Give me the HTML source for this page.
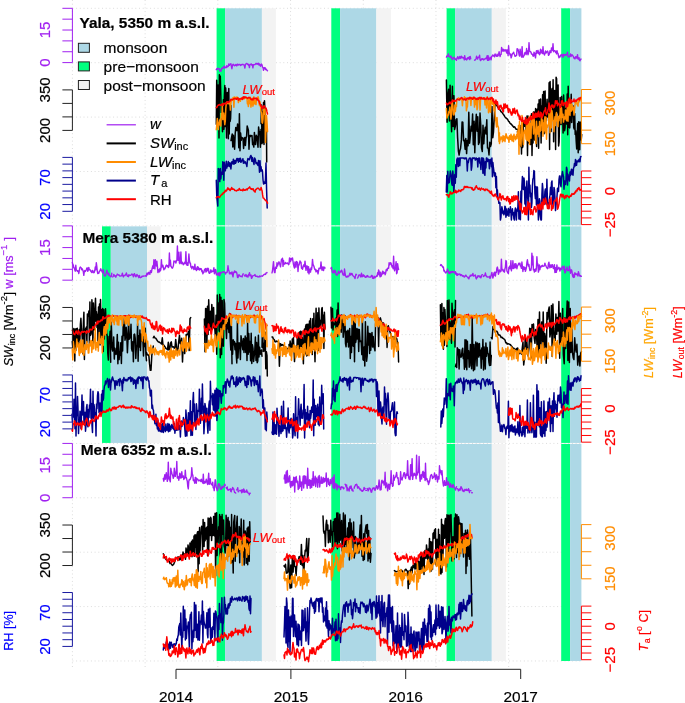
<!DOCTYPE html>
<html><head><meta charset="utf-8"><style>html,body{margin:0;padding:0;background:#fff;overflow:hidden}svg{display:block;will-change:transform} text{stroke-width:0.2px;paint-order:stroke}</style></head>
<body><svg width="685" height="703" viewBox="0 0 685 703">
<rect width="685" height="703" fill="#fff"/>
<line x1="72.40" y1="0" x2="72.40" y2="669" stroke="#dcdcdc" stroke-width="1" stroke-dasharray="1 2.7"/>
<line x1="145.11" y1="0" x2="145.11" y2="669" stroke="#dcdcdc" stroke-width="1" stroke-dasharray="1 2.7"/>
<line x1="217.83" y1="0" x2="217.83" y2="669" stroke="#dcdcdc" stroke-width="1" stroke-dasharray="1 2.7"/>
<line x1="290.54" y1="0" x2="290.54" y2="669" stroke="#dcdcdc" stroke-width="1" stroke-dasharray="1 2.7"/>
<line x1="363.26" y1="0" x2="363.26" y2="669" stroke="#dcdcdc" stroke-width="1" stroke-dasharray="1 2.7"/>
<line x1="435.97" y1="0" x2="435.97" y2="669" stroke="#dcdcdc" stroke-width="1" stroke-dasharray="1 2.7"/>
<line x1="508.69" y1="0" x2="508.69" y2="669" stroke="#dcdcdc" stroke-width="1" stroke-dasharray="1 2.7"/>
<line x1="72.4" y1="8.30" x2="581.4" y2="8.30" stroke="#dcdcdc" stroke-width="1" stroke-dasharray="1 2.7"/>
<line x1="72.4" y1="62.69" x2="581.4" y2="62.69" stroke="#dcdcdc" stroke-width="1" stroke-dasharray="1 2.7"/>
<line x1="72.4" y1="117.08" x2="581.4" y2="117.08" stroke="#dcdcdc" stroke-width="1" stroke-dasharray="1 2.7"/>
<line x1="72.4" y1="171.47" x2="581.4" y2="171.47" stroke="#dcdcdc" stroke-width="1" stroke-dasharray="1 2.7"/>
<line x1="72.4" y1="225.86" x2="581.4" y2="225.86" stroke="#dcdcdc" stroke-width="1" stroke-dasharray="1 2.7"/>
<line x1="72.4" y1="280.25" x2="581.4" y2="280.25" stroke="#dcdcdc" stroke-width="1" stroke-dasharray="1 2.7"/>
<line x1="72.4" y1="334.64" x2="581.4" y2="334.64" stroke="#dcdcdc" stroke-width="1" stroke-dasharray="1 2.7"/>
<line x1="72.4" y1="389.03" x2="581.4" y2="389.03" stroke="#dcdcdc" stroke-width="1" stroke-dasharray="1 2.7"/>
<line x1="72.4" y1="443.42" x2="581.4" y2="443.42" stroke="#dcdcdc" stroke-width="1" stroke-dasharray="1 2.7"/>
<line x1="72.4" y1="497.81" x2="581.4" y2="497.81" stroke="#dcdcdc" stroke-width="1" stroke-dasharray="1 2.7"/>
<line x1="72.4" y1="552.20" x2="581.4" y2="552.20" stroke="#dcdcdc" stroke-width="1" stroke-dasharray="1 2.7"/>
<line x1="72.4" y1="606.59" x2="581.4" y2="606.59" stroke="#dcdcdc" stroke-width="1" stroke-dasharray="1 2.7"/>
<line x1="72.4" y1="660.98" x2="581.4" y2="660.98" stroke="#dcdcdc" stroke-width="1" stroke-dasharray="1 2.7"/>
<rect x="216.60" y="8.30" width="8.50" height="217.06" fill="#00ff7f"/>
<rect x="225.10" y="8.30" width="36.80" height="217.06" fill="#add8e6"/>
<rect x="261.90" y="8.30" width="14.00" height="217.06" fill="#f3f3f3"/>
<rect x="331.30" y="8.30" width="8.80" height="217.06" fill="#00ff7f"/>
<rect x="340.10" y="8.30" width="36.30" height="217.06" fill="#add8e6"/>
<rect x="376.40" y="8.30" width="14.50" height="217.06" fill="#f3f3f3"/>
<rect x="446.60" y="8.30" width="8.50" height="217.06" fill="#00ff7f"/>
<rect x="455.10" y="8.30" width="36.70" height="217.06" fill="#add8e6"/>
<rect x="491.80" y="8.30" width="14.10" height="217.06" fill="#f3f3f3"/>
<rect x="561.20" y="8.30" width="8.90" height="217.06" fill="#00ff7f"/>
<rect x="570.10" y="8.30" width="11.30" height="217.06" fill="#add8e6"/>
<rect x="102.00" y="226.36" width="8.80" height="216.56" fill="#00ff7f"/>
<rect x="110.80" y="226.36" width="36.20" height="216.56" fill="#add8e6"/>
<rect x="147.00" y="226.36" width="13.60" height="216.56" fill="#f3f3f3"/>
<rect x="216.60" y="226.36" width="8.50" height="216.56" fill="#00ff7f"/>
<rect x="225.10" y="226.36" width="36.80" height="216.56" fill="#add8e6"/>
<rect x="261.90" y="226.36" width="14.00" height="216.56" fill="#f3f3f3"/>
<rect x="331.30" y="226.36" width="8.80" height="216.56" fill="#00ff7f"/>
<rect x="340.10" y="226.36" width="36.30" height="216.56" fill="#add8e6"/>
<rect x="376.40" y="226.36" width="14.50" height="216.56" fill="#f3f3f3"/>
<rect x="446.60" y="226.36" width="8.50" height="216.56" fill="#00ff7f"/>
<rect x="455.10" y="226.36" width="36.70" height="216.56" fill="#add8e6"/>
<rect x="491.80" y="226.36" width="14.10" height="216.56" fill="#f3f3f3"/>
<rect x="561.20" y="226.36" width="8.90" height="216.56" fill="#00ff7f"/>
<rect x="570.10" y="226.36" width="11.30" height="216.56" fill="#add8e6"/>
<rect x="216.60" y="443.92" width="8.50" height="217.06" fill="#00ff7f"/>
<rect x="225.10" y="443.92" width="36.80" height="217.06" fill="#add8e6"/>
<rect x="261.90" y="443.92" width="14.00" height="217.06" fill="#f3f3f3"/>
<rect x="331.30" y="443.92" width="8.80" height="217.06" fill="#00ff7f"/>
<rect x="340.10" y="443.92" width="36.30" height="217.06" fill="#add8e6"/>
<rect x="376.40" y="443.92" width="14.50" height="217.06" fill="#f3f3f3"/>
<rect x="446.60" y="443.92" width="8.50" height="217.06" fill="#00ff7f"/>
<rect x="455.10" y="443.92" width="36.70" height="217.06" fill="#add8e6"/>
<rect x="491.80" y="443.92" width="14.10" height="217.06" fill="#f3f3f3"/>
<rect x="561.20" y="443.92" width="8.90" height="217.06" fill="#00ff7f"/>
<rect x="570.10" y="443.92" width="11.30" height="217.06" fill="#add8e6"/>
<path d="M216.3,69.7 216.8,68.8 217.3,69.3 217.8,68.2 218.3,68.6 218.8,68.7 219.3,69.0 219.8,71.0 220.3,70.3 220.8,71.3 221.3,69.7 221.8,68.1 222.3,68.1 222.8,68.4 223.3,67.1 223.8,66.7 224.3,66.1 224.8,68.0 225.3,67.4 225.8,67.1 226.3,67.5 226.8,65.7 227.3,66.9 227.8,66.5 228.3,66.3 228.8,63.9 229.4,65.3 229.9,64.5 230.4,64.1 230.9,63.7 231.4,66.3 231.9,68.7 232.4,65.7 232.9,64.5 233.4,64.3 233.9,65.3 234.4,65.7 234.9,65.2 235.4,65.4 235.9,64.4 236.4,65.9 236.9,65.8 237.4,64.2 237.9,64.4 238.4,64.9 238.9,64.4 239.4,64.6 239.9,64.4 240.4,65.3 240.9,65.5 241.4,64.6 241.9,64.5 242.4,64.6 242.9,64.3 243.4,64.6 243.9,64.8 244.4,66.1 244.9,68.0 245.4,64.4 245.9,64.0 246.4,63.4 246.9,63.5 247.4,64.2 247.9,64.3 248.4,65.2 248.9,64.3 249.4,67.6 249.9,64.8 250.4,64.6 250.9,64.1 251.4,64.0 251.9,65.3 252.4,64.7 252.9,67.9 253.4,64.7 253.9,64.7 254.4,64.6 255.0,64.5 255.5,64.0 256.0,63.3 256.5,63.8 257.0,64.2 257.5,63.5 258.0,63.9 258.5,63.3 259.0,65.1 259.5,64.1 260.0,64.5 260.5,66.2 261.0,64.8 261.5,64.1 262.0,64.8 262.5,67.1 263.0,67.7 263.5,70.3 264.0,67.7 264.5,68.4 265.0,67.5 265.5,69.5 266.0,69.0 266.5,69.7 267.0,70.4 267.5,70.8" fill="none" stroke="#a020f0" stroke-width="1.4" stroke-linejoin="round" stroke-linecap="round"/>
<path d="M216.3,124.2 216.7,80.2 217.2,92.9 217.6,122.4 218.1,84.9 218.5,92.8 219.0,137.9 219.4,74.7 219.9,82.0 220.3,76.3 220.8,94.7 221.2,112.6 221.6,109.3 222.1,119.2 222.5,131.8 223.0,123.1 223.4,99.8 223.9,129.3 224.3,97.4 224.8,85.5 225.2,126.4 225.7,88.1 226.1,99.3 226.5,137.9 227.0,94.7 227.4,92.4 227.9,102.4 228.3,138.7 228.8,88.6 229.2,134.0 229.7,106.3 230.1,121.5 230.6,118.3 231.0,105.5 M231.0,140.6 231.6,137.1 232.2,134.1 232.8,147.0 233.4,135.3 234.0,143.2 234.6,149.2 235.2,133.7 235.8,127.4 236.4,130.5 237.0,130.4 237.6,123.9 238.2,130.6 238.8,147.7 239.4,113.8 240.0,150.8 240.6,133.0 241.2,140.3 241.8,137.5 242.4,138.2 243.0,138.1 243.6,148.5 244.2,140.6 244.8,137.6 245.4,145.5 246.0,138.2 246.6,136.0 247.2,125.9 247.8,128.1 248.4,130.1 249.0,149.3 249.6,135.6 250.2,136.7 250.8,135.4 251.4,135.9 252.0,135.6 252.6,144.6 253.2,143.5 253.8,147.1 254.4,132.4 255.0,143.7 255.6,144.5 256.2,135.3 256.8,136.1 257.4,140.9 258.0,147.3 258.6,127.0 259.2,132.2 259.8,131.8 260.4,147.3 261.0,129.5 M261.0,123.8 261.5,105.1 262.0,143.8 262.5,112.2 263.0,142.5 263.5,102.6 264.0,144.4 264.5,100.8 265.0,110.4 265.5,121.5 266.0,117.5 266.5,129.5 266.7,162.0" fill="none" stroke="#000000" stroke-width="1.5" stroke-linejoin="round" stroke-linecap="round"/>
<path d="M216.3,129.8 216.8,124.8 217.3,118.4 217.8,121.5 218.3,129.6 218.8,123.0 219.3,125.0 219.8,120.0 220.3,119.1 220.8,126.1 221.3,113.5 221.8,117.5 222.3,105.9 222.8,119.6 223.3,113.9 223.8,113.1 224.3,119.2 224.8,124.7 225.3,120.8 225.8,108.7 226.3,102.4 226.8,103.9 227.3,101.9 227.8,101.9 228.3,103.7 228.8,102.5 229.4,103.8 229.9,102.8 230.4,110.1 230.9,103.3 231.4,100.2 231.9,100.4 232.4,99.2 232.9,97.8 233.4,97.5 233.9,107.3 234.4,97.1 234.9,97.7 235.4,97.4 235.9,97.8 236.4,97.3 236.9,97.1 237.4,97.3 237.9,97.7 238.4,102.6 238.9,99.4 239.4,98.9 239.9,99.2 240.4,101.2 240.9,98.6 241.4,98.1 241.9,97.7 242.4,97.7 242.9,98.0 243.4,97.9 243.9,99.1 244.4,98.0 244.9,97.9 245.4,98.2 245.9,98.0 246.4,97.2 246.9,97.8 247.4,103.8 247.9,103.7 248.4,106.5 248.9,98.1 249.4,103.7 249.9,97.2 250.4,97.5 250.9,107.1 251.4,104.3 251.9,103.1 252.4,98.2 252.9,106.2 253.4,104.1 253.9,96.8 254.4,102.3 255.0,104.1 255.5,100.0 256.0,104.6 256.5,99.3 257.0,99.4 257.5,97.8 258.0,96.7 258.5,98.1 259.0,102.6 259.5,105.6 260.0,101.8 260.5,105.7 261.0,111.6 261.5,112.8 262.0,122.3 262.5,123.2 263.0,119.5 263.5,109.0 264.0,114.2 264.5,111.2 265.0,108.4 265.5,142.6 266.0,127.8 266.5,115.6 267.0,122.0 267.5,131.7" fill="none" stroke="#ff8c00" stroke-width="1.5" stroke-linejoin="round" stroke-linecap="round"/>
<path d="M216.3,107.6 216.8,107.3 217.3,106.3 217.8,105.6 218.3,105.0 218.8,105.2 219.3,104.8 219.8,104.5 220.3,105.0 220.8,105.2 221.3,105.4 221.8,104.3 222.3,103.7 222.8,104.2 223.3,105.6 223.8,103.2 224.3,103.4 224.8,103.8 225.3,103.6 225.8,104.0 226.3,103.6 226.8,101.9 227.3,101.7 227.8,102.4 228.3,102.3 228.8,102.4 229.4,101.3 229.9,101.2 230.4,100.8 230.9,99.2 231.4,99.4 231.9,99.8 232.4,99.7 232.9,99.5 233.4,99.0 233.9,98.8 234.4,98.8 234.9,98.2 235.4,98.9 235.9,98.7 236.4,99.3 236.9,98.4 237.4,98.7 237.9,97.8 238.4,100.2 238.9,99.9 239.4,98.8 239.9,98.9 240.4,99.0 240.9,98.6 241.4,99.0 241.9,98.3 242.4,99.5 242.9,97.4 243.4,96.9 243.9,98.1 244.4,97.6 244.9,96.7 245.4,97.3 245.9,97.4 246.4,97.6 246.9,97.7 247.4,98.5 247.9,98.2 248.4,97.9 248.9,97.4 249.4,97.8 249.9,97.6 250.4,98.6 250.9,99.2 251.4,99.6 251.9,99.1 252.4,99.7 252.9,99.9 253.4,98.6 253.9,98.0 254.4,98.6 255.0,98.7 255.5,98.3 256.0,98.1 256.5,98.2 257.0,99.9 257.5,98.9 258.0,99.8 258.5,100.8 259.0,100.8 259.5,103.0 260.0,104.2 260.5,104.4 261.0,106.3 261.5,106.1 262.0,108.6 262.5,107.2 263.0,108.0 263.5,106.3 264.0,105.7 264.5,106.3 265.0,107.6 265.5,108.3 266.0,108.1 266.5,109.5 267.0,111.9 267.5,114.0" fill="none" stroke="#ff0000" stroke-width="1.5" stroke-linejoin="round" stroke-linecap="round"/>
<path d="M216.3,180.3 216.8,197.4 217.3,201.2 217.8,206.1 218.3,168.5 218.8,172.0 219.3,169.6 219.8,181.6 220.3,168.4 220.8,179.0 221.3,173.4 221.8,171.9 222.3,174.3 222.8,161.8 223.3,162.6 223.8,180.2 224.3,162.2 224.8,170.5 225.3,170.8 225.8,167.1 226.3,161.3 226.8,168.1 227.3,164.5 227.8,166.2 228.3,161.6 228.9,163.6 229.4,166.4 229.9,162.7 230.4,165.3 230.9,168.9 231.4,163.7 231.9,161.7 232.4,161.8 232.9,163.9 233.4,159.2 233.9,164.1 234.4,163.6 234.9,160.4 235.4,163.3 235.9,162.5 236.4,159.9 236.9,158.4 237.4,160.6 237.9,158.6 238.4,162.2 238.9,159.6 239.4,158.5 239.9,161.3 240.4,158.2 240.9,162.3 241.4,161.8 241.9,160.3 242.4,160.4 242.9,158.7 243.4,163.2 243.9,160.8 244.4,162.9 244.9,162.6 245.4,161.9 245.9,163.7 246.4,164.0 246.9,166.5 247.4,160.8 247.9,158.6 248.4,158.9 248.9,159.6 249.4,159.7 249.9,158.0 250.4,156.3 250.9,155.5 251.4,157.0 251.9,161.3 252.4,157.6 252.9,160.4 253.5,162.4 254.0,164.4 254.5,157.9 255.0,158.7 255.5,160.1 256.0,163.5 256.5,162.8 257.0,163.0 257.5,164.6 258.0,165.5 258.5,160.6 259.0,163.8 259.5,172.3 260.0,160.8 260.5,170.9 261.0,166.7 261.5,171.0 262.0,169.8 262.5,171.5 263.0,179.8 263.5,184.0 264.0,183.9 264.5,181.9 265.0,183.3 265.5,179.0 266.0,163.0 266.6,190.0 267.2,208.0" fill="none" stroke="#00008b" stroke-width="1.5" stroke-linejoin="round" stroke-linecap="round"/>
<path d="M216.3,197.8 216.8,196.7 217.3,197.0 217.8,196.7 218.3,196.5 218.8,197.1 219.3,197.5 219.8,197.2 220.3,196.2 220.8,195.6 221.3,194.9 221.8,194.3 222.3,194.4 222.8,193.9 223.3,192.6 223.8,193.0 224.3,192.1 224.8,192.3 225.3,190.3 225.8,190.7 226.3,191.0 226.8,190.3 227.3,189.1 227.8,187.9 228.3,189.1 228.8,188.6 229.2,189.6 229.7,190.2 230.2,190.5 230.7,189.1 231.2,189.2 231.7,187.5 232.2,188.5 232.7,189.3 233.2,188.9 233.7,189.3 234.2,189.5 234.7,190.3 235.2,190.6 235.7,190.6 236.2,190.8 236.7,190.9 237.2,190.1 237.7,190.1 238.2,190.3 238.7,189.6 239.2,188.5 239.7,189.2 240.2,190.3 240.7,190.1 241.2,190.0 241.7,190.2 242.2,190.2 242.7,190.8 243.2,188.9 243.7,189.5 244.2,190.3 244.7,189.9 245.2,190.3 245.7,189.6 246.2,189.7 246.7,189.1 247.2,189.9 247.7,188.7 248.2,188.4 248.7,187.9 249.2,187.6 249.7,186.9 250.2,188.3 250.7,188.5 251.2,189.3 251.7,188.8 252.2,189.4 252.7,189.0 253.2,188.8 253.7,190.8 254.2,190.7 254.7,191.4 255.1,192.1 255.6,189.4 256.1,189.6 256.6,188.9 257.1,188.5 257.6,188.2 258.1,188.2 258.6,188.5 259.1,189.0 259.6,190.0 260.1,189.9 260.6,189.8 261.1,187.5 261.6,189.3 262.1,190.9 262.6,194.9 263.1,198.0 263.6,198.0 264.1,198.6 264.6,199.5 265.1,199.9 265.6,200.5 266.1,200.3 266.6,201.8 267.1,201.8 267.6,203.2" fill="none" stroke="#ff0000" stroke-width="1.5" stroke-linejoin="round" stroke-linecap="round"/>
<path d="M446.4,57.2 446.9,56.0 447.4,56.3 447.9,55.5 448.4,54.0 448.9,56.4 449.4,56.6 449.9,57.0 450.4,57.4 450.9,56.0 451.4,57.0 451.9,58.9 452.4,59.4 452.8,58.6 453.3,57.8 453.8,57.3 454.3,57.6 454.8,59.4 455.3,58.9 455.8,58.9 456.3,60.4 456.8,59.0 457.3,57.5 457.8,56.7 458.3,58.1 458.8,58.9 459.3,58.1 459.8,56.5 460.3,58.1 460.8,58.4 461.3,56.2 461.8,56.7 462.3,57.7 462.8,57.5 463.3,58.0 463.8,57.6 464.3,59.9 464.7,55.6 465.2,59.4 465.7,58.3 466.2,59.6 466.7,59.9 467.2,59.1 467.7,57.7 468.2,57.8 468.7,58.7 469.2,57.0 469.7,59.6 470.2,56.4 470.7,58.6 M474.6,60.2 475.1,60.0 475.6,59.5 476.1,58.5 476.6,56.2 477.1,58.2 477.6,59.1 478.1,57.6 478.6,57.1 479.1,57.4 479.6,55.2 480.1,59.9 480.6,60.5 481.1,60.0 481.6,59.0 482.1,58.7 482.6,59.3 483.1,58.9 483.6,59.9 484.1,59.6 484.6,59.1 485.1,58.7 485.6,58.3 486.1,58.7 486.6,57.8 487.1,55.8 487.6,60.3 488.1,55.7 488.6,60.2 489.1,60.0 489.6,59.2 490.1,57.3 490.6,58.3 491.1,59.9 491.6,56.5 492.1,56.2 492.6,55.1 493.1,55.9 493.6,56.0 494.1,55.1 494.6,56.8 495.1,54.0 495.6,55.5 496.1,55.6 496.6,56.3 497.1,54.2 497.6,56.2 498.1,55.8 498.6,54.5 499.1,51.8 499.6,54.9 500.1,56.5 500.6,54.5 501.1,54.4 501.6,47.4 502.1,50.0 502.6,51.0 503.1,49.1 503.6,51.1 504.1,49.7 504.6,50.9 505.1,51.0 505.6,49.9 506.1,49.7 506.6,52.9 507.1,53.2 507.6,50.0 508.1,55.6 508.6,45.8 509.1,52.4 509.6,53.5 510.1,55.0 510.6,54.2 511.1,57.9 511.6,56.5 512.1,54.5 512.6,53.4 513.1,53.2 513.6,52.2 514.1,53.8 514.6,55.0 515.1,56.4 515.6,56.2 516.1,55.6 516.6,55.4 517.1,48.7 517.6,49.0 518.1,49.7 518.6,52.0 519.1,55.0 519.6,56.1 520.1,49.2 520.6,52.6 521.1,55.0 521.6,57.0 522.1,46.6 522.6,56.7 523.1,57.2 523.6,56.0 524.1,55.6 524.6,53.5 525.1,52.4 525.6,52.8 526.1,54.6 526.6,48.5 527.1,53.5 527.6,51.0 528.0,54.8 528.5,53.1 529.0,42.6 529.5,50.6 530.0,51.5 530.5,51.7 531.0,52.3 531.5,54.1 532.0,54.0 532.5,54.6 533.0,56.0 533.5,56.2 534.0,52.3 534.5,53.2 535.0,55.7 535.5,57.8 536.0,53.2 536.5,50.7 537.0,53.2 537.5,51.1 538.0,50.4 538.5,53.5 539.0,52.4 539.5,54.7 540.0,53.8 540.5,49.3 541.0,52.8 541.5,50.1 542.0,50.8 542.5,53.5 543.0,46.7 543.5,53.5 544.0,53.9 544.5,55.0 545.0,52.8 545.5,50.9 546.0,53.0 546.5,52.3 547.0,51.7 547.5,51.1 548.0,52.1 548.5,55.4 549.0,54.8 549.5,53.7 550.0,50.8 550.5,51.8 551.0,52.5 551.5,47.9 552.0,48.0 552.5,50.2 553.0,43.7 553.5,51.7 554.0,50.7 554.5,50.6 555.0,50.6 555.5,52.2 556.0,51.6 556.5,53.8 557.0,50.6 557.5,53.0 558.0,53.5 558.5,56.0 559.0,57.9 559.5,56.2 560.0,56.9 560.5,56.0 561.0,54.9 561.5,54.7 562.0,54.5 562.5,57.0 563.0,57.0 563.5,54.3 564.0,55.6 564.5,54.7 565.0,55.6 565.5,54.9 566.0,54.3 566.5,55.0 567.0,54.1 567.5,52.1 568.0,56.8 568.5,56.4 569.0,57.1 569.5,55.9 570.0,56.0 570.5,54.0 571.0,56.5 571.5,55.3 572.0,54.8 572.5,55.3 573.0,56.0 573.5,56.9 574.0,58.3 574.5,57.9 575.0,58.9 575.5,56.8 576.0,56.6 576.5,58.0 577.0,58.1 577.5,54.6 578.0,59.0 578.5,58.9 579.0,57.7 579.5,60.3 580.0,60.7 580.5,59.4 581.0,59.1" fill="none" stroke="#a020f0" stroke-width="1.4" stroke-linejoin="round" stroke-linecap="round"/>
<path d="M446.4,80.1 447.1,122.2 447.9,94.7 448.6,89.3 449.4,121.1 450.1,85.2 450.9,112.5 451.6,131.8 452.4,86.3 453.1,126.6 453.9,95.8 454.6,129.6 455.4,126.2 456.1,119.5 456.9,118.7 457.6,137.4 458.4,151.1 459.1,155.0 459.9,150.4 460.6,148.3 461.4,139.9 462.1,121.9 462.8,122.1 463.6,140.8 464.3,140.3 465.1,149.3 465.8,138.6 466.6,153.6 467.3,140.4 468.1,145.8 468.8,112.3 469.6,143.3 470.3,136.1 471.1,126.3 471.8,131.0 472.6,114.1 473.3,144.7 474.1,121.2 474.8,152.7 475.6,125.9 476.3,114.2 477.1,131.2 477.8,116.8 478.5,144.4 479.3,142.2 480.0,112.9 480.8,125.9 481.5,147.8 482.3,151.5 483.0,125.2 483.8,143.8 484.5,131.8 485.3,127.3 486.0,133.9 486.8,119.7 487.5,148.0 488.3,148.2 489.0,155.0 489.8,142.3 490.5,146.5 491.3,143.8 492.0,106.5 492.8,137.7 493.5,131.8 495.0,102.7 M495.0,103.4 495.8,104.5 496.5,105.1 497.2,106.2 498.0,107.4 498.8,108.7 499.5,109.6 500.2,110.0 501.0,111.6 501.8,112.3 502.5,113.0 503.2,114.1 504.0,115.2 504.8,116.6 505.5,117.6 506.2,118.1 507.0,118.8 507.8,119.8 508.5,121.3 509.2,121.6 510.0,123.3 510.8,124.0 511.5,124.3 512.2,125.4 513.0,126.2 513.8,127.2 514.5,126.8 515.2,127.8 516.0,129.2 516.8,129.2 517.5,129.5 M517.5,131.3 518.0,136.4 518.5,135.4 519.0,142.6 519.5,144.8 520.0,128.0 520.5,146.4 521.0,125.5 521.5,153.9 522.0,120.4 522.5,147.6 523.0,145.6 523.5,121.7 524.0,121.1 524.5,126.3 525.0,124.4 525.5,119.6 526.0,128.4 526.5,133.6 527.0,116.0 527.5,155.4 528.0,116.0 528.5,136.3 529.0,142.9 529.5,142.0 530.0,142.8 530.5,144.6 531.0,124.2 531.5,113.8 532.0,155.6 532.5,129.2 533.0,143.0 533.5,112.1 534.1,112.1 534.6,140.1 535.1,128.2 535.6,108.6 536.1,111.2 536.6,146.5 537.1,109.2 537.6,126.6 538.1,104.1 538.6,148.3 539.1,99.8 539.6,131.6 540.1,117.7 540.6,99.0 541.1,143.1 541.6,106.3 542.1,125.3 542.6,94.8 543.1,121.3 543.6,91.6 544.1,133.8 544.6,93.8 545.1,91.1 545.6,121.4 546.1,120.3 546.6,107.4 547.1,99.3 547.6,116.9 548.1,108.3 548.6,121.0 549.1,82.8 549.6,149.6 550.1,81.6 550.6,103.0 551.1,131.4 551.6,90.9 552.1,88.5 552.6,119.3 553.1,79.7 553.6,141.7 554.1,92.8 554.6,90.5 555.1,99.6 555.6,149.4 556.1,77.2 556.6,78.8 557.1,112.8 557.6,87.6 558.1,85.0 558.6,146.0 559.1,141.9 559.6,121.1 560.1,97.6 560.6,115.6 561.1,124.6 561.6,96.6 562.1,106.9 562.6,112.7 563.1,133.1 563.6,95.0 564.1,107.5 564.6,130.7 565.1,127.7 565.7,108.1 566.2,113.9 566.7,124.1 567.2,93.9 567.7,134.7 568.2,86.2 568.7,127.3 569.2,108.3 569.7,127.9 570.2,120.5 570.7,115.5 571.2,94.2 571.7,122.4 572.2,109.2 572.7,112.1 573.2,106.1 573.7,127.5 574.2,129.0 574.7,113.6 575.2,134.4 575.7,130.7 576.2,141.5 576.7,149.0 577.2,135.4 577.7,123.4 578.2,152.7 578.7,121.8 579.2,136.8 579.7,149.8 580.2,122.1 580.7,124.2 581.2,139.9 581.7,134.6" fill="none" stroke="#000000" stroke-width="1.5" stroke-linejoin="round" stroke-linecap="round"/>
<path d="M446.4,108.6 446.9,118.1 447.4,116.5 447.9,115.0 448.4,114.9 448.9,111.4 449.4,112.2 449.9,107.0 450.4,113.8 450.9,119.1 451.4,114.9 451.9,103.1 452.4,102.3 452.9,106.2 453.4,114.3 453.9,115.0 454.4,113.2 454.9,105.0 455.4,111.4 455.9,104.8 456.4,106.6 456.9,99.5 457.4,98.7 457.9,98.8 458.4,97.9 458.9,98.0 459.4,99.7 459.9,99.7 460.4,99.5 460.9,98.7 461.4,99.5 461.9,99.1 462.4,105.7 462.9,99.9 463.4,98.9 463.9,99.2 464.4,96.7 464.9,98.3 465.4,97.7 465.9,98.5 466.4,110.8 466.9,107.5 467.4,107.0 467.9,98.7 468.4,98.0 468.9,97.8 469.4,98.7 469.9,99.5 470.4,97.9 470.9,105.5 471.4,97.6 471.9,98.5 472.4,97.5 472.9,99.3 473.5,99.3 474.0,98.9 474.5,107.1 475.0,97.9 475.5,98.3 476.0,104.7 476.5,98.8 477.0,109.8 477.5,108.0 478.0,98.3 478.5,98.6 479.0,98.1 479.5,97.5 480.0,110.1 480.5,100.1 481.0,97.3 481.5,98.4 482.0,98.3 482.5,99.2 483.0,99.3 483.5,98.4 484.0,98.9 484.5,97.7 485.0,105.0 485.5,98.8 486.0,98.1 486.5,108.0 487.0,97.0 487.5,98.9 488.0,98.6 488.5,112.8 489.0,110.9 489.5,110.6 490.0,97.6 490.5,112.3 491.0,98.3 491.5,99.0 492.0,101.8 492.5,104.2 493.0,104.3 493.5,101.0 494.0,110.7 494.5,102.8 495.0,112.8 495.5,119.5 496.0,121.5 496.5,127.0 497.0,117.4 497.5,125.3 498.0,126.4 498.5,127.8 499.0,141.8 499.5,133.1 M499.5,143.5 500.0,140.4 500.5,139.2 501.0,136.8 501.5,138.9 502.0,137.5 502.5,141.8 503.0,135.8 503.5,140.5 504.0,136.3 504.5,139.7 505.0,141.5 505.5,136.7 506.0,133.8 506.5,135.5 507.0,138.0 507.5,138.6 508.0,137.2 508.5,138.9 509.0,142.3 509.5,135.8 510.0,138.2 510.5,139.4 511.0,134.3 511.5,136.9 512.0,140.8 512.5,137.9 513.0,135.9 513.5,141.6 514.0,134.3 514.5,137.9 515.0,136.8 515.5,139.7 516.0,137.0 516.5,134.8 517.0,138.7 517.5,131.8 518.0,134.7 518.5,125.5 519.0,154.3 519.5,121.5 520.0,143.7 520.5,135.0 521.0,146.2 521.5,129.3 522.0,115.6 522.5,130.3 523.0,140.2 523.5,144.7 524.0,133.4 524.5,130.2 525.0,133.0 525.5,130.5 526.0,139.3 526.5,119.7 527.0,140.5 527.5,120.4 528.0,130.4 528.5,141.3 529.0,116.9 529.5,144.5 530.0,123.3 530.5,125.3 531.0,138.2 531.5,116.8 532.0,117.9 532.5,125.0 533.0,119.2 533.5,134.0 534.0,115.2 534.5,125.7 535.0,131.1 535.5,140.6 536.0,143.5 536.5,121.2 537.0,129.5 537.5,134.1 538.0,128.9 538.5,126.4 539.0,136.8 539.5,121.6 540.0,131.6 540.5,130.5 541.0,130.5 541.5,116.0 542.0,124.1 542.5,120.1 543.0,136.3 543.5,123.2 544.0,130.9 544.5,120.3 545.0,116.7 545.5,132.7 546.0,117.2 546.5,139.2 547.0,125.3 547.5,127.2 548.0,125.7 548.5,123.7 549.0,113.6 549.5,116.1 550.0,132.8 550.5,121.7 551.0,107.9 551.5,127.7 552.0,110.8 552.5,116.1 553.0,120.6 553.5,120.6 554.0,131.7 554.5,121.6 555.0,116.7 555.5,125.5 556.0,114.6 556.5,112.5 557.0,121.0 557.5,118.9 558.0,126.6 558.5,116.4 559.0,120.7 559.5,116.0 560.0,114.6 560.5,104.4 561.0,123.3 561.5,107.7 562.0,114.1 562.5,117.5 563.0,114.2 563.5,122.1 564.0,118.0 564.5,116.8 565.0,119.0 565.5,110.0 566.0,112.3 566.5,120.8 567.0,110.5 567.5,106.2 568.0,121.2 568.5,104.1 569.0,114.6 569.5,101.0 570.0,115.5 570.5,102.6 571.0,103.6 571.5,111.1 572.0,104.3 572.5,109.8 573.0,106.8 573.5,107.6 574.0,115.1 574.5,110.4 575.0,104.6 575.5,102.0 576.0,102.0 576.5,101.9 577.0,104.2 577.5,104.7 578.0,106.1 578.5,99.4 579.0,101.8 579.5,101.5 580.0,99.9 580.5,100.0 581.0,99.1" fill="none" stroke="#ff8c00" stroke-width="1.5" stroke-linejoin="round" stroke-linecap="round"/>
<path d="M446.4,103.1 446.9,104.7 447.4,104.5 447.9,104.3 448.4,103.5 448.9,103.6 449.4,102.3 449.9,103.5 450.4,103.7 450.9,102.1 451.4,102.3 451.9,102.0 452.4,100.0 452.9,100.2 453.4,101.4 453.9,101.4 454.4,100.3 454.9,100.9 455.4,100.7 455.9,101.2 456.4,99.8 456.9,99.5 457.4,99.0 457.9,99.4 458.4,99.8 458.9,99.8 459.4,99.9 459.9,98.8 460.4,98.7 460.9,98.1 461.4,97.7 461.9,97.6 462.4,98.7 462.9,99.1 463.4,99.8 463.9,99.2 464.4,99.6 464.9,98.8 465.4,99.5 465.9,100.2 466.4,99.3 466.9,98.3 467.4,98.2 467.9,98.2 468.4,99.0 468.9,99.1 469.4,97.9 469.9,97.2 470.4,97.7 470.9,98.7 471.4,98.3 471.9,98.0 472.4,99.3 472.9,98.6 473.4,98.6 473.9,97.1 474.4,97.6 474.9,98.2 475.4,98.6 475.9,99.4 476.4,98.5 476.9,99.5 477.4,98.2 477.9,98.9 478.4,99.3 478.9,97.7 479.4,98.1 479.9,97.3 480.4,98.2 480.9,99.1 481.4,97.6 481.9,98.2 482.4,98.6 482.9,98.8 483.4,98.2 483.9,97.8 484.4,99.2 484.9,98.8 485.4,99.1 485.9,99.5 486.4,98.7 486.9,98.5 487.4,97.3 487.9,98.4 488.4,99.5 488.9,98.8 489.4,99.1 489.9,98.6 490.4,99.5 490.9,97.7 491.4,98.2 491.9,97.4 492.4,98.3 492.9,101.0 493.4,98.9 493.9,101.9 494.4,103.1 494.9,101.6 495.4,103.4 495.9,99.9 496.4,102.0 496.9,104.5 497.4,101.7 497.9,105.2 498.4,109.2 498.9,108.9 499.4,109.3 499.9,105.5 500.4,106.9 500.9,105.3 501.4,107.1 501.9,109.1 502.4,108.0 502.9,111.5 503.4,111.8 503.9,103.9 504.4,107.7 504.9,108.2 505.4,104.1 505.9,106.5 506.4,107.5 506.9,105.4 507.4,105.3 507.9,109.3 508.4,112.4 508.9,108.8 509.4,110.2 509.9,109.4 510.4,112.9 510.9,111.9 511.4,115.1 511.9,115.0 512.4,112.9 512.9,108.8 513.4,110.1 514.0,113.1 514.5,108.3 515.0,111.3 515.5,113.7 516.0,111.6 516.5,110.8 517.0,110.0 517.5,111.9 518.0,115.7 518.5,114.1 519.0,116.4 519.5,119.7 520.0,116.1 520.5,119.5 521.0,120.1 521.5,121.3 522.0,121.2 522.5,117.3 523.0,121.3 523.5,120.7 524.0,122.5 524.5,123.4 525.0,122.7 525.5,117.4 526.0,123.2 526.5,124.6 527.0,124.2 527.5,119.1 528.0,122.9 528.5,121.9 529.0,117.9 529.5,120.2 530.0,119.2 530.5,115.7 531.0,118.1 531.5,119.5 532.0,118.9 532.5,118.2 533.0,113.0 533.5,113.0 534.0,118.8 534.5,117.7 535.0,115.5 535.5,113.2 536.0,117.3 536.5,114.4 537.0,113.3 537.5,116.8 538.0,113.4 538.5,111.3 539.0,116.7 539.5,114.9 540.0,117.0 540.5,112.3 541.0,115.8 541.5,113.0 542.0,117.8 542.5,116.5 543.0,115.5 543.5,113.3 544.0,111.6 544.5,110.6 545.0,110.5 545.5,107.7 546.0,113.5 546.5,114.7 547.0,112.5 547.5,112.9 548.0,109.6 548.5,108.7 549.0,103.0 549.5,106.8 550.0,111.9 550.5,107.4 551.0,106.5 551.5,105.2 552.0,105.1 552.5,106.9 553.0,105.1 553.5,107.8 554.0,107.2 554.5,106.9 555.0,104.7 555.5,100.7 556.0,101.9 556.5,103.2 557.0,100.7 557.5,105.7 558.0,103.7 558.5,103.2 559.0,104.4 559.5,105.1 560.0,107.4 560.5,107.2 561.0,105.4 561.5,101.0 562.0,100.9 562.5,100.8 563.0,105.5 563.5,105.5 564.0,103.1 564.5,103.4 565.0,102.9 565.5,103.5 566.0,107.4 566.5,101.4 567.0,105.7 567.5,106.5 568.0,104.0 568.5,99.7 569.0,99.2 569.5,98.1 570.0,103.3 570.5,103.1 571.0,100.2 571.5,99.7 572.0,101.7 572.5,101.7 573.0,101.5 573.5,101.2 574.0,99.1 574.5,101.8 575.0,101.5 575.5,100.7 576.0,100.1 576.5,101.2 577.0,100.1 577.5,99.2 578.0,99.2 578.5,98.5 579.0,98.1 579.5,100.0 580.0,97.7 580.5,98.4 581.0,97.4" fill="none" stroke="#ff0000" stroke-width="1.5" stroke-linejoin="round" stroke-linecap="round"/>
<path d="M446.3,192.0 446.8,175.6 447.3,192.0 447.8,171.3 448.3,183.1 448.8,182.6 449.3,182.6 449.8,176.8 450.3,171.1 450.8,173.5 451.3,176.0 451.8,183.7 452.3,185.3 452.8,171.1 453.3,176.5 453.8,192.0 454.3,184.4 454.8,174.6 455.3,183.3 455.8,164.7 456.3,177.3 456.8,159.8 457.3,158.4 457.8,158.0 458.3,166.4 458.8,161.8 459.3,158.0 459.8,165.8 460.3,158.0 460.8,158.0 461.3,158.1 461.8,158.0 462.3,158.0 462.8,158.0 463.3,158.0 463.8,158.4 464.3,158.1 464.8,159.0 465.3,158.0 465.8,158.0 466.3,158.0 466.8,160.3 467.3,170.9 467.8,161.4 468.3,162.7 468.8,159.8 469.3,158.4 469.8,158.0 470.3,158.0 470.8,159.4 471.3,170.2 471.8,166.6 472.3,158.0 472.8,158.0 473.3,158.4 473.8,158.0 474.3,158.0 474.8,158.0 475.3,160.0 475.8,159.9 476.3,158.0 476.8,159.3 477.3,158.7 477.8,167.0 478.3,159.3 478.8,158.0 479.3,158.0 479.8,163.2 480.4,162.4 480.9,169.5 481.4,158.0 481.9,158.0 482.4,158.0 482.9,173.3 483.4,158.2 483.9,160.8 484.4,174.0 484.9,175.3 485.4,161.7 485.9,168.0 486.4,158.0 486.9,158.0 487.4,161.5 487.9,159.2 488.4,159.2 488.9,160.6 489.4,168.8 489.9,159.8 490.4,160.0 490.9,159.2 491.4,166.8 491.9,158.0 492.4,176.8 492.9,162.6 493.4,167.7 493.9,171.0 494.4,175.9 494.9,173.0 495.4,173.1 495.9,187.8 496.4,176.5 496.9,195.0 497.4,189.7 497.9,198.8 498.4,198.9 498.9,203.3 499.4,203.1 499.9,202.5 500.4,220.0 500.9,217.6 501.4,210.6 501.9,206.8 502.4,209.7 502.9,213.6 503.4,211.3 503.9,214.8 504.4,213.1 504.9,206.3 505.4,206.9 505.9,217.3 506.4,209.1 506.9,215.6 507.4,214.8 507.9,212.7 508.4,208.4 508.9,216.2 509.4,209.9 509.9,212.3 510.4,206.8 510.9,212.2 511.4,220.0 511.9,213.3 512.4,208.7 512.9,214.7 513.4,212.5 513.9,218.7 514.4,220.0 514.9,211.2 515.4,208.0 515.9,209.1 516.4,220.0 516.9,210.0 517.4,211.2 517.9,206.8 518.4,191.8 518.9,219.1 519.4,206.4 519.9,201.5 520.4,219.7 520.9,191.3 521.4,208.2 521.9,186.3 522.4,176.5 522.9,188.6 523.4,189.5 523.9,177.9 524.4,181.7 524.9,204.1 525.4,187.2 525.9,208.6 526.4,190.8 526.9,181.1 527.4,193.4 527.9,200.1 528.4,220.0 528.9,167.2 529.4,192.8 529.9,185.0 530.4,196.8 530.9,193.2 531.4,207.4 531.9,203.1 532.4,186.1 532.9,179.0 533.4,178.3 533.9,170.5 534.4,171.8 534.9,193.1 535.4,198.6 535.9,186.6 536.4,205.0 536.9,204.5 537.4,186.9 537.9,204.5 538.4,220.0 538.9,213.5 539.4,198.7 539.9,201.1 540.4,215.8 540.9,220.0 541.4,220.0 541.9,195.0 542.4,183.6 542.9,189.3 543.4,204.0 543.9,197.8 544.4,202.3 544.9,191.7 545.4,188.9 545.9,204.1 546.4,201.9 546.9,179.3 547.5,205.3 548.0,202.5 548.5,208.5 549.0,207.9 549.5,198.1 550.0,195.0 550.5,187.5 551.0,194.4 551.5,182.4 552.0,180.9 552.5,201.0 553.0,205.1 553.5,197.5 554.0,187.4 554.5,189.9 555.0,198.8 555.5,210.6 556.0,205.2 556.5,202.8 557.0,196.2 557.5,188.3 558.0,189.0 558.5,191.4 559.0,179.7 559.5,176.0 560.0,175.9 560.5,184.4 561.0,186.7 561.5,179.1 562.0,174.8 562.5,171.5 563.0,175.0 563.5,176.8 564.0,189.3 564.5,181.1 565.0,184.0 565.5,184.5 566.0,179.2 566.5,167.2 567.0,169.4 567.5,185.1 568.0,174.3 568.5,177.7 569.0,178.5 569.5,181.0 570.0,172.1 570.5,175.4 571.0,171.5 571.5,169.2 572.0,174.2 572.5,170.0 573.0,175.3 573.5,168.1 574.0,167.2 574.5,163.4 575.0,166.1 575.5,159.4 576.0,162.6 576.5,165.3 577.0,161.1 577.5,161.5 578.0,161.8 578.5,160.0 579.0,161.6 579.5,158.9 580.0,161.8 580.5,156.7 581.0,156.6" fill="none" stroke="#00008b" stroke-width="1.5" stroke-linejoin="round" stroke-linecap="round"/>
<path d="M446.3,194.7 446.8,194.6 447.3,194.5 447.8,195.8 448.3,195.3 448.8,197.2 449.3,194.6 449.8,194.6 450.3,191.7 450.8,192.6 451.3,193.3 451.8,193.9 452.3,192.9 452.8,193.4 453.3,192.6 453.8,192.4 454.3,192.1 454.8,192.5 455.3,190.3 455.8,191.3 456.3,192.9 456.8,191.1 457.3,191.5 457.8,191.9 458.3,191.5 458.8,190.0 459.3,190.5 459.8,191.0 460.3,190.8 460.8,191.4 461.3,189.7 461.8,189.9 462.3,189.7 462.8,189.9 463.3,189.0 463.8,188.9 464.3,186.6 464.8,186.5 465.3,187.4 465.8,186.5 466.3,186.6 466.8,187.5 467.3,186.6 467.8,187.3 468.3,187.5 468.8,187.3 469.3,187.6 469.8,187.5 470.3,187.5 470.8,187.5 471.3,187.7 471.8,189.0 472.3,187.9 472.8,189.7 473.3,190.1 473.8,189.6 474.3,189.7 474.8,189.2 475.3,187.3 475.8,187.5 476.3,185.8 476.8,187.1 477.3,188.0 477.8,188.3 478.3,189.3 478.8,188.6 479.3,188.1 479.8,189.3 480.4,190.1 480.9,188.9 481.4,188.0 481.9,188.9 482.4,189.1 482.9,189.3 483.4,188.8 483.9,190.0 484.4,190.0 484.9,190.6 485.4,189.1 485.9,189.9 486.4,189.5 486.9,189.2 487.4,189.6 487.9,190.6 488.4,190.7 488.9,190.6 489.4,192.1 489.9,191.7 490.4,193.3 490.9,192.4 491.4,191.1 491.9,194.6 492.4,194.2 492.9,195.8 493.4,195.6 493.9,196.5 494.4,195.0 494.9,194.3 495.4,194.0 495.9,195.7 496.4,196.7 496.9,197.0 497.4,198.1 497.9,199.5 498.4,199.9 498.9,197.3 499.4,197.7 499.9,193.6 500.4,194.4 500.9,198.0 501.4,200.0 501.9,196.5 502.4,197.8 502.9,195.7 503.4,197.8 503.9,199.3 504.4,199.4 504.9,198.8 505.4,198.9 505.9,198.5 506.4,200.7 506.9,197.1 507.4,196.5 507.9,196.8 508.4,200.8 508.9,201.8 509.4,198.4 509.9,204.1 510.4,203.4 510.9,199.4 511.4,201.6 511.9,196.5 512.4,200.9 512.9,201.7 513.4,197.1 513.9,195.7 514.4,200.1 514.9,200.3 515.4,197.4 515.9,195.7 516.4,199.2 516.9,196.7 517.4,196.2 517.9,198.7 518.4,200.7 518.9,201.4 519.4,204.9 519.9,209.5 520.4,203.3 520.9,204.2 521.4,210.9 521.9,210.6 522.4,213.1 522.9,211.7 523.4,211.6 523.9,207.4 524.4,211.4 524.9,214.5 525.4,207.3 525.9,207.0 526.4,214.7 526.9,214.4 527.4,210.7 527.9,201.8 528.4,203.9 528.9,205.0 529.4,209.6 529.9,203.0 530.4,214.5 530.9,213.6 531.4,209.4 531.9,214.0 532.4,213.5 532.9,214.8 533.4,209.7 533.9,209.0 534.4,206.8 534.9,206.6 535.4,209.4 535.9,212.1 536.4,211.0 536.9,208.9 537.4,205.0 537.9,205.3 538.4,205.2 538.9,209.4 539.4,204.5 539.9,204.1 540.4,208.9 540.9,209.9 541.4,206.2 541.9,202.3 542.4,204.6 542.9,208.9 543.4,199.1 543.9,203.0 544.4,204.5 544.9,202.9 545.4,198.1 545.9,200.0 546.4,202.1 546.9,203.9 547.5,208.4 548.0,205.3 548.5,205.9 549.0,208.7 549.5,199.3 550.0,201.0 550.5,204.1 551.0,197.6 551.5,210.3 552.0,206.8 552.5,205.7 553.0,208.5 553.5,204.8 554.0,201.5 554.5,201.2 555.0,201.1 555.5,200.2 556.0,200.8 556.5,198.3 557.0,197.9 557.5,209.3 558.0,208.2 558.5,206.3 559.0,203.8 559.5,200.0 560.0,197.1 560.5,194.5 561.0,194.2 561.5,194.5 562.0,197.1 562.5,196.9 563.0,194.6 563.5,195.9 564.0,197.5 564.5,198.7 565.0,196.5 565.5,195.6 566.0,197.8 566.5,196.1 567.0,195.3 567.5,196.0 568.0,196.3 568.5,196.6 569.0,197.8 569.5,197.2 570.0,196.2 570.5,195.6 571.0,196.3 571.5,194.5 572.0,193.6 572.5,194.6 573.0,194.4 573.5,193.6 574.0,194.3 574.5,193.2 575.0,192.1 575.5,192.8 576.0,190.8 576.5,190.2 577.0,191.0 577.5,188.8 578.0,189.5 578.5,188.0 579.0,187.6 579.5,188.8 580.0,190.4 580.5,189.7 581.0,189.8" fill="none" stroke="#ff0000" stroke-width="1.5" stroke-linejoin="round" stroke-linecap="round"/>
<path d="M72.3,262.6 72.8,264.0 73.3,265.2 73.8,267.8 74.3,267.9 74.8,269.9 75.3,271.2 75.8,265.2 76.3,270.1 76.8,270.2 77.3,271.3 77.8,270.7 78.3,271.3 78.8,273.5 79.3,270.7 79.8,267.9 80.3,267.0 80.8,267.7 81.3,267.9 81.8,269.7 82.3,268.9 82.8,270.2 83.3,271.6 83.8,275.3 84.3,271.7 84.8,270.6 85.3,271.5 85.8,270.6 86.3,269.9 86.8,268.2 87.3,267.9 87.8,271.3 88.3,269.7 88.8,267.4 89.3,269.9 89.8,269.7 90.3,270.0 90.8,271.3 91.3,271.9 91.8,272.6 92.3,270.4 92.8,270.6 93.3,272.5 93.8,272.7 94.3,272.2 94.8,270.3 95.3,266.9 95.8,269.7 96.3,262.7 96.8,266.4 97.3,271.2 97.8,273.6 98.3,273.4 98.8,273.2 99.3,271.4 99.8,271.1 100.3,269.9 100.8,268.8 101.3,270.5 101.8,271.0 102.3,272.3 102.8,272.7 103.3,269.6 103.8,273.1 104.3,275.8 104.8,275.7 105.3,275.9 105.8,274.7 106.3,273.0 106.8,270.1 107.3,271.9 107.8,273.3 108.3,274.9 108.8,273.3 109.3,275.5 109.8,275.6 110.3,276.5 110.8,276.8 111.3,276.5 111.8,273.3 M112.8,276.9 113.3,276.2 113.8,274.4 114.3,276.0 114.8,275.5 115.3,275.9 115.8,277.2 116.3,275.8 116.8,275.1 117.3,274.1 117.8,274.7 118.3,274.8 118.8,275.3 119.3,275.0 119.8,276.1 120.3,276.1 120.8,275.9 121.4,275.9 121.9,274.8 122.4,273.1 122.9,276.0 123.4,276.9 123.9,275.4 M124.9,275.7 125.4,274.5 125.9,274.8 126.4,272.9 126.9,275.1 127.4,276.3 127.9,276.0 128.4,276.7 128.9,274.7 129.4,275.6 M130.1,275.4 130.7,275.4 M131.4,274.5 131.9,274.0 132.4,274.9 132.9,274.4 133.4,276.8 133.9,274.6 134.4,273.7 134.9,274.5 135.4,276.3 135.9,276.7 136.4,276.0 136.9,274.5 137.4,275.2 137.9,275.8 138.4,276.7 138.9,277.7 139.4,275.4 139.9,276.8 140.4,277.7 M141.4,277.2 141.9,276.2 142.4,276.5 142.9,276.1 143.4,276.2 143.9,276.0 M144.9,276.0 145.4,276.0 145.9,275.4 146.4,276.2 146.9,273.1 147.4,273.8 147.9,274.7 148.4,272.4 148.9,272.5 149.4,273.6 149.9,274.2 150.4,270.6 150.9,271.4 151.4,272.5 151.9,269.5 152.4,267.5 152.9,265.7 153.4,268.4 153.9,259.7 154.4,264.9 154.9,268.9 155.4,259.7 155.9,265.0 156.4,265.9 156.9,261.3 157.4,266.3 157.9,272.5 158.4,270.5 158.9,269.7 159.4,271.8 159.9,268.5 160.4,270.9 160.9,268.9 161.4,259.6 161.9,267.1 162.4,265.4 162.9,265.3 163.4,267.9 163.9,269.9 164.4,268.2 164.9,268.8 165.4,267.5 165.9,265.8 166.4,265.1 166.9,265.7 167.4,266.6 167.9,265.5 168.4,267.5 168.9,266.6 169.4,253.0 169.9,265.1 170.4,260.2 170.9,266.4 171.4,266.8 171.9,267.9 172.4,268.2 172.9,267.1 173.4,265.8 173.9,261.0 174.4,261.3 174.9,261.7 175.4,261.2 175.9,263.1 176.4,260.5 176.9,260.6 177.4,245.9 177.9,259.7 178.4,260.3 178.9,252.1 179.4,262.9 179.9,263.7 180.4,260.8 180.9,252.0 181.4,263.3 181.9,263.7 182.4,262.1 182.9,263.1 183.4,264.7 183.9,264.1 184.4,263.4 184.9,262.0 185.4,263.4 185.9,251.7 186.4,264.8 186.9,262.7 187.4,265.4 187.9,265.3 188.4,261.1 188.9,254.0 189.4,260.3 189.9,263.0 190.4,263.2 190.9,267.1 191.4,266.8 191.9,268.7 192.4,266.4 192.9,266.7 193.4,267.3 193.9,269.5 194.4,268.3 194.9,264.3 195.4,269.4 195.9,268.6 196.4,270.6 196.9,267.8 197.4,266.7 197.9,269.6 198.4,267.1 198.9,268.7 199.4,270.1 199.9,268.7 200.4,269.5 200.9,268.6 201.4,269.0 201.9,271.7 202.4,270.8 202.9,273.8 203.4,272.4 203.9,272.4 204.4,269.9 204.9,269.2 205.4,268.6 205.9,272.0 206.4,271.7 206.9,268.5 207.4,270.7 207.9,268.2 208.4,268.7 208.9,272.7 209.4,273.3 209.9,273.1 210.4,271.5 210.9,269.8 211.4,272.1 211.9,271.1 212.4,271.2 212.9,271.6 213.4,270.0 213.9,267.8 214.4,273.7 214.9,272.7 215.4,269.5 215.9,270.0 216.4,274.9 216.9,274.6 217.4,274.7 217.9,273.2 218.5,275.1 219.0,272.7 219.5,275.7 220.0,275.3 220.5,272.3 221.0,273.0 221.5,272.9 222.0,272.6 222.5,271.9 223.0,271.9 223.5,271.8 224.0,272.3 224.5,271.9 225.0,272.8 225.5,274.0 226.0,272.4 226.5,272.4 227.0,272.6 227.5,270.5 228.0,265.8 228.5,269.9 229.0,271.0 229.5,273.8 230.0,272.8 230.5,272.7 231.0,273.9 231.5,272.9 232.0,271.9 232.5,274.9 233.0,276.8 233.5,272.8 234.0,272.4 234.5,271.0 235.0,272.6 235.5,271.4 236.0,271.9 236.5,272.2 237.0,273.9 237.5,277.3 238.0,277.6 238.5,275.3 239.0,274.8 239.5,275.3 240.0,276.2 240.5,276.5 241.0,276.1 241.5,276.3 242.0,276.9 242.5,275.5 243.0,274.0 243.5,273.9 M244.5,275.3 245.0,276.2 245.5,275.1 246.0,274.5 246.5,276.2 247.0,276.8 247.5,275.7 248.0,277.0 248.5,274.5 249.0,274.9 249.5,272.6 250.0,275.8 250.5,275.4 251.0,274.9 251.5,278.3 252.0,277.7 252.5,276.1 253.0,275.7 M254.0,275.5 254.5,275.2 255.0,274.6 255.5,276.2 256.0,276.3 M257.0,276.1 257.5,276.9 258.0,276.8 258.5,276.9 259.0,277.0 259.5,276.0 260.0,276.7 260.5,276.1 261.0,276.1 261.5,276.0 M262.5,276.2 263.0,275.5 263.5,275.0 264.0,274.6 264.5,274.2 265.0,274.2 265.5,274.5 266.0,273.0 266.5,273.0 267.0,272.6 M272.0,272.8 272.5,270.6 273.0,266.0 273.5,261.6 274.0,268.7 274.5,272.5 275.0,272.6 275.5,267.2 276.0,267.4 276.5,268.3 277.0,262.6 277.5,266.0 278.0,264.4 278.5,263.6 279.0,261.8 279.5,263.4 280.0,264.8 280.5,266.9 281.0,262.9 281.5,259.3 282.0,260.4 282.5,258.3 283.0,266.4 283.5,260.4 284.0,264.5 284.5,263.4 285.0,263.7 285.5,262.5 286.0,263.6 286.5,263.4 287.0,263.3 287.5,262.9 288.0,263.4 288.5,264.7 289.0,264.1 289.5,258.0 290.0,261.8 290.5,261.6 291.0,258.2 291.5,259.6 292.0,259.8 292.5,257.9 293.0,261.5 293.5,264.6 294.0,266.7 294.5,268.1 295.0,262.0 295.5,264.8 296.0,267.1 296.5,261.5 297.0,262.7 297.5,262.2 298.0,271.5 298.5,265.0 299.0,265.1 299.5,263.1 300.0,260.9 300.5,262.7 301.0,262.2 301.5,268.2 302.0,267.2 302.5,269.4 303.0,267.3 303.5,265.2 304.0,264.7 304.5,266.6 305.0,261.1 305.5,266.1 306.0,270.3 306.5,267.3 307.0,265.8 307.5,267.4 308.0,272.6 308.5,266.6 309.0,273.9 309.5,269.2 310.0,269.8 310.5,272.1 311.0,267.9 311.5,269.7 312.0,266.3 312.5,259.4 313.0,264.4 313.5,265.4 314.0,266.5 314.5,268.7 315.0,269.8 315.5,269.2 316.0,271.9 316.5,270.2 317.0,271.6 317.5,270.6 318.0,273.9 318.5,271.2 319.0,268.1 319.5,268.5 320.0,268.7 320.5,268.1 321.0,262.0 321.5,268.0 322.0,270.2 322.5,268.7 323.0,266.7 323.5,270.5 324.0,268.2 324.5,267.2 325.0,268.1 M331.0,268.5 331.5,267.4 332.0,270.7 332.5,272.7 333.0,272.5 333.5,271.0 334.0,272.8 334.5,270.1 335.0,272.3 335.5,270.9 336.0,274.7 336.5,274.9 337.0,275.2 337.5,274.3 338.0,273.4 338.5,271.2 339.0,272.8 339.5,273.1 340.0,272.4 340.5,271.1 341.0,271.7 341.5,270.1 342.0,271.1 342.5,273.0 343.0,274.7 343.5,274.3 344.0,275.6 344.5,269.0 345.0,272.8 345.5,275.6 346.0,276.8 346.5,277.1 347.0,276.8 347.5,276.1 348.0,276.9 348.5,276.2 349.0,275.9 349.5,274.5 350.0,273.1 350.5,275.0 351.0,274.7 351.5,273.4 352.0,273.4 352.5,275.0 353.0,275.7 353.5,276.3 354.0,276.7 354.5,277.2 355.0,278.6 355.5,275.8 356.0,274.2 356.5,274.7 M357.5,277.9 358.0,277.4 358.5,275.8 359.0,274.9 359.5,275.0 360.0,274.9 360.5,276.9 361.0,276.5 361.5,273.1 362.0,276.7 362.5,275.3 363.0,276.4 363.5,274.8 364.0,276.1 364.5,275.8 365.1,277.2 365.6,277.4 366.1,277.1 366.6,275.9 367.1,276.8 367.6,275.6 368.1,276.4 M368.8,277.1 369.4,277.1 M370.1,277.0 370.6,277.1 371.1,276.3 371.6,275.4 372.1,275.4 372.6,278.2 373.1,278.1 373.6,278.4 374.1,276.2 374.6,277.8 375.1,277.8 375.6,276.7 376.1,276.8 376.6,275.7 377.1,276.3 377.6,272.6 378.1,274.8 378.6,269.9 379.1,271.2 379.6,274.8 380.1,276.9 380.6,272.3 381.1,276.4 381.6,274.8 382.1,274.3 382.6,271.3 383.1,271.4 383.6,273.5 384.1,272.7 384.6,272.4 385.1,274.7 385.6,273.4 386.1,270.0 386.6,269.3 387.1,270.7 387.6,268.3 388.1,268.4 388.6,268.3 389.1,262.7 389.6,264.9 390.1,264.2 390.6,262.7 391.1,263.3 391.6,265.3 392.1,267.1 392.6,266.1 393.1,268.7 393.6,256.2 394.1,267.4 394.6,270.8 395.1,268.8 395.6,266.2 396.1,261.6 396.6,273.7 397.1,272.7 397.6,263.6 398.1,267.3 398.6,269.5 M440.4,265.5 440.9,264.6 441.4,264.9 441.9,265.6 442.4,266.7 442.9,267.4 443.4,267.0 443.9,271.0 444.4,270.4 444.9,271.9 445.4,272.6 445.9,273.1 446.4,271.7 446.9,272.1 447.4,269.0 447.9,270.8 448.4,271.3 448.9,273.3 449.4,272.0 449.9,273.6 450.4,272.8 450.9,271.6 451.4,272.5 451.9,271.5 452.4,272.5 452.9,271.4 453.4,271.7 453.9,271.8 454.4,273.0 454.9,273.0 455.4,271.7 455.9,274.4 456.4,273.1 456.9,275.3 457.4,275.2 457.9,273.8 458.4,274.6 M459.4,274.1 459.9,273.9 460.4,275.5 460.9,274.7 461.4,274.7 461.9,275.3 462.4,276.2 462.9,275.8 463.4,275.7 463.9,276.7 464.4,277.1 464.9,276.6 465.4,275.3 465.9,275.1 466.4,276.3 M467.4,277.0 467.9,277.4 468.4,278.6 468.9,278.7 469.4,276.9 469.9,276.5 470.4,275.1 470.9,276.0 471.4,275.1 471.9,275.5 472.4,275.1 472.9,273.5 473.4,276.0 473.9,276.0 474.4,275.5 474.9,275.4 475.4,275.0 475.9,278.0 476.4,278.9 476.9,277.2 477.4,277.5 477.9,275.7 478.4,275.9 478.9,275.9 479.4,277.0 479.9,276.0 480.4,276.6 480.9,277.9 481.4,276.4 481.9,274.8 482.4,274.6 M483.4,276.6 483.9,275.4 484.4,275.6 484.9,275.7 485.4,272.9 485.9,275.4 486.4,275.9 486.9,276.8 487.4,277.1 487.9,276.9 M488.9,277.1 489.4,276.3 489.9,278.2 490.4,278.0 490.9,275.9 491.4,274.3 491.9,272.4 492.4,275.6 492.9,278.0 493.4,275.8 493.9,273.2 494.4,272.2 494.9,275.4 495.4,275.9 495.9,271.9 496.4,272.3 496.9,268.1 497.4,267.1 497.9,269.5 498.4,274.3 498.9,272.7 499.4,270.0 499.9,271.1 500.4,271.8 500.9,271.4 501.4,259.1 501.9,269.7 502.4,270.1 502.9,269.5 503.4,271.2 503.9,270.4 504.4,272.2 504.9,269.0 505.4,267.2 505.9,260.5 506.4,261.6 506.9,271.0 507.4,272.0 507.9,272.9 508.4,273.4 508.9,267.4 509.4,268.5 509.9,266.0 510.4,268.9 510.9,260.6 511.4,270.8 511.9,267.4 512.4,268.3 512.9,260.8 513.4,268.3 513.9,268.5 514.4,265.5 514.9,263.7 515.4,267.7 515.9,263.6 516.4,265.6 516.9,268.7 517.4,266.1 517.9,265.4 518.4,264.0 518.9,263.2 519.4,264.4 519.9,263.1 520.4,266.1 520.9,266.6 521.4,268.3 521.9,262.0 522.4,266.5 522.9,271.5 523.4,267.2 523.9,266.7 524.4,269.3 524.9,267.7 525.4,271.3 525.9,269.7 526.4,267.5 526.9,262.5 527.4,259.8 527.9,263.6 528.4,266.0 528.9,264.4 529.4,267.9 529.9,270.5 530.4,270.3 530.9,270.2 531.4,267.1 531.9,253.2 532.4,264.9 532.9,256.3 533.4,269.9 533.9,269.2 534.4,272.1 534.9,270.8 535.4,269.0 535.9,271.2 536.4,268.4 536.9,256.8 537.4,265.4 537.9,263.8 538.4,272.1 538.9,270.0 539.4,265.0 539.9,269.6 540.4,266.5 540.9,267.2 541.4,266.0 541.9,266.1 542.4,265.3 542.9,266.4 543.4,266.1 543.9,266.1 544.4,265.7 544.9,263.1 545.4,264.7 545.9,265.8 546.4,267.1 546.9,267.7 547.4,268.7 547.9,268.4 548.4,263.9 548.9,262.2 549.4,266.0 549.9,267.8 550.4,264.9 550.9,266.7 551.4,267.2 551.9,264.6 552.4,264.6 552.9,267.0 553.4,268.6 553.9,268.2 554.4,264.6 554.9,272.5 555.4,267.6 555.9,272.2 556.4,272.2 556.9,264.9 557.4,269.7 557.9,268.6 558.4,268.6 558.9,267.3 559.4,268.5 559.9,271.0 560.4,269.0 560.9,268.1 561.4,269.6 561.9,269.0 562.4,266.2 562.9,267.3 563.4,267.1 563.9,270.0 564.4,266.2 564.9,272.9 565.4,272.6 565.9,269.4 566.4,269.5 566.9,266.9 567.4,269.8 567.9,270.7 568.4,270.6 568.9,270.1 569.4,266.1 569.9,269.1 570.4,273.2 570.9,271.6 571.4,269.8 571.9,271.0 572.4,274.8 572.9,276.7 573.4,277.5 573.9,274.3 574.4,277.1 574.9,272.8 575.4,274.3 575.9,273.8 576.4,274.5 576.9,273.9 577.4,274.8 577.9,276.1 578.4,271.7 578.9,273.8 579.4,275.1 579.9,276.1 580.4,275.6 580.9,276.3 581.4,276.3" fill="none" stroke="#a020f0" stroke-width="1.4" stroke-linejoin="round" stroke-linecap="round"/>
<path d="M72.3,341.5 72.8,347.3 73.3,331.7 73.8,328.6 74.3,343.1 74.8,361.1 75.3,329.1 75.8,350.4 76.3,328.7 76.8,344.9 77.3,328.2 77.8,342.3 78.3,336.4 78.8,344.9 79.3,329.5 79.9,339.9 80.4,324.1 80.9,318.2 81.4,328.2 81.9,332.8 82.4,341.0 82.9,353.7 83.4,323.4 83.9,312.2 84.4,359.6 84.9,334.2 85.4,329.3 85.9,328.5 86.4,326.9 86.9,342.3 87.4,313.9 87.9,316.3 88.4,315.7 88.9,310.9 89.4,344.4 89.9,301.9 90.4,335.5 90.9,334.5 91.4,332.0 91.9,299.8 92.4,314.7 92.9,346.7 93.4,303.1 93.9,328.2 94.4,329.7 95.0,309.0 95.5,298.2 96.0,321.2 96.5,311.8 97.0,327.5 97.5,314.6 98.0,344.6 98.5,307.0 99.0,328.4 99.5,304.1 100.0,344.9 100.5,299.5 101.0,324.4 101.5,341.6 102.0,309.4 M102.0,340.4 102.6,308.4 103.2,351.4 103.7,309.5 104.3,338.9 104.9,320.6 105.5,308.7 106.1,321.7 106.6,332.8 107.2,336.0 107.8,353.4 108.4,360.1 109.0,336.4 109.5,339.4 110.1,331.3 110.7,362.3 M110.7,350.1 111.3,322.2 111.9,342.9 112.5,351.0 113.1,350.1 113.7,336.9 114.3,359.1 114.9,348.2 115.5,353.5 116.1,354.4 116.7,350.3 117.3,334.4 117.9,363.8 118.5,342.3 119.1,359.6 119.7,351.7 120.2,355.2 120.8,342.7 121.4,363.5 122.0,336.2 122.6,351.1 123.2,325.1 123.8,335.6 124.4,316.3 125.0,340.2 125.6,336.8 126.2,327.2 126.8,335.5 127.4,352.8 128.0,339.8 128.6,318.4 129.2,339.3 129.8,338.0 130.4,337.1 131.0,324.3 131.6,348.8 132.2,351.0 132.8,341.8 133.4,361.7 134.0,334.5 134.6,334.1 135.2,338.0 135.8,358.4 136.4,346.3 137.0,345.4 137.6,323.8 138.1,361.2 138.7,335.8 139.3,346.9 139.9,330.1 140.5,350.6 141.1,333.9 141.7,336.6 142.3,341.1 142.9,340.0 143.5,356.0 144.1,335.7 144.7,346.6 145.3,328.2 145.9,354.3 146.5,360.7 M146.5,352.6 147.3,354.8 148.0,355.1 148.8,354.9 149.5,363.4 150.3,370.3 151.0,370.2 151.8,355.4 152.5,352.0 153.3,346.0 M153.3,337.8 154.0,336.3 154.8,337.9 155.5,338.1 156.3,339.0 157.0,340.2 157.8,341.2 158.5,342.0 159.3,342.1 160.0,342.6 160.8,343.1 161.5,344.0 162.3,337.8 163.0,345.2 163.8,345.0 164.5,346.3 165.3,347.2 166.0,348.6 166.8,348.9 167.5,349.6 168.3,342.3 169.0,350.1 169.8,349.2 170.5,343.2 171.3,341.9 172.0,347.2 172.7,346.7 173.5,346.7 174.2,348.3 175.0,347.5 175.7,339.4 176.5,347.2 177.2,351.8 178.0,348.9 178.7,341.5 179.5,335.2 180.2,343.4 181.0,344.6 181.7,338.2 182.5,362.0 183.2,345.8 184.0,343.4 184.7,353.6 185.5,343.1 186.2,334.4 187.0,334.3 187.7,334.6 188.5,331.3 189.2,350.6 190.0,318.7 190.7,317.6 M204.4,319.1 205.0,351.7 205.6,308.6 206.2,308.7 206.9,345.5 207.5,306.2 208.1,334.5 208.7,299.7 209.3,319.0 209.9,330.2 210.5,311.2 211.1,331.6 211.8,304.4 212.4,312.8 213.0,328.0 213.6,307.4 214.2,327.3 214.8,328.8 215.4,337.2 216.0,315.2 216.7,354.2 217.3,295.0 217.9,320.2 218.5,302.9 219.1,331.1 219.7,294.4 220.3,357.8 220.9,297.3 221.6,354.4 222.2,300.4 222.8,345.6 223.4,346.1 224.0,299.6 224.6,303.4 225.2,326.2 225.8,324.7 226.5,338.5 227.1,322.6 227.7,323.4 228.3,328.9 M228.3,319.1 228.9,332.4 229.5,313.5 230.2,337.4 230.8,350.0 231.4,326.1 232.0,363.7 M232.0,340.7 232.6,354.3 233.2,339.8 233.8,344.7 234.4,341.4 235.0,349.8 235.6,343.2 236.2,354.7 236.8,362.9 237.4,321.2 238.0,357.9 238.6,343.5 239.2,342.8 239.8,346.2 240.4,359.6 241.0,335.8 241.6,339.9 242.2,345.6 242.8,349.7 243.4,338.5 244.0,352.5 244.6,343.9 245.2,336.1 245.8,352.5 246.4,338.1 247.0,360.4 247.6,323.2 248.2,354.3 248.8,333.4 249.4,351.9 250.0,341.4 250.6,360.8 251.2,333.3 251.8,363.4 252.4,344.8 253.0,348.3 253.6,361.5 254.2,355.8 254.8,350.2 255.4,337.1 256.0,360.4 256.6,342.6 257.2,362.7 257.8,361.1 258.4,335.2 259.0,356.9 259.6,347.2 260.2,353.8 260.8,354.2 261.4,350.0 262.0,356.2 M262.0,347.3 262.6,320.1 263.2,351.4 263.9,343.5 264.5,351.1 265.1,332.3 265.8,368.8 266.4,351.8 267.0,355.6 267.3,376.0 M272.0,337.1 272.7,337.1 273.5,339.4 274.2,339.5 275.0,341.7 275.7,341.9 276.4,341.0 277.2,341.6 277.9,341.6 278.7,342.2 279.4,366.2 280.1,343.7 280.9,344.2 281.6,345.5 282.3,344.6 283.1,344.9 283.8,346.3 284.6,346.5 285.3,347.0 286.0,348.0 286.8,348.3 287.5,348.9 288.3,348.2 289.0,349.9 M289.0,344.5 289.6,351.4 290.1,341.1 290.7,344.3 291.2,345.8 291.8,349.3 292.3,339.1 292.9,350.2 293.4,337.8 294.0,349.6 294.5,361.6 295.1,351.5 295.6,357.3 296.2,347.7 296.8,353.8 297.3,336.5 297.9,343.8 298.4,354.9 299.0,333.8 299.5,332.0 300.1,352.7 300.6,331.2 301.2,331.6 301.7,346.8 302.3,337.5 302.8,352.1 303.4,363.7 304.0,334.9 304.5,329.0 305.1,353.9 305.6,326.8 306.2,324.4 306.7,355.9 307.3,324.2 307.8,355.3 308.4,324.3 308.9,350.0 309.5,321.1 310.0,352.1 310.6,318.5 311.2,332.6 311.7,340.8 312.3,354.6 312.8,318.8 313.4,349.0 313.9,313.2 314.5,344.5 315.0,361.8 315.6,327.1 316.1,308.3 316.7,341.1 317.2,343.6 317.8,312.8 318.4,350.5 318.9,308.1 319.5,326.2 320.0,320.2 320.6,326.9 321.1,323.6 321.7,309.0 322.2,307.6 322.8,326.3 323.3,315.3 323.9,348.6 324.4,312.3 325.0,328.3 M331.0,307.2 331.5,328.0 332.0,319.6 332.5,308.5 333.0,329.9 333.5,322.7 334.0,325.0 334.6,324.1 335.1,323.6 335.6,318.2 336.1,332.3 336.6,320.5 337.1,310.0 337.6,336.5 338.1,303.1 338.6,333.7 339.1,316.3 339.6,317.3 340.1,327.8 340.7,328.2 341.2,332.2 341.7,315.1 342.2,320.4 342.7,316.5 343.2,337.3 343.7,331.2 M343.7,322.9 344.3,331.5 344.9,315.8 345.5,343.7 346.1,346.8 346.7,331.3 347.3,342.0 347.9,330.3 348.5,347.0 349.1,335.9 349.7,328.6 350.3,358.4 350.9,336.6 351.5,352.5 352.1,325.0 352.7,344.8 353.3,346.3 353.9,318.2 354.5,361.8 355.1,319.6 355.7,342.5 356.3,338.5 356.9,328.4 357.5,339.0 358.1,329.3 358.7,351.4 359.3,329.4 360.0,341.6 360.6,340.8 361.2,342.1 361.8,354.6 362.4,318.3 363.0,359.6 363.6,360.2 364.2,346.9 364.8,365.9 365.4,321.8 366.0,346.9 366.6,361.2 367.2,355.9 367.8,326.3 368.4,345.0 369.0,333.2 369.6,353.4 370.2,333.5 370.8,350.2 371.4,336.9 372.0,332.4 372.6,346.9 373.2,336.4 373.8,346.6 374.4,348.2 375.0,350.7 375.6,323.5 M375.6,317.3 376.2,320.5 376.8,321.0 377.4,321.0 378.0,317.7 378.6,346.6 379.2,321.5 379.8,319.3 380.4,317.9 381.0,320.5 381.7,322.5 382.3,322.8 382.9,323.2 383.5,323.0 384.1,326.9 384.7,327.3 385.3,327.1 385.9,326.3 386.5,330.8 387.1,347.4 387.7,327.3 388.3,325.7 388.9,328.9 389.5,330.2 390.1,332.2 390.7,334.3 391.3,335.7 391.9,336.8 392.5,336.9 393.2,336.6 393.8,339.7 394.4,339.4 395.0,336.6 395.6,336.7 396.2,338.9 396.8,338.7 397.4,343.8 398.0,342.5 398.6,361.9 M440.4,304.8 440.9,340.8 441.4,316.7 441.9,303.6 442.4,346.0 442.9,313.0 443.4,349.3 443.9,307.5 444.4,345.2 444.9,309.4 445.4,319.3 445.9,334.7 446.4,320.6 446.9,346.4 447.4,300.6 447.9,338.5 448.5,320.5 449.0,300.1 449.5,339.0 450.0,321.5 450.5,324.6 451.0,336.4 451.5,343.3 452.0,303.3 452.5,315.8 453.0,328.0 453.5,312.8 454.0,312.7 454.5,309.8 455.0,346.9 455.5,300.6 M455.5,366.6 456.1,364.0 456.7,367.4 457.3,347.7 457.9,354.8 458.5,349.3 459.1,368.9 459.7,349.7 460.3,356.0 460.9,357.2 461.5,356.6 462.1,349.9 462.7,348.2 463.3,358.6 463.9,354.2 464.4,369.3 465.0,339.7 465.6,367.1 466.2,340.1 466.8,369.7 467.4,341.2 468.0,358.6 468.6,350.7 469.2,367.3 469.8,365.8 470.4,344.5 471.0,353.4 471.6,368.8 472.2,317.1 472.8,354.8 473.4,370.7 474.0,344.4 474.6,369.6 475.2,360.8 475.8,342.1 476.4,344.6 477.0,366.0 477.6,343.1 478.2,345.2 478.8,357.1 479.4,343.4 480.0,355.6 480.6,350.2 481.2,368.3 481.8,348.1 482.4,359.0 482.9,339.4 483.5,369.9 484.1,346.9 484.7,358.2 485.3,369.1 485.9,343.0 486.5,356.3 487.1,347.5 487.7,352.9 488.3,353.9 488.9,362.1 489.5,365.4 490.1,341.9 490.7,365.2 491.3,355.4 M491.3,337.7 492.1,338.9 493.0,326.6 M493.0,328.1 493.8,328.5 494.5,330.0 495.2,331.9 496.0,331.3 496.8,331.3 497.5,332.2 498.2,334.4 499.0,335.1 499.8,335.0 500.5,336.2 501.2,337.6 502.0,337.3 502.8,338.3 503.5,338.5 504.2,339.2 505.0,340.0 505.8,342.8 506.5,342.7 507.2,344.1 508.0,343.6 508.8,343.9 509.5,344.4 510.2,344.4 511.0,345.5 511.8,346.5 512.5,347.4 513.2,348.7 514.0,348.3 514.8,349.9 515.5,350.1 516.2,348.8 517.0,348.5 M517.0,351.6 517.7,348.0 518.5,353.5 519.2,353.7 520.0,351.9 520.7,352.8 521.5,354.2 522.2,348.9 523.0,341.9 523.7,364.9 524.5,358.2 525.2,337.2 526.0,350.8 526.7,338.8 527.5,351.9 528.2,356.0 529.0,347.9 529.7,328.3 530.5,328.7 531.2,358.1 532.0,324.4 532.7,335.5 533.5,324.0 534.2,338.1 535.0,343.3 535.7,329.4 536.5,333.6 537.2,350.2 538.0,319.4 538.7,356.5 539.5,311.9 540.2,348.4 541.0,335.4 541.7,322.0 542.5,353.7 543.2,312.0 544.0,348.2 544.7,333.4 545.5,338.7 546.2,363.3 547.0,312.5 547.7,319.3 548.5,310.4 549.2,306.9 549.9,337.0 550.7,332.0 551.4,305.5 552.2,356.6 552.9,304.0 553.7,328.4 554.4,340.8 555.2,340.4 555.9,314.1 556.7,334.2 557.4,317.4 558.2,331.1 558.9,301.5 559.7,358.2 560.4,313.3 561.2,341.9 561.9,337.7 562.7,308.5 563.4,354.4 564.2,363.8 564.9,317.8 565.7,348.5 566.4,322.0 567.2,301.1 567.9,360.5 568.7,302.0 569.4,362.4 570.2,308.6 570.9,352.6 571.7,324.1 572.4,352.0 573.2,357.7 573.9,359.6 574.7,337.7 575.4,348.4 576.2,352.0 576.9,344.2 577.7,365.1 578.4,356.9 579.2,356.1 579.9,365.9 580.7,353.2 581.4,351.8" fill="none" stroke="#000000" stroke-width="1.5" stroke-linejoin="round" stroke-linecap="round"/>
<path d="M72.3,330.3 72.8,330.9 73.3,333.4 73.8,333.4 74.3,334.4 74.8,334.6 75.3,332.8 75.8,331.7 76.3,331.0 76.8,333.2 77.3,333.1 77.8,334.2 78.3,330.6 78.8,331.7 79.3,332.1 79.8,332.7 80.3,334.9 80.8,332.9 81.3,333.2 81.8,331.5 82.3,331.6 82.8,332.1 83.3,332.2 83.8,331.5 84.3,331.6 84.8,331.6 85.3,332.0 85.8,332.2 86.3,333.2 86.8,330.8 87.3,331.7 87.8,332.0 88.3,331.3 88.8,332.1 89.3,332.0 89.8,329.3 90.3,329.2 90.8,329.4 91.3,329.7 91.8,329.9 92.3,329.3 92.8,326.8 93.3,327.4 93.8,328.1 94.3,326.7 94.8,326.5 95.3,325.0 95.8,324.7 96.3,323.3 96.8,324.2 97.3,321.3 97.8,323.7 98.3,321.3 98.8,321.3 99.3,321.4 99.8,321.8 100.3,321.1 100.8,320.1 101.3,319.9 101.8,320.6 102.3,320.2 102.8,317.0 103.3,316.8 103.8,318.8 104.3,318.2 104.8,318.2 105.3,318.0 105.8,317.8 106.3,316.9 106.8,317.4 107.3,315.9 107.8,316.4 108.3,315.1 108.8,316.5 109.3,315.6 109.8,315.6 110.3,316.4 110.8,316.2 111.3,316.4 111.8,316.8 112.3,316.8 112.8,315.6 113.3,315.7 113.8,316.2 114.3,316.2 114.8,316.1 115.3,316.8 115.8,315.8 116.3,316.2 116.8,316.2 117.3,316.4 117.8,316.1 118.3,316.5 118.8,317.0 119.3,316.4 119.8,316.4 120.3,317.6 120.8,315.8 121.3,317.0 121.8,316.8 122.3,317.0 122.8,316.9 123.3,316.0 123.8,315.9 124.3,315.8 124.8,316.4 125.3,315.7 125.8,316.1 126.3,315.9 126.8,316.6 127.3,317.1 127.8,315.7 128.3,316.7 128.8,315.1 129.3,315.6 129.8,317.4 130.3,317.7 130.8,316.4 131.3,316.4 131.7,317.3 132.2,316.9 132.7,315.9 133.2,316.1 133.7,316.8 134.2,316.5 134.7,317.0 135.2,316.3 135.7,317.5 136.2,316.1 136.7,316.7 137.2,316.2 137.7,317.1 138.2,316.7 138.7,316.4 139.2,317.4 139.7,316.5 140.2,316.0 140.7,316.3 141.2,316.3 141.7,317.3 142.2,316.0 142.7,317.6 143.2,318.0 143.7,317.2 144.2,318.1 144.7,318.2 145.2,318.5 145.7,318.4 146.2,317.5 146.7,318.9 147.2,319.2 147.7,320.2 148.2,319.7 148.7,320.5 149.2,319.9 149.7,320.2 150.2,323.0 150.7,324.9 151.2,325.2 151.7,327.7 152.2,323.1 152.7,326.0 153.2,329.0 153.7,326.1 154.2,326.0 154.7,329.6 155.2,328.4 155.7,326.7 156.2,321.4 156.7,321.8 157.2,329.4 157.7,331.1 158.2,330.9 158.7,329.8 159.2,326.3 159.7,325.9 160.2,325.1 160.7,330.3 161.2,328.6 161.7,326.2 162.2,331.0 162.7,333.9 163.2,328.6 163.7,327.6 164.2,329.0 164.7,328.7 165.2,330.7 165.7,330.8 166.2,331.7 166.7,331.8 167.2,329.6 167.7,330.8 168.2,333.3 168.7,331.0 169.2,328.8 169.7,331.3 170.2,331.0 170.7,331.4 171.2,332.6 171.7,328.3 172.2,331.8 172.7,328.4 173.2,328.7 173.7,328.6 174.2,331.0 174.7,331.2 175.2,332.3 175.7,336.5 176.2,334.3 176.7,331.3 177.2,331.0 177.7,333.4 178.2,332.0 178.7,333.7 179.2,333.6 179.7,331.3 180.2,324.9 180.7,330.7 181.2,326.6 181.7,328.3 182.2,331.9 182.7,330.8 183.2,332.9 183.7,330.6 184.2,329.0 184.7,331.3 185.2,330.1 185.7,330.3 186.2,331.3 186.7,331.8 187.2,327.5 187.7,327.0 188.2,327.2 188.7,329.4 189.2,326.0 189.7,326.1 190.2,328.0 190.7,328.1 M204.4,326.3 204.9,330.3 205.4,331.7 205.9,331.5 206.4,328.4 206.9,334.0 207.4,333.9 207.9,329.2 208.4,324.0 208.9,324.7 209.4,328.1 209.9,328.3 210.4,328.0 210.9,333.8 211.4,334.4 211.9,330.4 212.4,329.3 212.9,325.8 213.4,323.3 213.9,325.7 214.4,325.3 214.9,327.6 215.4,326.9 215.9,326.4 216.4,327.3 216.9,324.6 217.4,325.5 217.9,324.4 218.4,321.5 218.9,323.1 219.4,322.9 219.9,321.3 220.4,321.4 220.9,321.1 221.4,319.9 221.9,317.7 222.4,318.8 222.9,318.3 223.4,318.9 223.9,318.8 224.4,319.3 224.9,318.8 225.4,318.8 225.9,317.3 226.4,316.0 226.9,318.2 227.4,317.4 227.9,316.7 228.4,316.5 228.9,316.4 229.4,315.1 229.9,313.8 230.4,313.8 230.9,314.3 231.4,316.0 231.9,316.9 232.4,317.6 232.9,317.0 233.4,316.6 233.9,315.2 234.4,316.3 234.9,316.0 235.4,315.5 236.0,316.1 236.5,315.2 237.0,316.3 237.5,316.6 238.0,316.2 238.5,315.7 239.0,316.3 239.5,315.7 240.0,316.5 240.5,316.4 241.0,316.9 241.5,316.5 242.0,316.8 242.5,317.9 243.0,318.3 243.5,317.3 244.0,318.1 244.5,317.4 245.0,315.7 245.5,315.3 246.0,315.4 246.5,316.0 247.0,316.2 247.5,316.3 248.0,315.6 248.5,316.2 249.0,316.0 249.5,317.6 250.0,317.3 250.5,317.6 251.0,317.0 251.5,317.0 252.0,316.2 252.5,316.9 253.0,316.5 253.5,315.9 254.0,315.0 254.5,316.8 255.0,316.9 255.5,316.7 256.0,315.8 256.5,317.5 257.0,316.5 257.5,316.5 258.0,317.1 258.5,317.2 259.0,317.1 259.5,316.8 260.0,314.4 260.5,316.0 261.0,315.7 261.5,316.7 262.0,319.0 262.5,320.2 263.0,321.5 263.5,321.2 264.0,318.5 264.5,321.4 265.0,322.6 265.5,325.7 266.0,329.2 266.5,324.6 267.0,325.6 M272.0,325.8 272.5,325.6 273.0,326.3 273.5,331.4 274.0,326.0 274.5,327.1 275.0,330.7 275.5,326.7 276.0,330.6 276.5,324.1 277.0,328.1 277.5,327.0 278.0,326.2 278.5,327.1 279.0,333.6 279.5,333.1 280.0,331.1 280.5,328.7 281.0,326.7 281.5,331.3 282.0,329.0 282.5,330.7 283.0,332.4 283.5,332.2 284.0,332.9 284.5,328.2 285.0,330.4 285.5,327.4 286.0,331.6 286.5,330.5 287.0,332.4 287.5,332.7 288.0,329.4 288.5,330.7 289.0,331.8 289.5,329.9 290.0,333.1 290.5,331.7 291.0,330.9 291.5,332.8 292.0,330.0 292.5,330.5 293.0,330.2 293.5,331.0 294.0,336.1 294.5,336.8 295.0,333.0 295.5,332.1 296.0,334.2 296.5,337.6 297.0,337.5 297.5,337.9 298.0,333.4 298.5,332.9 299.0,335.3 299.5,335.5 300.0,337.5 300.5,337.9 301.0,335.6 301.5,338.3 302.0,335.3 302.5,332.7 303.0,331.1 303.5,330.6 304.0,333.8 304.5,333.3 305.0,334.5 305.5,330.4 306.0,332.2 306.5,330.9 307.0,332.7 307.5,332.8 308.0,333.1 308.5,331.5 309.0,332.8 309.5,330.5 310.0,329.3 310.5,330.1 311.0,328.8 311.5,331.4 312.0,330.5 312.5,330.6 313.0,332.2 313.5,329.0 314.0,330.7 314.5,329.4 315.0,327.8 315.5,329.6 316.0,331.6 316.5,330.6 317.0,328.3 317.5,328.8 318.0,328.7 318.5,328.8 319.0,328.2 319.5,328.6 320.0,327.2 320.5,327.6 321.0,326.0 321.5,329.7 322.0,331.3 322.5,328.4 323.0,328.5 323.5,324.7 324.0,324.2 324.5,325.2 325.0,329.5 M331.0,320.5 331.5,321.0 332.0,320.9 332.5,320.1 333.0,318.3 333.5,319.9 334.0,321.1 334.5,320.6 335.0,319.8 335.5,319.2 336.0,318.7 336.5,320.9 337.0,319.9 337.5,318.5 338.0,317.0 338.5,315.3 339.0,316.6 339.5,315.3 340.0,315.0 340.5,315.8 341.0,315.7 341.5,316.3 342.0,316.5 342.5,315.5 343.0,316.6 343.5,316.3 344.0,316.9 344.5,315.8 345.0,316.2 345.5,317.4 346.0,318.0 346.5,317.8 347.0,316.9 347.5,317.5 348.0,317.4 348.5,317.3 349.0,316.8 349.5,316.3 350.0,315.3 350.5,314.6 351.0,315.2 351.5,316.6 352.0,316.8 352.5,315.9 353.0,318.0 353.5,317.2 354.0,316.9 354.5,315.3 355.0,316.4 355.5,317.2 356.0,316.4 356.5,315.5 357.0,316.0 357.5,315.1 358.0,317.3 358.5,315.9 359.0,316.3 359.5,315.7 360.0,315.3 360.5,316.2 361.0,316.7 361.5,317.4 362.0,316.9 362.5,317.1 363.0,316.4 363.5,317.7 364.0,317.1 364.5,315.8 365.1,316.0 365.6,317.7 366.1,315.3 366.6,314.2 367.1,314.6 367.6,314.1 368.1,315.3 368.6,315.2 369.1,315.1 369.6,316.3 370.1,315.3 370.6,315.3 371.1,316.3 371.6,317.4 372.1,316.4 372.6,316.1 373.1,315.8 373.6,315.1 374.1,316.2 374.6,316.4 375.1,318.4 375.6,317.6 376.1,318.5 376.6,316.4 377.1,316.4 377.6,317.2 378.1,319.0 378.6,319.0 379.1,319.2 379.6,321.4 380.1,321.6 380.6,321.6 381.1,321.9 381.6,324.9 382.1,324.4 382.6,325.1 383.1,326.0 383.6,323.6 384.1,324.4 384.6,326.4 385.1,328.5 385.6,329.5 386.1,327.0 386.6,328.7 387.1,330.2 387.6,327.6 388.1,329.0 388.6,327.5 389.1,329.1 389.6,330.3 390.1,330.0 390.6,329.0 391.1,329.5 391.6,330.5 392.1,331.0 392.6,330.9 393.1,331.0 393.6,329.6 394.1,329.1 394.6,332.1 395.1,332.4 395.6,330.1 396.1,332.2 396.6,334.3 397.1,336.4 397.6,331.0 398.1,336.2 398.6,330.8 M440.4,325.3 440.9,324.7 441.4,324.5 441.9,324.4 442.4,321.8 442.9,320.3 443.4,322.8 443.9,322.4 444.4,323.9 444.9,324.2 445.4,323.3 445.9,322.7 446.4,322.5 446.9,320.3 447.4,321.6 447.9,320.2 448.4,320.8 448.9,319.1 449.4,320.3 449.9,318.7 450.4,318.9 450.9,319.1 451.4,318.7 451.9,319.8 452.4,319.1 452.9,318.8 453.4,319.0 453.9,317.3 454.4,317.0 454.9,316.4 455.4,316.4 455.9,317.5 456.4,318.2 456.9,318.0 457.4,317.8 457.9,316.9 458.4,317.4 458.9,316.7 459.4,315.6 459.9,317.2 460.4,315.6 460.9,317.6 461.4,316.6 461.9,317.4 462.4,317.1 462.9,316.7 463.4,317.8 463.9,316.2 464.4,317.1 464.9,316.1 465.4,316.5 465.9,315.3 466.4,314.8 466.9,314.8 467.4,315.5 467.9,315.6 468.4,314.2 468.9,315.7 469.4,316.2 469.9,317.4 470.4,318.0 470.9,317.8 471.4,316.5 471.9,316.7 472.4,316.8 472.9,318.0 473.4,317.1 473.9,317.5 474.4,315.7 474.9,315.7 475.4,315.5 475.9,316.5 476.4,316.3 476.9,316.3 477.4,316.5 477.9,316.1 478.4,316.0 478.9,316.5 479.4,315.7 479.9,315.6 480.4,316.4 480.9,316.9 481.4,316.5 481.9,316.5 482.4,315.7 482.9,315.7 483.4,315.2 483.9,315.3 484.4,315.5 484.9,315.6 485.4,314.5 485.9,316.6 486.4,315.4 486.9,314.8 487.4,314.1 487.9,315.3 488.4,315.5 488.9,315.4 489.4,315.8 489.9,315.9 490.4,316.3 490.9,315.1 491.4,315.5 491.9,316.6 492.4,317.7 492.9,316.4 493.4,317.6 493.9,317.0 494.4,318.9 494.9,320.1 495.4,320.0 495.9,320.9 496.4,319.6 496.9,323.7 497.4,324.4 497.9,323.5 498.4,321.9 498.9,324.7 499.4,323.1 499.9,322.1 500.4,327.5 500.9,328.5 501.4,329.7 501.9,324.7 502.4,324.4 502.9,323.7 503.4,325.0 503.9,324.3 504.4,324.2 504.9,326.9 505.4,326.5 505.9,329.4 506.4,326.6 506.9,330.1 507.4,328.8 507.9,331.4 508.4,325.4 508.9,327.6 509.4,329.8 509.9,326.8 510.4,328.3 510.9,331.7 511.4,335.7 511.9,329.0 512.4,332.5 512.9,330.5 513.4,327.2 513.9,326.6 514.4,327.6 514.9,331.9 515.4,328.5 515.9,327.3 516.4,326.8 516.9,327.7 517.4,330.1 517.9,325.5 518.4,326.3 518.9,327.1 519.4,328.6 519.9,332.0 520.4,334.7 520.9,337.7 521.4,338.9 521.9,341.6 522.4,335.8 522.9,338.2 523.4,338.4 523.9,340.1 524.4,337.2 524.9,334.4 525.4,335.6 525.9,337.8 526.4,339.5 526.9,341.3 527.4,339.6 527.9,336.0 528.4,337.4 528.9,336.8 529.4,337.9 529.9,334.8 530.4,333.8 530.9,337.0 531.4,333.3 531.9,331.2 532.4,329.1 532.9,332.5 533.4,333.0 533.9,335.9 534.4,332.4 534.9,332.8 535.4,331.8 535.9,334.8 536.4,332.0 536.9,330.7 537.4,326.4 537.9,327.2 538.4,325.1 538.9,325.4 539.4,325.8 539.9,324.0 540.4,325.1 540.9,326.8 541.4,326.0 541.9,325.0 542.4,327.8 542.9,327.8 543.4,330.4 543.9,330.5 544.4,327.6 544.9,326.0 545.4,323.9 545.9,324.7 546.4,327.3 546.9,328.3 547.4,323.2 547.9,323.8 548.4,323.2 548.9,326.5 549.4,323.8 549.9,322.8 550.4,323.1 550.9,325.3 551.4,327.4 551.9,322.6 552.4,325.9 552.9,323.0 553.4,322.4 553.9,324.8 554.4,324.7 554.9,323.6 555.4,323.4 555.9,322.6 556.4,320.8 556.9,319.5 557.4,321.1 557.9,320.5 558.4,322.8 558.9,323.3 559.4,319.1 559.9,317.5 560.4,319.5 560.9,318.6 561.4,321.1 561.9,319.7 562.4,322.9 562.9,323.2 563.4,320.4 563.9,318.0 564.4,321.7 564.9,318.7 565.4,322.3 565.9,321.5 566.4,319.3 566.9,321.8 567.4,321.5 567.9,319.3 568.4,318.7 568.9,317.6 569.4,319.3 569.9,316.6 570.4,319.8 570.9,317.7 571.4,318.3 571.9,317.3 572.4,318.5 572.9,316.8 573.4,317.3 573.9,318.9 574.4,317.3 574.9,316.3 575.4,318.0 575.9,317.7 576.4,315.9 576.9,316.1 577.4,316.0 577.9,315.8 578.4,315.1 578.9,315.5 579.4,314.7 579.9,314.5 580.4,313.7 580.9,315.2 581.4,316.4" fill="none" stroke="#ff0000" stroke-width="1.5" stroke-linejoin="round" stroke-linecap="round"/>
<path d="M72.3,349.4 72.8,359.9 73.3,341.6 73.8,346.1 74.3,352.4 74.8,352.0 75.3,353.2 75.8,349.1 76.3,346.9 76.8,339.0 77.3,346.7 77.8,342.4 78.3,345.4 78.8,351.3 79.3,355.5 79.8,343.5 80.3,353.0 80.8,340.0 81.3,344.9 81.8,352.3 82.3,351.1 82.8,340.1 83.3,354.5 83.8,355.3 84.3,352.3 84.8,344.8 85.3,348.9 85.8,347.0 86.3,349.5 86.8,341.6 87.3,346.8 87.8,344.5 88.3,353.1 88.8,353.0 89.3,344.1 89.8,345.8 90.3,341.1 90.8,345.9 91.3,340.6 91.8,352.4 92.3,341.5 92.8,349.1 93.3,345.7 93.8,348.5 94.3,338.8 94.8,338.7 95.3,328.3 95.8,350.1 96.3,342.4 96.8,346.8 97.3,347.3 97.8,341.6 98.3,351.1 98.8,340.6 99.3,332.5 99.8,338.0 100.3,343.4 100.8,339.3 101.3,343.2 101.8,336.3 102.3,352.9 102.8,338.7 103.3,345.2 103.8,329.7 104.3,326.4 104.8,331.7 105.3,335.2 105.8,324.4 106.3,333.2 106.8,324.1 107.3,319.0 107.8,328.7 108.3,318.1 108.8,318.0 109.3,322.8 109.8,318.9 110.3,317.3 110.8,324.9 111.3,316.5 111.8,317.8 112.3,315.0 112.8,321.2 113.3,322.6 113.8,318.9 114.3,324.6 114.8,315.4 115.3,316.4 115.8,316.4 116.3,321.0 116.8,316.9 117.3,324.7 117.8,324.2 118.3,316.7 118.8,325.1 119.3,315.8 119.8,316.4 120.3,317.8 120.8,319.6 121.3,315.8 121.8,316.7 122.3,325.8 122.8,316.0 123.3,316.4 123.8,317.4 124.3,316.8 124.8,320.0 125.3,323.7 125.8,319.2 126.3,316.8 126.8,323.9 127.3,315.9 127.8,321.8 128.3,315.9 128.8,325.2 129.3,316.6 129.8,316.6 130.3,316.3 130.8,315.4 131.3,316.4 131.7,316.0 132.2,316.9 132.7,315.9 133.2,317.7 133.7,317.4 134.2,315.0 134.7,316.9 135.2,316.7 135.7,316.4 136.2,316.5 136.7,316.2 137.2,316.7 137.7,325.2 138.2,316.1 138.7,317.3 139.2,319.4 139.7,316.2 140.2,315.9 140.7,319.2 141.2,320.1 141.7,322.6 142.2,341.1 142.7,327.0 143.2,335.4 143.7,329.7 144.2,322.7 144.7,342.1 145.2,333.1 145.7,338.5 146.2,334.6 146.7,341.5 147.2,342.6 147.7,341.3 148.2,350.5 148.7,351.1 149.2,347.5 149.7,354.9 150.2,352.7 150.7,345.2 151.2,349.3 151.7,352.9 152.2,349.3 152.7,353.0 153.2,348.5 153.7,350.3 154.2,352.4 154.7,354.7 155.2,347.9 155.7,351.6 156.2,350.0 156.7,352.3 157.2,354.2 157.7,351.8 158.2,352.5 158.7,354.8 159.2,351.4 159.7,352.6 160.2,350.5 160.7,352.2 161.2,352.2 161.7,350.4 162.2,354.4 162.7,354.9 163.2,345.3 163.7,354.2 164.2,348.3 164.7,355.7 165.2,353.7 165.7,358.0 166.2,353.4 166.7,351.6 167.2,354.1 167.7,351.9 168.2,357.8 168.7,352.9 169.2,362.1 169.7,350.5 170.2,355.0 170.7,359.9 171.2,348.4 171.7,355.4 172.2,356.4 172.7,351.1 173.2,358.1 173.7,350.1 174.2,358.2 174.7,351.6 175.2,355.5 175.7,348.5 176.2,353.7 176.7,351.4 177.2,356.0 177.7,355.8 178.2,349.9 178.7,351.1 179.2,351.1 179.7,354.9 180.2,349.0 180.7,345.0 181.2,345.9 181.7,341.9 182.2,349.0 182.7,350.2 183.2,351.1 183.7,337.9 184.2,343.2 184.7,347.8 185.2,345.4 185.7,336.4 186.2,351.5 186.7,350.2 187.2,342.8 187.7,345.1 188.2,343.0 188.7,348.2 189.2,345.1 189.7,344.7 190.2,338.1 190.7,350.4 M204.4,343.6 204.9,343.8 205.4,348.5 205.9,352.1 206.4,343.4 206.9,347.4 207.4,344.0 207.9,348.4 208.4,342.4 208.9,340.3 209.4,345.7 209.9,343.1 210.4,344.6 210.9,340.4 211.4,335.3 211.9,345.3 212.4,339.4 212.9,343.9 213.4,351.8 213.9,344.2 214.4,338.1 214.9,338.1 215.4,334.9 215.9,345.4 216.4,344.9 216.9,346.7 217.4,336.2 217.9,340.6 218.4,333.1 218.9,338.7 219.4,332.9 219.9,347.8 220.4,342.0 220.9,328.6 221.4,331.9 221.9,331.8 222.4,337.8 222.9,328.1 223.4,325.0 223.9,327.0 224.4,329.4 224.9,324.0 225.4,319.5 225.9,323.5 226.4,322.5 226.9,320.5 227.4,318.9 227.9,316.4 228.4,316.2 228.9,316.1 229.4,314.5 229.9,315.4 230.4,315.9 230.9,323.2 231.4,325.4 231.9,315.1 232.4,315.2 232.9,315.6 233.4,316.4 233.9,315.8 234.4,316.2 234.9,315.4 235.4,319.0 236.0,316.6 236.5,316.1 237.0,315.8 237.5,322.2 238.0,316.6 238.5,323.6 239.0,315.3 239.5,316.5 240.0,317.0 240.5,316.5 241.0,316.1 241.5,316.4 242.0,325.9 242.5,314.8 243.0,321.3 243.5,317.2 244.0,323.8 244.5,316.0 245.0,314.6 245.5,317.0 246.0,316.4 246.5,319.1 247.0,322.3 247.5,315.9 248.0,316.0 248.5,315.9 249.0,322.4 249.5,316.7 250.0,315.3 250.5,315.9 251.0,316.3 251.5,317.2 252.0,315.5 252.5,316.7 253.0,317.4 253.5,316.3 254.0,317.0 254.5,322.8 255.0,317.4 255.5,323.0 256.0,315.7 256.5,315.6 257.0,317.0 257.5,315.1 258.0,316.0 258.5,316.9 259.0,316.2 259.5,332.3 260.0,309.3 260.5,323.5 261.0,322.8 261.5,328.9 262.0,336.7 262.5,316.5 263.0,336.5 263.5,320.9 264.0,327.9 264.5,335.7 265.0,338.5 265.5,339.4 266.0,339.2 266.5,324.1 267.0,346.7 M272.0,348.7 272.5,353.3 273.0,340.0 273.5,351.0 274.0,355.0 274.5,344.3 275.0,346.8 275.5,358.1 276.0,350.0 276.5,353.6 277.0,349.7 277.5,350.9 278.0,345.6 278.5,340.1 279.0,355.4 279.5,350.0 280.0,355.2 280.5,347.8 281.0,347.3 281.5,349.9 282.0,348.3 282.5,356.3 283.0,348.1 283.5,346.8 284.0,354.5 284.5,342.7 285.0,354.3 285.5,347.4 286.0,356.4 286.5,346.9 287.0,353.3 287.5,350.3 288.0,350.5 288.5,351.6 289.0,347.0 289.5,354.2 290.0,355.2 290.5,355.8 291.0,348.2 291.5,360.4 292.0,353.8 292.5,348.2 293.0,351.5 293.5,345.1 294.0,351.9 294.5,349.3 295.0,345.7 295.5,358.3 296.0,346.6 296.5,355.9 297.0,353.8 297.5,349.9 298.0,345.5 298.5,357.1 299.0,354.9 299.5,350.0 300.0,357.2 300.5,347.4 301.0,352.2 301.5,348.5 302.0,349.8 302.5,359.7 303.0,345.2 303.5,353.3 304.0,344.2 304.5,355.8 305.0,343.5 305.5,348.9 306.0,349.7 306.5,352.7 307.0,354.9 307.5,352.2 308.0,341.7 308.5,336.8 309.0,355.8 309.5,348.7 310.0,347.3 310.5,351.4 311.0,343.2 311.5,353.4 312.0,342.7 312.5,350.3 313.0,343.9 313.5,349.0 314.0,345.9 314.5,337.0 315.0,351.0 315.5,349.3 316.0,339.8 316.5,349.6 317.0,342.4 317.5,353.7 318.0,348.9 318.5,333.8 319.0,347.0 319.5,343.0 320.0,352.2 320.5,337.4 321.0,346.3 321.5,348.5 322.0,337.6 322.5,339.7 323.0,342.6 323.5,342.2 324.0,337.6 324.5,338.7 325.0,340.9 M331.0,335.6 331.5,333.0 332.0,337.4 332.5,335.9 333.0,337.5 333.5,339.7 334.0,333.6 334.5,343.2 335.0,328.3 335.5,331.4 336.0,334.8 336.5,336.2 337.0,327.5 337.5,329.9 338.0,333.2 338.5,333.9 339.0,326.0 339.5,334.9 340.0,324.0 340.5,328.7 341.0,317.2 341.5,318.9 342.0,315.6 342.5,317.2 343.0,316.1 343.5,322.6 344.0,314.6 344.5,316.8 345.0,325.4 345.5,317.1 346.0,316.7 346.5,316.8 347.0,317.5 347.5,319.3 348.0,316.1 348.5,316.6 349.0,315.6 349.5,317.5 350.0,315.5 350.5,316.4 351.0,315.3 351.5,316.3 352.0,324.4 352.5,316.8 353.0,315.6 353.5,320.1 354.0,317.0 354.5,321.2 355.0,321.7 355.5,322.6 356.0,316.4 356.5,314.9 357.0,316.9 357.5,315.3 358.0,316.6 358.5,322.3 359.0,325.9 359.5,316.5 360.0,315.5 360.5,317.0 361.0,316.2 361.5,314.9 362.0,322.5 362.5,320.1 363.0,320.0 363.5,315.4 364.0,316.2 364.5,314.8 365.1,314.7 365.6,316.5 366.1,315.6 366.6,315.8 367.1,314.9 367.6,316.1 368.1,315.2 368.6,315.5 369.1,315.0 369.6,317.3 370.1,316.8 370.6,316.0 371.1,317.0 371.6,315.4 372.1,316.3 372.6,317.8 373.1,316.7 373.6,315.3 374.1,311.3 374.6,320.3 375.1,315.8 375.6,326.5 376.1,307.6 376.6,318.4 377.1,325.5 377.6,315.0 378.1,325.8 378.6,326.7 379.1,321.3 379.6,324.7 380.1,321.0 380.6,322.4 381.1,331.9 381.6,322.5 382.1,335.7 382.6,328.9 383.1,325.9 383.6,337.2 384.1,332.0 384.6,327.3 385.1,339.0 385.6,335.0 386.1,324.3 386.6,334.5 387.1,332.5 387.6,334.3 388.1,342.3 388.6,341.6 389.1,337.9 389.6,337.4 390.1,337.6 390.6,338.1 391.1,333.4 391.6,348.9 392.1,343.6 392.6,340.2 393.1,336.7 393.6,357.0 394.1,350.7 394.6,346.9 395.1,332.4 395.6,338.0 396.1,346.3 396.6,351.3 397.1,348.9 397.6,346.5 398.1,342.5 398.6,349.9 M440.4,341.7 440.9,338.1 441.4,333.1 441.9,344.9 442.4,335.7 442.9,348.3 443.4,334.5 443.9,334.8 444.4,338.0 444.9,339.0 445.4,340.5 445.9,332.7 446.4,342.6 446.9,344.6 447.4,321.7 447.9,340.7 448.4,333.7 448.9,331.9 449.4,331.0 449.9,338.9 450.4,327.8 450.9,332.8 451.4,332.8 451.9,327.8 452.4,333.9 452.9,327.7 453.4,340.8 453.9,332.3 454.4,326.4 454.9,324.9 455.4,327.2 455.9,321.3 456.4,322.8 456.9,317.9 457.4,316.0 457.9,314.3 458.4,316.3 458.9,316.0 459.4,314.9 459.9,316.2 460.4,315.9 460.9,314.9 461.4,324.2 461.9,324.7 462.4,316.1 462.9,316.0 463.4,324.6 463.9,321.4 464.4,324.8 464.9,314.8 465.4,317.3 465.9,316.6 466.4,315.7 466.9,317.5 467.4,315.5 467.9,316.2 468.4,319.5 468.9,319.8 469.4,325.6 469.9,315.9 470.4,315.4 470.9,315.7 471.4,315.3 471.9,315.4 472.4,315.9 472.9,316.2 473.4,315.3 473.9,318.4 474.4,316.7 474.9,316.8 475.4,316.0 475.9,317.8 476.4,314.0 476.9,323.4 477.4,315.9 477.9,316.3 478.4,316.0 478.9,316.6 479.4,316.4 479.9,316.5 480.4,316.9 480.9,324.9 481.4,315.2 481.9,317.7 482.4,323.8 482.9,317.9 483.4,316.0 483.9,317.4 484.4,315.2 484.9,316.8 485.4,314.7 485.9,316.2 486.4,315.6 486.9,314.8 487.4,319.4 487.9,315.8 488.4,316.0 488.9,316.5 489.4,321.0 489.9,319.8 490.4,315.1 490.9,317.8 491.4,313.1 491.9,323.9 492.4,316.0 492.9,317.0 493.4,321.4 493.9,328.2 494.4,315.1 494.9,331.4 495.4,330.7 495.9,336.2 496.4,335.6 496.9,335.1 497.4,337.1 497.9,338.0 498.4,349.7 498.9,354.7 499.4,351.2 499.9,356.4 500.4,353.1 500.9,355.2 501.4,356.3 501.9,354.5 502.4,347.8 502.9,353.6 503.4,349.9 503.9,352.8 504.4,352.5 504.9,352.6 505.4,353.6 505.9,348.6 506.4,356.7 506.9,355.0 507.4,354.7 507.9,347.0 508.4,359.6 508.9,356.9 509.4,353.5 509.9,350.0 510.4,355.8 510.9,354.1 511.4,347.0 511.9,359.6 512.4,348.2 512.9,350.9 513.4,353.3 513.9,359.0 514.4,349.8 514.9,351.3 515.4,350.6 515.9,351.2 516.4,358.5 516.9,356.9 517.4,350.9 517.9,360.9 518.4,355.5 518.9,349.5 519.4,350.4 519.9,352.1 520.4,351.6 520.9,350.7 521.4,353.0 521.9,353.1 522.4,352.4 522.9,360.3 523.4,355.8 523.9,350.1 524.4,357.4 524.9,359.8 525.4,347.9 525.9,354.3 526.4,352.0 526.9,350.4 527.4,353.9 527.9,348.7 528.4,359.5 528.9,358.9 529.4,359.3 529.9,357.7 530.4,360.0 530.9,343.1 531.4,354.8 531.9,350.9 532.4,364.3 532.9,361.4 533.4,348.6 533.9,355.2 534.4,360.6 534.9,357.6 535.4,349.9 535.9,347.4 536.4,356.8 536.9,345.4 537.4,349.1 537.9,361.9 538.4,358.3 538.9,356.1 539.4,350.7 539.9,349.8 540.4,357.8 540.9,344.7 541.4,363.3 541.9,349.9 542.4,355.7 542.9,342.8 543.4,353.4 543.9,355.4 544.4,349.0 544.9,359.7 545.4,348.5 545.9,348.1 546.4,349.3 546.9,352.2 547.4,355.1 547.9,358.4 548.4,342.9 548.9,349.7 549.4,347.9 549.9,346.2 550.4,350.3 550.9,349.6 551.4,347.1 551.9,352.6 552.4,356.2 552.9,346.1 553.4,344.1 553.9,341.3 554.4,339.0 554.9,345.6 555.4,344.3 555.9,358.2 556.4,342.2 556.9,346.9 557.4,340.4 557.9,347.1 558.4,353.6 558.9,350.3 559.4,345.5 559.9,351.3 560.4,343.6 560.9,345.8 561.4,343.4 561.9,341.5 562.4,337.7 562.9,346.4 563.4,332.1 563.9,338.0 564.4,337.6 564.9,346.4 565.4,338.4 565.9,343.6 566.4,333.5 566.9,329.8 567.4,340.1 567.9,327.5 568.4,331.0 568.9,330.6 569.4,327.5 569.9,341.5 570.4,328.2 570.9,335.5 571.4,341.1 571.9,322.7 572.4,328.6 572.9,317.6 573.4,318.6 573.9,324.5 574.4,327.0 574.9,329.5 575.4,320.2 575.9,324.0 576.4,321.3 576.9,322.6 577.4,323.5 577.9,316.3 578.4,321.8 578.9,320.8 579.4,315.7 579.9,317.6 580.4,318.6 580.9,316.3 581.4,314.2" fill="none" stroke="#ff8c00" stroke-width="1.5" stroke-linejoin="round" stroke-linecap="round"/>
<path d="M72.0,414.3 72.5,421.6 73.0,408.7 73.5,417.0 74.0,399.2 74.5,408.7 75.0,428.7 75.5,383.0 76.0,436.0 76.5,414.1 77.0,415.9 77.5,396.4 78.0,409.4 78.5,433.6 79.0,421.7 79.5,425.4 80.0,411.3 80.5,414.8 81.0,428.4 81.5,413.4 82.0,395.0 82.5,414.9 83.0,413.8 83.5,401.4 84.0,422.9 84.5,416.6 85.0,412.3 85.5,431.3 86.0,424.9 86.5,407.6 87.0,404.5 87.5,425.0 88.0,426.7 88.5,409.6 89.0,417.5 89.5,404.9 90.0,408.1 90.5,389.3 91.0,418.2 91.5,403.6 92.0,425.1 92.5,432.4 93.0,391.3 93.5,418.2 94.0,404.5 94.5,408.9 95.0,417.0 95.5,413.2 96.0,436.0 96.5,403.9 97.0,408.6 97.5,395.5 98.0,391.7 98.5,393.8 99.0,412.4 99.5,411.3 100.0,403.1 100.5,411.2 101.0,414.1 101.5,394.3 102.0,410.9 102.5,390.4 103.0,400.2 103.5,398.6 104.0,389.3 104.5,385.7 105.0,385.0 105.5,381.1 106.0,383.9 106.5,381.6 107.0,380.6 107.5,378.5 108.0,381.8 108.5,387.4 109.0,381.8 109.5,379.2 110.0,380.4 110.5,390.0 111.0,382.9 111.5,381.7 112.0,378.4 112.5,377.0 113.0,379.1 113.5,380.5 114.0,380.7 114.5,381.6 115.0,389.1 115.5,381.4 116.0,380.7 116.5,383.1 117.0,385.3 117.5,382.0 118.0,381.3 118.5,379.6 119.0,379.9 119.5,385.7 120.0,378.5 120.5,380.5 120.9,380.2 121.4,381.5 121.9,383.9 122.4,390.7 122.9,379.5 123.4,382.9 123.9,377.5 124.4,379.9 124.9,379.5 125.4,380.6 125.9,379.3 126.4,380.7 126.9,380.9 127.4,379.4 127.9,379.9 128.4,377.8 128.9,379.1 129.4,377.8 129.9,377.4 130.4,377.0 130.9,381.6 131.4,381.0 131.9,377.8 132.4,378.6 132.9,378.5 133.4,384.2 133.9,380.1 134.4,379.9 134.9,383.2 135.4,380.6 135.9,388.4 136.4,380.0 136.9,380.4 137.4,378.3 137.9,383.6 138.4,377.0 138.9,378.3 139.4,377.1 139.9,378.3 140.4,377.8 140.9,380.4 141.4,380.8 141.9,377.0 142.4,379.8 142.9,388.6 143.4,377.0 143.9,377.0 144.4,377.0 144.9,377.0 145.4,378.9 145.9,378.9 146.4,380.1 146.9,377.4 147.4,377.0 147.9,377.8 148.4,381.0 148.9,380.7 149.4,387.6 149.9,389.1 150.4,395.9 150.9,394.9 151.4,390.2 151.9,408.3 152.4,404.9 152.9,409.1 153.4,410.2 153.9,416.2 154.4,418.8 154.9,423.8 155.4,420.7 155.9,414.2 156.4,425.5 156.9,424.1 157.4,429.0 157.9,420.6 158.4,430.8 158.9,431.0 159.4,428.6 159.9,430.1 160.4,431.5 160.9,424.5 161.4,431.8 161.9,431.9 162.4,423.6 162.9,426.6 163.4,432.4 163.9,425.0 164.4,430.0 164.9,428.6 165.4,431.6 165.9,424.1 166.4,429.8 166.9,430.3 167.4,429.2 167.9,423.5 168.4,431.7 168.9,431.2 169.4,424.3 169.9,431.1 170.4,426.3 170.9,429.6 171.4,426.0 171.9,424.5 172.4,426.3 172.9,428.6 173.4,426.3 173.9,429.7 174.4,423.4 174.9,433.2 175.4,428.0 175.9,428.0 176.4,430.2 176.9,428.7 177.4,423.0 177.9,430.1 178.4,423.2 178.9,427.6 179.4,429.2 179.9,425.6 180.4,436.9 180.9,424.3 181.4,420.9 181.9,426.4 182.4,424.9 182.9,423.5 183.4,417.6 183.9,419.8 184.4,422.9 184.9,430.2 185.4,436.3 185.9,410.1 186.4,417.0 186.9,436.0 187.4,420.2 187.9,425.6 188.4,412.7 188.9,431.1 189.4,413.0 189.9,416.3 190.4,400.7 190.9,435.5 191.4,411.7 191.9,419.5 192.4,435.3 192.9,401.2 193.4,392.5 193.9,411.6 194.4,403.9 194.9,424.7 195.4,419.2 195.9,429.4 196.4,403.7 196.9,409.9 197.4,419.8 197.9,411.6 198.4,410.3 198.9,411.2 199.4,389.2 199.9,415.1 200.4,423.3 200.9,409.8 201.4,398.3 201.9,413.5 202.4,384.0 202.9,407.8 203.4,405.9 203.9,433.7 204.4,425.0 204.9,403.5 205.4,406.3 205.9,413.3 206.4,421.1 206.9,408.3 207.4,424.5 207.9,433.1 208.4,421.6 208.9,405.1 209.4,401.1 209.9,430.3 210.4,381.3 210.9,396.2 211.4,395.9 211.9,397.9 212.4,404.7 212.9,393.4 213.4,410.0 213.9,395.1 214.4,410.8 214.9,390.3 215.4,415.9 215.9,402.3 216.4,388.3 216.9,420.6 217.4,413.6 217.9,389.2 218.4,408.6 218.8,402.2 219.3,390.5 219.8,396.2 220.3,390.9 220.8,396.9 221.3,403.2 221.8,393.8 222.3,395.3 222.8,395.8 223.3,385.4 223.8,387.9 224.3,386.3 224.8,385.3 225.3,381.8 225.8,393.3 226.3,383.4 226.8,382.0 227.3,379.0 227.8,380.4 228.3,382.0 228.8,385.4 229.3,381.9 229.8,387.0 230.3,381.1 230.8,379.8 231.3,376.3 231.8,378.6 232.3,376.0 232.8,378.4 233.3,377.7 233.8,384.2 234.3,384.3 234.8,382.2 235.3,382.1 235.8,386.7 236.3,377.7 236.8,376.8 237.3,385.2 237.8,379.3 238.3,384.1 238.8,379.0 239.3,377.2 239.8,381.2 240.3,382.3 240.8,377.8 241.3,380.7 241.8,379.8 242.3,378.2 242.8,379.0 243.3,377.5 243.8,378.6 244.3,378.2 244.8,381.9 245.3,385.6 245.8,381.4 246.3,382.3 246.8,387.4 247.3,376.0 247.8,376.0 248.3,384.5 248.8,376.0 249.3,378.0 249.8,377.3 250.3,379.3 250.8,381.5 251.3,386.0 251.8,379.9 252.3,380.6 252.8,380.7 253.3,376.8 253.8,380.6 254.3,385.5 254.8,377.2 255.3,380.6 255.8,380.4 256.3,384.6 256.8,383.5 257.3,380.7 257.8,384.5 258.3,391.8 258.8,384.7 259.3,386.0 259.8,376.0 260.3,395.7 260.8,392.6 261.3,392.4 261.8,389.0 262.3,391.3 262.8,408.0 263.3,399.8 263.8,410.0 264.3,411.0 264.8,408.0 265.3,429.2 265.8,420.6 266.3,430.8 266.8,412.0 267.3,419.9 M272.0,432.1 272.5,434.2 273.0,412.0 273.5,434.6 274.0,418.7 274.5,430.1 275.0,433.8 275.5,425.0 276.0,424.8 276.5,434.2 277.0,408.3 277.5,418.0 278.0,417.3 278.5,428.1 279.0,436.2 279.5,425.4 280.0,429.7 280.5,429.1 281.0,433.6 281.5,406.3 282.0,431.6 282.5,422.0 283.0,430.7 283.5,401.2 284.0,427.1 284.5,428.6 285.1,423.7 285.6,428.5 286.1,427.9 286.6,437.3 287.1,428.4 287.6,426.5 288.1,408.0 288.6,430.0 289.1,433.0 289.6,426.0 290.1,419.4 290.6,427.8 291.1,418.3 291.6,423.0 292.1,422.1 292.6,438.0 293.1,434.6 293.6,413.8 294.1,430.0 294.6,429.5 295.1,435.8 295.6,396.8 296.1,429.1 296.6,427.7 297.1,417.5 297.6,438.0 298.1,414.1 298.6,398.8 299.1,414.0 299.6,412.6 300.1,425.2 300.6,409.3 301.1,404.3 301.6,418.0 302.1,414.7 302.6,418.2 303.1,410.0 303.6,413.5 304.1,384.4 304.6,438.0 305.1,409.6 305.6,424.8 306.1,413.5 306.6,412.7 307.1,418.9 307.6,406.3 308.1,421.2 308.6,414.1 309.1,419.1 309.6,427.8 310.1,410.6 310.6,418.5 311.2,413.6 311.7,407.1 312.2,412.2 312.7,410.3 313.2,380.0 313.7,435.7 314.2,399.2 314.7,416.2 315.2,425.2 315.7,405.4 316.2,416.8 316.7,416.1 317.2,410.3 317.7,404.3 318.2,424.2 318.7,407.5 319.2,425.8 319.7,397.0 320.2,417.9 320.7,424.2 321.2,411.9 321.7,385.2 322.2,403.7 322.7,396.2 323.2,393.8 323.7,428.9 M331.0,408.8 331.5,403.7 332.0,404.0 332.5,388.5 333.0,396.1 333.5,381.1 334.0,399.9 334.5,390.1 335.0,401.6 335.5,391.9 336.0,385.2 336.5,384.5 337.0,391.5 337.5,386.0 338.0,384.3 338.5,382.8 339.0,382.2 339.5,379.7 340.0,376.8 340.5,379.4 341.0,380.9 341.5,381.1 342.0,380.2 342.5,378.7 343.0,382.1 343.5,378.4 344.0,379.1 344.5,377.6 345.0,380.3 345.5,380.0 346.0,378.4 346.5,378.9 347.0,383.5 347.5,385.8 348.0,379.0 348.5,381.4 349.0,378.3 349.5,390.0 350.0,377.0 350.5,377.7 351.0,382.0 351.5,381.9 352.0,380.4 352.5,380.9 353.0,381.4 353.5,378.6 354.0,377.4 354.5,377.5 355.0,377.5 355.5,377.6 356.0,377.6 356.5,378.1 357.0,377.7 357.5,377.8 358.0,377.8 358.5,377.9 359.0,379.4 359.5,378.2 360.0,378.0 360.5,379.2 361.0,391.7 361.5,380.0 362.0,378.5 362.5,378.2 363.0,385.3 363.5,381.4 364.0,380.5 364.5,378.4 365.0,379.5 365.5,378.6 366.0,380.2 366.5,380.2 367.0,380.7 367.5,381.3 368.0,380.2 368.5,381.8 369.0,381.8 369.5,380.9 370.0,379.2 370.5,380.8 371.0,380.5 371.5,379.1 372.0,379.2 372.5,379.5 373.0,382.1 373.5,381.5 374.0,379.4 374.5,379.4 375.0,379.5 375.5,380.2 376.0,379.6 376.5,396.5 377.0,381.7 377.5,384.1 378.0,414.5 378.5,395.7 379.0,391.0 379.5,413.9 380.0,404.8 380.5,402.0 381.0,407.6 381.5,418.8 382.0,424.0 382.5,408.9 383.0,407.0 383.5,415.1 384.0,411.2 384.5,387.0 385.0,404.6 385.5,393.4 386.0,413.6 386.5,424.3 387.0,399.5 387.5,398.3 388.0,392.9 388.5,401.9 389.0,417.9 389.5,414.8 390.0,423.9 390.5,411.4 391.0,411.2 391.5,411.0 392.0,405.8 392.5,402.7 393.0,409.9 393.5,409.9 394.0,423.3 394.5,401.9 395.0,432.6 395.5,435.7 396.0,435.4 396.5,414.6 397.0,411.7 397.5,413.4 M440.8,427.1 441.3,411.0 441.8,423.5 442.3,416.7 442.8,409.1 443.3,416.7 443.8,407.2 444.3,397.9 444.8,404.3 445.3,398.4 445.8,399.0 446.3,378.8 446.8,407.8 447.3,393.6 447.8,394.0 448.3,394.4 448.8,395.8 449.3,384.0 449.8,389.6 450.3,399.7 450.8,383.2 451.3,390.4 451.8,388.6 452.3,391.3 452.8,391.4 453.3,386.1 453.8,387.7 454.3,405.8 454.8,385.9 455.3,382.8 455.8,383.3 456.3,381.9 456.8,381.1 457.3,382.9 457.8,382.4 458.3,379.1 458.8,380.6 459.3,382.3 459.8,381.7 460.3,378.2 460.8,379.2 461.3,381.1 461.8,381.7 462.3,383.6 462.8,382.7 463.3,393.5 463.8,378.0 464.3,389.9 464.8,382.7 465.3,381.0 465.8,381.4 466.3,379.5 466.8,380.4 467.3,381.5 467.8,383.8 468.3,380.5 468.8,380.7 469.3,382.3 469.8,383.9 470.3,390.3 470.8,380.3 471.3,382.0 471.8,380.1 472.3,380.5 472.8,383.2 473.3,382.1 473.8,380.0 474.3,380.2 474.8,382.4 475.3,379.2 475.9,380.2 476.4,384.6 476.9,381.1 477.4,381.7 477.9,383.5 478.4,380.5 478.9,382.4 479.4,384.1 479.9,384.0 480.4,383.2 480.9,388.9 481.4,381.6 481.9,380.1 482.4,378.8 482.9,378.8 483.4,378.9 483.9,380.3 484.4,382.9 484.9,384.6 485.4,386.0 485.9,381.4 486.4,379.8 486.9,381.0 487.4,379.1 487.9,382.0 488.4,384.7 488.9,383.0 489.4,379.6 489.9,381.3 490.4,384.5 490.9,384.3 491.4,383.2 491.9,382.0 492.4,381.9 492.9,381.8 493.4,394.3 493.9,390.8 494.4,389.7 494.9,390.9 495.4,395.4 495.9,402.3 496.4,408.2 496.9,405.9 497.4,413.0 497.9,402.9 498.4,422.6 498.9,390.7 499.4,421.4 499.9,424.1 500.4,431.3 500.9,426.4 501.4,431.0 501.9,425.1 502.4,431.7 502.9,427.3 503.4,426.2 503.9,424.5 504.4,426.2 504.9,428.7 505.4,429.0 505.9,434.6 506.4,427.2 506.9,426.7 507.4,425.9 507.9,428.6 508.4,401.2 508.9,437.7 509.4,426.3 509.9,431.6 510.4,425.6 510.9,428.8 511.4,430.8 511.9,424.5 512.4,431.8 512.9,426.6 513.4,431.2 513.9,432.2 514.4,427.7 514.9,426.0 515.4,434.9 515.9,431.0 516.4,428.9 516.9,432.5 517.4,431.6 517.9,421.7 518.4,434.0 518.9,428.9 519.4,436.1 519.9,405.4 520.4,431.0 520.9,432.5 521.4,432.8 521.9,436.1 522.4,427.5 522.9,434.8 523.4,426.2 523.9,432.2 524.4,425.6 524.9,436.8 525.4,425.2 525.9,428.1 526.4,427.5 526.9,428.2 527.4,400.0 527.9,433.0 528.4,425.6 528.9,429.5 529.4,429.8 529.9,432.8 530.4,402.8 530.9,427.7 531.4,426.9 531.9,432.7 532.4,427.4 532.9,426.3 533.4,395.3 533.9,437.2 534.4,427.4 534.9,422.2 535.4,437.1 535.9,425.5 536.4,437.1 536.9,384.8 537.4,402.3 537.9,425.1 538.4,391.0 538.9,423.8 539.4,426.8 539.9,407.7 540.4,433.5 540.9,435.7 541.4,401.7 541.9,436.8 542.4,436.7 542.9,426.8 543.4,433.6 543.9,401.0 544.4,416.8 544.9,436.2 545.4,412.0 546.0,430.5 546.5,411.5 547.0,427.1 547.5,419.5 548.0,401.9 548.5,414.3 549.0,410.9 549.5,398.3 550.0,420.4 550.5,431.6 551.0,405.7 551.5,423.5 552.0,418.8 552.5,401.0 553.0,431.4 553.5,401.8 554.0,392.7 554.5,416.2 555.0,401.0 555.5,408.8 556.0,404.5 556.5,408.1 557.0,417.2 557.5,402.3 558.0,395.3 558.5,400.8 559.0,397.3 559.5,394.9 560.0,402.9 560.5,386.9 561.0,392.2 561.5,407.8 562.0,406.5 562.5,404.3 563.0,417.6 563.5,403.1 564.0,392.0 564.5,403.4 565.0,396.4 565.5,395.9 566.0,395.0 566.5,403.1 567.0,396.1 567.5,381.1 568.0,404.2 568.5,375.8 569.0,384.6 569.5,388.7 570.0,390.0 570.5,382.9 571.0,390.3 571.5,385.5 572.0,382.5 572.5,382.4 573.0,386.1 573.5,381.3 574.0,379.1 574.5,381.5 575.0,377.8 575.5,379.3 576.0,378.2 576.5,381.9 577.0,381.1 577.5,376.8 578.0,379.3 578.5,377.3 579.0,378.8 579.5,381.0 580.0,378.9 580.5,380.3 581.0,375.8" fill="none" stroke="#00008b" stroke-width="1.5" stroke-linejoin="round" stroke-linecap="round"/>
<path d="M72.0,429.9 72.5,431.2 73.0,425.4 73.5,423.6 74.0,422.8 74.5,420.8 75.0,421.7 75.5,425.6 76.0,424.6 76.5,423.5 77.0,424.7 77.5,422.8 78.0,423.3 78.5,424.9 79.0,423.4 79.5,425.0 80.0,424.2 80.5,422.8 81.0,424.5 81.5,429.7 82.0,426.3 82.5,421.3 83.0,422.4 83.5,424.4 84.0,424.6 84.5,425.4 85.0,424.7 85.5,420.5 86.0,420.8 86.5,418.3 87.0,419.0 87.5,421.4 88.0,424.8 88.5,425.4 89.0,426.0 89.5,424.7 90.0,421.6 90.5,420.3 91.0,422.9 91.5,420.6 92.0,420.3 92.5,418.9 93.0,420.3 93.5,421.1 94.0,421.5 94.5,420.7 95.0,418.8 95.5,415.9 96.0,417.6 96.5,416.4 97.0,418.7 97.5,418.7 98.0,418.8 98.5,415.7 99.0,416.7 99.5,413.6 100.0,414.0 100.5,412.2 101.0,416.4 101.5,413.8 102.0,412.9 102.5,412.5 103.0,411.4 103.5,411.0 104.0,412.1 104.5,411.5 105.0,412.3 105.5,411.2 106.0,412.1 106.5,411.0 107.0,409.9 107.5,410.6 108.0,411.2 108.5,409.4 109.0,409.5 109.5,408.3 110.0,409.8 110.5,410.6 111.0,409.8 111.5,410.4 112.0,409.1 112.5,407.5 113.0,407.9 113.5,408.9 114.0,407.0 114.5,406.9 115.0,409.0 115.5,407.4 116.0,409.1 116.5,407.9 117.0,407.3 117.5,407.3 118.0,407.3 118.5,406.9 119.0,406.1 119.5,406.2 120.0,405.8 120.5,405.9 120.9,406.7 121.4,407.5 121.9,406.4 122.4,406.8 122.9,405.5 123.4,405.3 123.9,407.5 124.4,406.5 124.9,407.0 125.4,407.8 125.9,408.2 126.4,407.3 126.9,407.1 127.4,408.0 127.9,407.3 128.4,407.1 128.9,407.9 129.4,407.5 129.9,407.2 130.4,407.5 130.9,408.0 131.4,405.8 131.9,407.1 132.4,406.3 132.9,407.0 133.4,407.5 133.9,407.6 134.4,406.8 134.9,406.9 135.4,407.9 135.9,407.1 136.4,408.4 136.9,407.8 137.4,408.5 137.9,408.2 138.4,408.6 138.9,408.1 139.4,408.1 139.9,409.8 140.4,410.9 140.9,411.4 141.4,410.7 141.9,408.3 142.4,409.5 142.9,410.3 143.4,410.2 143.9,410.8 144.4,410.9 144.9,411.2 145.4,412.6 145.9,411.6 146.4,411.9 146.9,410.9 147.4,412.9 147.9,412.3 148.4,414.0 148.9,417.5 149.4,415.0 149.9,411.6 150.4,413.1 150.9,416.4 151.4,416.9 151.9,415.8 152.4,419.1 152.9,415.3 153.4,419.9 153.9,417.3 154.4,419.2 154.9,415.5 155.4,419.4 155.9,422.2 156.4,417.8 156.9,418.9 157.4,418.4 157.9,419.4 158.4,426.0 158.9,423.1 159.4,423.3 159.9,427.4 160.4,429.4 160.9,423.0 161.4,416.9 161.9,422.3 162.4,420.3 162.9,420.6 163.4,421.1 163.9,425.3 164.4,422.7 164.9,416.6 165.4,414.2 165.9,413.7 166.4,418.6 166.9,415.9 167.4,417.7 167.9,416.2 168.4,416.4 168.9,413.6 169.4,408.2 169.9,413.4 170.4,418.2 170.9,415.2 171.4,416.4 171.9,418.7 172.4,419.0 172.9,417.0 173.4,424.2 173.9,421.8 174.4,427.8 174.9,427.3 175.4,429.2 175.9,429.1 176.4,419.3 176.9,426.5 177.4,425.5 177.9,429.4 178.4,418.3 178.9,421.6 179.4,415.4 179.9,422.3 180.4,429.4 180.9,421.6 181.4,424.7 181.9,423.0 182.4,425.3 182.9,424.6 183.4,423.7 183.9,420.1 184.4,420.2 184.9,419.6 185.4,420.8 185.9,426.1 186.4,429.8 186.9,426.2 187.4,425.1 187.9,431.1 188.4,424.5 188.9,430.6 189.4,429.3 189.9,420.9 190.4,427.4 190.9,428.8 191.4,425.2 191.9,425.5 192.4,430.7 192.9,427.5 193.4,423.2 193.9,422.5 194.4,425.6 194.9,425.3 195.4,426.7 195.9,423.3 196.4,421.2 196.9,424.8 197.4,422.2 197.9,418.6 198.4,422.9 198.9,424.9 199.4,419.9 199.9,418.5 200.4,416.4 200.9,415.3 201.4,415.3 201.9,420.5 202.4,417.0 202.9,419.7 203.4,419.8 203.9,418.7 204.4,413.9 204.9,416.5 205.4,415.5 205.9,421.9 206.4,420.0 206.9,417.1 207.4,414.8 207.9,417.5 208.4,417.1 208.9,420.6 209.4,416.9 209.9,417.4 210.4,414.5 210.9,418.6 211.4,416.6 211.9,414.0 212.4,412.3 212.9,414.3 213.4,415.8 213.9,414.1 214.4,416.1 214.9,414.4 215.4,414.4 215.9,413.9 216.4,413.5 216.9,412.3 217.4,413.8 217.9,411.8 218.4,413.3 218.8,412.9 219.3,413.7 219.8,414.6 220.3,413.8 220.8,411.0 221.3,408.6 221.8,409.7 222.3,409.5 222.8,409.5 223.3,408.9 223.8,409.3 224.3,407.6 224.8,408.5 225.3,408.2 225.8,408.2 226.3,410.0 226.8,410.0 227.3,408.9 227.8,408.7 228.3,407.0 228.8,407.5 229.3,406.1 229.8,406.6 230.3,408.1 230.8,407.4 231.3,408.2 231.8,407.5 232.3,408.2 232.8,407.7 233.3,406.6 233.8,406.1 234.3,407.0 234.8,406.9 235.3,405.2 235.8,408.1 236.3,407.1 236.8,406.6 237.3,405.8 237.8,407.1 238.3,406.6 238.8,407.8 239.3,406.1 239.8,406.4 240.3,406.8 240.8,406.1 241.3,406.3 241.8,406.5 242.3,406.6 242.8,408.1 243.3,409.1 243.8,407.6 244.3,408.0 244.8,409.3 245.3,409.1 245.8,408.6 246.3,408.1 246.8,408.1 247.3,409.2 247.8,409.8 248.3,408.7 248.8,408.8 249.3,408.5 249.8,408.0 250.3,409.5 250.8,409.2 251.3,409.8 251.8,409.8 252.3,408.9 252.8,408.6 253.3,408.8 253.8,409.1 254.3,408.2 254.8,408.2 255.3,408.0 255.8,409.7 256.3,409.8 256.8,410.6 257.3,411.7 257.8,411.4 258.3,410.7 258.8,410.5 259.3,411.3 259.8,411.7 260.3,412.6 260.8,415.0 261.3,413.5 261.8,412.6 262.3,413.0 262.8,412.9 263.3,410.5 263.8,410.3 264.3,413.4 264.8,415.2 265.3,415.5 265.8,417.9 266.3,418.2 266.8,419.9 267.3,421.7 M272.0,419.1 272.5,418.1 273.0,414.1 273.5,415.1 274.0,421.5 274.5,411.4 275.0,415.8 275.5,416.9 276.0,414.5 276.5,418.3 277.0,419.9 277.5,417.4 278.0,420.9 278.5,420.0 279.0,422.8 279.5,424.0 280.0,423.2 280.5,415.7 281.0,416.0 281.5,418.2 282.0,419.6 282.5,419.1 283.0,423.9 283.5,417.9 284.0,417.7 284.5,418.2 285.1,424.0 285.6,422.1 286.1,417.6 286.6,421.3 287.1,422.9 287.6,420.4 288.1,420.6 288.6,421.0 289.1,420.4 289.6,421.3 290.1,423.8 290.6,422.1 291.1,423.1 291.6,419.5 292.1,419.1 292.6,425.8 293.1,425.7 293.6,424.4 294.1,421.4 294.6,423.6 295.1,423.5 295.6,431.2 296.1,421.1 296.6,420.8 297.1,430.4 297.6,431.5 298.1,424.7 298.6,429.8 299.1,427.5 299.6,429.2 300.1,428.9 300.6,429.1 301.1,428.0 301.6,430.0 302.1,428.5 302.6,427.7 303.1,427.8 303.6,426.0 304.1,430.3 304.6,424.6 305.1,430.0 305.6,426.0 306.1,427.3 306.6,424.3 307.1,422.7 307.6,427.0 308.1,421.4 308.6,422.3 309.1,421.3 309.6,424.9 310.1,424.3 310.6,426.5 311.2,428.1 311.7,430.3 312.2,424.6 312.7,425.0 313.2,423.2 313.7,421.9 314.2,420.5 314.7,423.7 315.2,421.3 315.7,421.7 316.2,421.8 316.7,419.4 317.2,419.3 317.7,416.8 318.2,420.0 318.7,417.0 319.2,419.9 319.7,421.2 320.2,424.2 320.7,422.6 321.2,424.3 321.7,421.8 322.2,417.4 322.7,414.8 323.2,414.9 323.7,418.3 M331.0,414.7 331.5,414.3 332.0,415.1 332.5,413.9 333.0,413.7 333.5,410.5 334.0,410.6 334.5,410.4 335.0,413.8 335.5,414.2 336.0,411.5 336.5,410.7 337.0,412.9 337.5,414.8 338.0,411.3 338.5,411.8 339.0,413.6 339.5,411.8 340.0,411.6 340.5,412.6 341.0,413.6 341.5,413.0 342.0,410.0 342.5,409.0 343.0,410.3 343.5,411.7 344.0,410.8 344.5,409.9 345.0,410.6 345.5,409.4 346.0,408.7 346.5,408.5 347.0,408.6 347.5,408.7 348.0,409.0 348.5,407.3 349.0,409.2 349.5,409.4 350.0,408.5 350.5,406.6 351.0,407.1 351.5,407.6 352.0,407.9 352.5,409.3 353.0,408.5 353.5,407.8 354.0,408.1 354.5,406.4 355.0,406.8 355.5,409.3 356.0,408.9 356.5,407.2 357.0,405.9 357.5,407.3 358.0,407.4 358.5,407.0 359.0,407.6 359.5,407.5 360.0,407.5 360.5,407.3 361.0,408.0 361.5,408.3 362.0,408.4 362.5,407.9 363.0,407.5 363.5,406.8 364.0,406.2 364.5,407.3 365.0,407.8 365.5,407.1 366.0,408.4 366.5,408.8 367.0,408.7 367.5,409.0 368.0,408.5 368.5,407.4 369.0,408.1 369.5,411.6 370.0,410.8 370.5,409.9 371.0,407.6 371.5,409.3 372.0,410.4 372.5,411.1 373.0,410.1 373.5,410.2 374.0,409.2 374.5,410.6 375.0,412.0 375.5,411.7 376.0,410.4 376.5,410.0 377.0,410.8 377.5,412.3 378.0,415.8 378.5,414.8 379.0,415.2 379.5,413.3 380.0,413.3 380.5,416.4 381.0,418.3 381.5,416.8 382.0,417.4 382.5,417.1 383.0,418.3 383.5,417.4 384.0,414.1 384.5,420.3 385.0,420.9 385.5,418.8 386.0,421.9 386.5,417.7 387.0,421.3 387.5,420.7 388.0,420.5 388.5,419.3 389.0,419.6 389.5,419.8 390.0,425.9 390.5,424.8 391.0,421.9 391.5,421.3 392.0,420.4 392.5,424.0 393.0,427.5 393.5,422.4 394.0,420.0 394.5,423.4 395.0,418.4 395.5,418.9 396.0,420.2 396.5,421.9 397.0,425.0 397.5,423.9 M508.6,415.3 509.1,408.0 509.6,415.0 510.1,413.2 510.6,408.0 511.1,413.8 511.6,413.9 512.1,408.4 512.6,417.9 513.1,419.2 513.6,419.3 514.1,419.1 514.6,419.3 515.1,420.8 515.6,418.8 516.1,412.5 516.6,416.9 517.1,416.0 517.6,418.3 518.1,414.0 518.6,417.2 519.1,417.4 519.6,416.7 520.1,421.1 520.6,421.1 521.1,422.5 521.6,425.3 522.1,418.5 522.6,416.2 523.1,416.5 523.6,425.4 524.1,424.0 524.6,425.0 525.1,421.2 525.6,424.2 526.1,425.0 526.6,421.2 527.1,424.7 527.6,425.2 528.1,422.5 528.6,423.7 529.1,429.0 529.6,429.2 530.1,430.3 530.6,425.6 531.1,417.6 531.6,417.5 532.1,418.7 532.6,426.9 533.1,422.0 533.6,427.4 534.1,425.0 534.6,429.5 535.1,428.0 535.6,423.6 536.1,425.2 536.6,424.8 537.1,423.4 537.6,425.0 538.1,424.9 538.6,421.5 539.1,425.3 539.6,418.8 540.1,421.6 540.6,423.2 541.1,420.7 541.6,425.5 542.1,421.6 542.6,422.5 543.1,423.4 543.6,423.8 544.1,422.4 544.6,420.4 545.0,422.1 545.5,418.8 546.0,422.4 546.5,423.1 547.0,420.1 547.5,412.5 548.0,413.5 548.5,416.1 549.0,420.5 549.5,411.8 550.0,409.3 550.5,415.2 551.0,414.5 551.5,415.1 552.0,416.8 552.5,414.7 553.0,416.1 553.5,414.1 554.0,416.2 554.5,414.5 555.0,413.4 555.5,413.4 556.0,414.5 556.5,414.4 557.0,413.0 557.5,412.8 558.0,415.2 558.5,414.9 559.0,413.8 559.5,415.4 560.0,413.0 560.5,411.2 561.0,411.0 561.5,412.9 562.0,411.2 562.5,409.3 563.0,409.6 563.5,405.9 564.0,406.1 564.5,409.9 565.0,410.8 565.5,408.9 566.0,409.7 566.5,409.0 567.0,407.8 567.5,407.6 568.0,409.5 568.5,410.3 569.0,409.2 569.5,409.2 570.0,409.1 570.5,408.5 571.0,408.8 571.5,408.6 572.0,409.1 572.5,408.5 573.0,408.8 573.5,409.0 574.0,409.2 574.5,407.4 575.0,407.3 575.5,408.0 576.0,406.9 576.5,406.8 577.0,406.3 577.5,407.0 578.0,406.2 578.5,407.1 579.0,406.8 579.5,405.7 580.0,406.8 580.5,405.1 581.0,403.9" fill="none" stroke="#ff0000" stroke-width="1.5" stroke-linejoin="round" stroke-linecap="round"/>
<path d="M163.3,478.5 163.8,481.2 164.3,477.8 164.8,474.8 165.3,479.2 165.8,476.0 166.3,472.8 166.8,477.8 167.3,481.3 167.8,479.0 168.3,462.1 168.8,478.9 169.3,476.9 169.8,480.2 170.3,481.8 170.8,468.2 171.3,470.9 171.8,473.2 172.3,474.6 172.8,475.8 173.3,478.3 173.8,476.6 174.3,468.1 174.8,472.4 175.3,476.3 175.8,472.0 176.3,473.7 176.8,461.5 177.3,478.0 177.8,478.0 178.3,476.8 178.8,480.2 179.3,476.7 179.8,473.1 180.3,478.0 180.8,474.3 181.3,477.9 181.8,471.8 182.3,477.2 182.8,477.0 183.3,475.9 183.8,479.5 184.3,478.0 184.8,478.2 185.3,470.1 185.8,477.4 186.3,477.4 186.8,479.5 187.3,481.2 187.8,486.6 188.3,488.9 188.8,481.3 189.3,479.4 189.8,479.8 190.3,479.1 190.8,477.5 191.3,476.3 191.8,467.7 192.3,474.4 192.8,474.9 193.3,480.5 193.8,479.8 194.3,481.4 194.8,483.2 195.3,477.4 195.8,477.5 196.3,483.2 196.8,478.5 197.3,479.6 197.8,479.2 198.3,480.2 198.8,480.9 199.3,480.2 199.8,480.5 200.3,480.2 200.8,481.5 201.3,479.3 201.8,481.6 202.3,480.2 202.8,483.1 203.3,474.1 203.8,483.5 204.3,483.2 204.8,481.4 205.3,482.8 205.8,481.4 206.3,479.2 206.8,481.4 207.2,483.3 207.7,484.5 208.2,479.0 208.7,473.3 209.2,484.3 209.7,481.6 210.2,478.8 210.7,483.0 211.2,484.3 211.7,484.5 212.2,485.2 212.7,482.2 213.2,487.7 213.7,487.5 214.2,490.6 214.7,485.4 215.2,479.8 215.7,481.2 216.2,487.3 216.7,488.3 217.2,490.6 217.7,489.5 218.2,485.5 218.7,483.7 219.2,484.1 219.7,484.9 220.2,488.7 220.7,488.1 221.2,489.4 221.7,488.5 222.2,486.3 222.7,487.7 223.2,487.1 223.7,486.9 224.2,486.7 224.7,484.1 225.2,485.5 M226.2,487.7 226.7,488.8 227.2,486.9 227.7,489.8 228.2,490.3 M228.9,489.6 229.5,489.6 M230.2,488.7 230.7,491.3 231.2,491.7 231.7,489.2 232.2,489.5 232.7,487.5 233.2,488.4 233.7,488.9 234.2,490.9 234.7,492.5 235.2,492.5 235.7,493.1 M236.7,489.9 237.2,489.1 237.7,487.7 238.2,491.6 238.7,491.7 M239.7,490.4 240.2,490.6 240.7,490.9 241.2,490.3 241.7,492.7 242.2,489.6 242.7,491.3 243.2,492.1 243.7,489.0 244.2,490.1 244.7,492.4 245.2,491.3 M246.2,491.9 246.7,489.9 247.2,492.3 247.7,491.9 248.2,493.4 M249.2,494.9 249.7,493.3 250.2,493.2 M284.2,478.9 284.7,474.9 285.2,483.2 285.7,481.2 286.2,471.9 286.7,482.9 287.2,470.4 287.7,477.9 288.2,482.1 288.7,481.5 289.2,476.9 289.7,475.7 290.2,485.4 290.7,487.4 291.2,481.7 291.7,485.9 292.2,481.2 292.7,485.8 293.2,484.8 293.7,477.2 294.2,477.9 294.7,492.0 295.2,477.8 295.7,482.1 296.2,476.5 296.7,480.5 297.2,482.7 297.7,481.4 298.2,489.5 298.7,488.3 299.2,488.3 299.7,475.9 300.2,482.1 300.7,486.6 301.2,481.9 301.7,490.4 302.2,483.1 302.7,482.2 303.2,476.2 303.7,488.0 304.2,475.7 304.7,476.8 305.2,483.8 305.7,476.2 306.2,482.2 306.7,483.4 307.2,488.2 307.7,468.2 308.2,481.0 308.7,485.3 309.2,481.3 309.7,479.8 310.2,488.2 310.7,480.4 311.2,482.9 311.7,487.5 312.2,478.7 312.7,485.1 313.2,471.6 313.7,485.5 314.2,482.3 314.7,479.7 315.2,476.3 315.7,486.6 316.2,478.0 316.7,480.7 317.2,479.5 317.7,487.2 318.2,477.0 318.7,482.2 319.2,475.5 319.7,487.0 320.2,481.6 320.7,483.0 321.2,476.9 321.7,483.3 322.2,479.2 322.7,483.1 323.2,477.5 323.7,481.8 324.2,482.1 324.7,478.4 325.2,480.7 325.7,481.1 326.2,473.0 326.7,486.5 327.2,479.1 327.7,479.7 328.2,478.3 328.7,484.4 329.2,484.0 329.7,485.5 330.2,479.4 330.7,483.0 331.1,483.8 331.6,482.5 332.1,478.5 332.6,477.7 333.1,488.0 333.6,480.2 334.1,474.9 334.6,488.6 335.1,486.9 335.6,483.8 336.1,483.9 336.6,486.8 337.1,489.8 337.6,484.9 338.1,487.6 338.6,486.4 339.1,486.3 339.6,486.2 340.1,488.8 340.6,489.5 341.1,487.6 341.6,486.8 342.1,486.9 342.6,487.7 343.1,487.2 343.6,488.8 344.1,488.1 M345.1,484.3 345.6,484.9 346.1,486.8 346.6,484.9 347.1,490.7 347.6,488.0 348.1,489.3 348.6,489.8 349.1,491.1 349.6,487.5 350.1,486.4 350.6,488.2 351.1,486.0 351.6,489.1 352.1,490.6 352.6,489.1 353.1,491.1 M354.1,488.2 354.6,486.5 355.1,485.9 355.6,484.6 356.1,484.9 356.6,484.3 357.1,485.4 357.6,488.1 358.1,487.9 358.6,486.7 359.1,487.8 359.6,488.5 360.1,489.8 360.6,489.0 361.1,490.1 361.6,491.0 362.1,490.8 362.6,491.3 363.1,490.2 363.6,490.0 364.1,487.4 364.6,489.2 365.1,488.6 M365.8,490.4 366.4,490.4 M367.1,488.5 367.6,489.2 368.1,490.9 368.6,489.7 369.1,488.0 369.6,488.4 370.1,488.5 370.6,489.8 371.1,492.0 371.6,492.2 372.1,490.1 372.6,488.5 373.1,487.9 373.6,488.5 374.1,487.8 374.6,489.9 375.1,490.3 375.6,488.9 376.1,486.9 376.6,485.7 377.1,487.0 377.6,489.0 378.1,488.4 378.6,484.9 379.1,480.0 379.6,484.8 380.1,490.0 380.6,487.7 381.1,489.6 381.6,480.9 382.1,480.3 382.6,482.9 383.1,482.4 383.6,481.2 384.1,485.1 384.6,483.1 385.1,472.3 385.6,487.7 386.1,485.2 386.6,482.9 387.1,485.3 387.6,490.8 388.1,488.0 388.6,484.1 389.1,484.8 389.6,489.2 390.1,485.2 390.6,482.2 391.1,470.8 391.6,483.4 392.1,483.4 392.6,486.4 393.1,485.7 393.6,475.3 394.1,480.3 394.6,478.1 395.1,477.5 395.6,476.5 396.1,475.4 396.6,472.4 397.1,476.9 397.6,478.3 398.1,477.8 398.6,484.5 399.1,484.5 399.6,484.0 400.1,483.2 400.6,471.6 401.1,478.1 401.6,479.4 402.1,479.9 402.6,477.4 403.1,476.5 403.6,473.9 404.1,472.6 404.6,472.8 405.1,477.3 405.6,478.5 406.1,475.0 406.6,473.7 407.1,475.3 407.6,460.6 408.1,473.6 408.6,477.4 409.1,479.0 409.6,476.6 410.1,479.6 410.6,464.7 411.1,475.9 411.6,471.4 412.1,458.6 412.6,479.4 413.1,476.1 413.6,475.6 414.1,473.1 414.6,473.8 415.1,475.4 415.6,473.9 416.1,478.8 416.6,455.1 417.1,475.0 417.6,473.1 418.1,472.3 418.6,471.9 419.1,456.4 419.6,475.6 420.1,481.3 420.6,477.1 421.1,474.6 421.6,479.0 422.1,475.4 422.6,472.0 423.1,471.3 423.6,477.3 424.1,472.4 424.6,476.5 425.1,480.5 425.5,463.3 426.0,479.6 426.5,478.3 427.0,478.8 427.5,481.6 428.0,480.8 428.5,484.6 429.0,482.7 429.5,481.6 430.0,479.0 430.5,476.0 431.0,475.0 431.5,474.6 432.0,475.7 432.5,478.6 433.0,476.8 433.5,477.4 434.0,476.7 434.5,473.0 435.0,475.6 435.5,479.6 436.0,476.4 436.5,474.8 437.0,476.6 437.5,482.0 438.0,477.2 438.5,476.6 439.0,479.0 439.5,465.8 440.0,472.2 440.5,470.2 441.0,473.5 441.5,474.7 442.0,470.7 442.5,478.0 443.0,483.0 443.5,486.0 444.0,484.1 444.5,480.8 445.0,485.2 445.5,482.9 446.0,485.4 446.5,477.8 447.0,482.2 447.5,484.9 448.0,483.4 448.5,482.0 449.0,484.9 449.5,487.2 450.0,487.3 450.5,483.6 451.0,485.7 451.5,486.8 452.0,485.7 452.5,487.6 453.0,484.4 453.5,485.5 454.0,486.9 454.5,487.4 455.0,488.7 455.5,490.0 456.0,488.4 456.5,486.6 M457.5,488.7 458.0,489.5 458.5,490.9 459.0,489.6 459.5,489.1 460.0,490.3 460.5,488.9 461.0,486.6 461.5,487.8 462.0,488.4 462.5,490.8 463.0,490.1 463.5,491.2 464.0,491.6 464.5,490.1 465.0,489.3 465.5,490.1 466.0,490.4 466.5,489.2 467.0,490.4 467.5,490.2 468.0,490.6 468.5,488.7 469.0,489.8 469.5,492.5 M470.5,490.6 471.0,490.8 M471.7,492.8 472.3,492.8" fill="none" stroke="#a020f0" stroke-width="1.4" stroke-linejoin="round" stroke-linecap="round"/>
<path d="M163.3,553.8 164.0,555.2 164.8,557.7 165.5,558.8 166.3,559.7 167.0,560.0 167.8,560.9 168.5,560.8 169.3,561.2 170.0,563.4 170.8,563.1 171.5,564.4 172.3,565.4 173.0,564.9 173.8,564.0 174.5,562.2 175.3,560.1 176.0,558.3 176.8,558.2 177.5,557.2 178.3,556.9 179.0,557.1 M179.0,560.1 179.5,559.4 180.0,557.3 180.5,559.5 181.0,555.3 181.5,555.3 182.0,558.3 182.5,557.1 183.0,552.1 183.5,555.1 184.0,553.6 184.5,554.4 185.0,554.7 185.5,559.3 186.0,548.0 186.5,550.4 187.0,550.6 187.5,554.2 188.0,544.9 188.5,548.4 189.0,555.6 189.5,553.3 190.0,543.1 190.5,555.2 191.0,556.2 191.5,541.6 192.0,556.8 192.5,540.1 193.0,545.2 193.5,553.7 194.0,536.0 194.5,556.2 195.0,534.8 195.5,547.3 196.0,535.1 196.5,554.1 197.1,533.9 197.6,531.8 198.1,571.8 198.6,531.5 199.1,563.8 199.6,527.6 200.1,550.9 200.6,532.5 201.1,533.6 201.6,526.3 202.1,531.9 202.6,554.1 203.1,519.6 203.6,540.3 204.1,546.4 204.6,522.5 205.1,540.8 205.6,530.3 206.1,528.1 206.6,539.1 207.1,526.9 207.6,555.7 208.1,518.1 208.6,554.3 209.1,532.3 209.6,518.6 210.1,535.4 210.6,517.2 211.1,518.6 211.6,540.5 212.1,527.5 212.6,524.5 213.1,535.6 213.6,516.6 214.1,520.8 214.6,536.0 215.1,513.2 215.6,575.9 216.1,537.9 216.6,512.8 217.1,555.4 217.6,530.7 218.1,542.8 218.6,526.7 219.1,531.8 219.6,514.5 220.1,557.9 220.6,516.5 221.1,521.8 221.6,562.7 222.1,514.6 222.6,532.8 223.1,534.2 223.6,519.9 224.1,545.9 224.6,548.0 225.1,552.9 225.6,549.5 226.1,515.3 226.6,527.0 227.1,545.4 227.6,520.8 228.1,517.4 228.6,556.5 229.1,521.2 229.6,528.9 230.1,540.7 230.6,527.6 231.1,562.9 231.6,514.4 232.1,561.9 232.7,547.8 233.2,573.0 233.7,522.2 234.2,518.8 234.7,515.4 235.2,561.2 235.7,533.5 236.2,530.6 236.7,523.9 237.2,516.2 237.7,553.3 238.2,538.0 238.7,551.7 239.2,526.6 239.7,562.8 240.2,528.4 240.7,540.3 241.2,519.1 241.7,542.7 242.2,545.2 242.7,544.7 243.2,557.0 243.7,520.2 244.2,564.9 244.7,537.4 245.2,531.1 245.7,534.2 246.2,563.2 246.7,541.3 247.2,528.2 247.7,564.8 248.2,527.1 248.7,532.1 249.2,561.2 249.7,521.8 250.2,542.0 M284.0,565.8 284.8,567.0 285.5,564.2 286.3,573.1 287.0,573.2 287.8,572.0 288.5,556.0 289.3,571.5 290.1,588.3 290.8,564.9 291.6,587.7 292.3,557.2 293.1,572.1 293.8,555.6 294.6,566.6 295.4,566.7 296.1,575.4 296.9,562.5 297.6,561.3 298.4,559.9 299.2,556.5 299.9,560.0 300.7,564.3 301.4,544.4 302.2,565.4 302.9,555.4 303.7,578.2 304.5,558.6 305.2,550.3 306.0,550.9 306.7,538.6 307.5,560.0 308.2,556.0 309.0,538.6 M323.0,515.9 323.6,531.4 324.2,533.4 324.8,531.2 325.4,546.4 326.0,524.9 326.6,520.2 327.2,529.9 327.8,524.9 328.4,542.7 329.0,530.9 329.6,530.2 330.2,542.3 330.8,520.3 331.4,535.1 332.0,532.0 332.6,546.7 333.2,521.8 333.8,531.3 334.4,519.1 335.0,544.3 335.6,518.5 336.2,541.5 336.8,513.1 337.4,548.8 338.0,513.1 338.6,534.3 339.2,542.5 339.8,514.3 340.4,540.1 341.0,527.7 341.6,520.5 342.2,551.1 342.8,544.1 343.4,513.0 344.0,528.8 344.6,551.7 345.2,515.1 345.8,544.2 346.4,536.5 347.0,549.4 347.6,528.1 348.2,543.7 348.8,522.7 349.4,560.1 350.0,519.1 350.6,553.0 351.2,523.1 351.8,547.6 352.4,531.2 353.0,538.9 353.6,522.0 354.2,558.0 354.8,553.3 355.4,536.4 356.0,552.8 356.6,548.0 357.2,551.9 357.8,539.1 358.4,543.7 359.0,553.1 359.6,534.5 360.2,525.1 360.8,547.7 361.4,515.4 362.0,556.3 362.6,540.7 363.2,560.4 363.8,533.8 364.4,559.5 365.0,532.6 365.6,528.1 366.2,525.0 366.8,533.4 367.4,524.4 368.0,561.1 368.6,530.5 369.2,558.4 369.8,537.5 370.4,562.3 371.0,553.4 M394.4,570.6 395.2,571.2 395.9,571.9 396.7,571.6 397.5,571.4 398.2,571.1 399.0,570.8 399.8,571.5 400.5,570.5 401.3,570.1 402.1,570.9 402.9,572.3 403.6,572.7 404.4,571.7 405.2,569.6 405.9,569.2 406.7,570.6 407.5,571.2 408.2,588.6 409.0,571.1 M409.0,572.8 409.5,583.9 410.0,574.0 410.5,570.1 411.0,568.7 411.5,567.0 412.0,572.9 412.5,568.4 413.0,565.3 413.5,567.4 414.0,567.7 414.5,563.5 415.0,569.1 415.5,568.3 416.0,560.0 416.5,568.5 417.0,558.6 417.5,571.6 418.0,560.9 418.5,569.5 419.0,561.7 419.5,565.5 420.0,572.5 420.5,556.9 421.0,572.2 421.5,553.0 422.0,557.1 422.5,565.1 423.0,569.6 423.5,552.4 424.0,574.6 424.5,557.4 425.0,550.6 425.5,557.5 426.0,558.4 426.5,544.9 427.0,550.4 427.5,555.8 428.0,566.0 428.5,548.7 429.0,554.1 429.5,538.6 430.0,564.2 430.5,541.7 431.0,571.3 431.5,542.0 432.0,557.8 432.5,569.4 433.0,533.6 433.5,532.8 434.0,538.5 434.5,530.0 435.0,537.5 435.5,528.7 436.0,564.9 436.5,548.9 437.0,539.2 437.5,555.2 438.0,559.2 438.5,529.3 439.0,567.2 439.5,534.7 440.0,573.5 440.5,548.1 441.0,573.9 441.5,519.3 442.0,572.6 442.5,524.6 443.0,557.5 443.5,525.2 444.0,535.3 444.5,538.3 445.0,521.2 445.5,518.4 446.0,535.6 446.5,567.1 447.0,514.7 447.5,555.6 448.0,515.7 448.5,558.2 449.0,515.0 449.5,542.3 450.0,530.1 450.5,515.8 451.0,514.6 451.5,532.7 452.0,561.0 452.5,550.8 453.0,536.8 453.5,549.8 454.0,559.1 454.5,518.0 455.0,549.7 455.5,514.0 456.0,538.4 456.5,557.4 457.0,514.7 457.5,540.5 458.0,552.7 458.5,516.8 459.0,520.3 459.5,556.5 460.0,523.1 460.5,553.2 461.0,523.5 461.5,545.3 462.0,523.8 462.5,542.0 463.0,546.3 463.5,556.9 464.0,533.4 464.5,539.9 465.0,547.8 465.5,530.3 466.0,573.6 466.5,533.1 467.0,565.9 467.5,530.1 468.0,538.8 468.5,556.3 469.0,552.2 469.5,559.3 470.0,538.3 470.5,538.2 471.0,564.9 471.9,616.0" fill="none" stroke="#000000" stroke-width="1.5" stroke-linejoin="round" stroke-linecap="round"/>
<path d="M163.3,558.0 163.8,554.6 164.3,556.5 164.8,556.5 165.3,557.0 165.8,558.8 166.3,556.6 166.8,559.1 167.3,562.0 167.8,562.1 168.3,561.7 168.8,558.8 169.3,558.1 169.8,559.8 170.3,560.1 170.8,558.8 171.3,562.8 171.8,562.5 172.3,558.9 172.8,561.2 173.3,561.4 173.8,559.0 174.3,560.9 174.8,561.5 175.3,557.4 175.8,557.3 176.3,558.7 176.8,557.7 177.3,557.7 177.8,560.6 178.3,558.4 178.8,557.5 179.3,557.2 179.8,556.9 180.3,556.3 180.8,555.0 181.3,555.8 181.8,560.6 182.3,555.8 182.8,560.3 183.3,558.1 183.8,556.9 184.3,554.6 184.8,557.6 185.3,554.0 185.8,556.2 186.3,556.8 186.8,555.4 187.3,553.5 187.8,556.1 188.3,555.0 188.8,556.8 189.3,559.1 189.8,554.9 190.3,551.2 190.8,553.8 191.3,556.2 191.8,555.0 192.3,555.1 192.8,553.3 193.3,552.7 193.8,556.0 194.3,554.5 194.8,554.6 195.3,553.4 195.8,555.7 196.3,556.6 196.8,557.0 197.3,555.5 197.8,556.2 198.3,556.6 198.8,556.4 199.3,555.2 199.8,553.9 200.3,553.1 200.8,553.7 201.3,556.3 201.8,554.0 202.3,556.1 202.8,550.7 203.3,553.2 203.8,554.2 204.3,551.1 204.8,550.6 205.3,550.8 205.8,552.3 206.3,549.7 206.8,552.6 207.2,549.9 207.7,551.1 208.2,556.0 208.7,551.6 209.2,550.7 209.7,549.9 210.2,551.5 210.7,552.6 211.2,553.3 211.7,551.7 212.2,547.5 212.7,548.7 213.2,547.4 213.7,549.3 214.2,548.7 214.7,549.4 215.2,548.9 215.7,548.5 216.2,549.0 216.7,547.2 217.2,543.3 217.7,546.2 218.2,545.9 218.7,547.4 219.2,544.9 219.7,544.3 220.2,547.8 220.7,545.8 221.2,543.6 221.7,542.2 222.2,543.9 222.7,543.0 223.2,541.6 223.7,542.0 224.2,541.6 224.7,540.3 225.2,541.0 225.7,543.1 226.2,543.3 226.7,543.0 227.2,541.1 227.7,542.2 228.2,540.0 228.7,543.5 229.2,543.6 229.7,541.7 230.2,543.6 230.7,541.0 231.2,540.6 231.7,540.5 232.2,536.9 232.7,535.1 233.2,534.6 233.7,536.8 234.2,535.3 234.7,535.2 235.2,534.4 235.7,532.8 236.2,536.5 236.7,537.3 237.2,536.3 237.7,537.0 238.2,536.3 238.7,538.7 239.2,539.8 239.7,536.4 240.2,537.0 240.7,538.9 241.2,538.3 241.7,540.2 242.2,539.0 242.7,535.9 243.2,538.1 243.7,534.2 244.2,534.8 244.7,534.3 245.2,539.3 245.7,538.3 246.2,538.4 246.7,537.8 247.2,537.7 247.7,539.4 248.2,538.3 248.7,540.2 249.2,541.1 249.7,539.0 250.2,540.3 M284.0,559.9 284.5,558.5 285.0,559.2 285.5,560.3 286.0,557.5 286.5,556.0 287.0,553.8 287.5,557.6 288.0,558.9 288.5,556.3 289.0,555.3 289.5,555.0 290.0,556.7 290.5,555.6 291.0,558.3 291.5,558.2 292.0,556.6 292.5,555.9 293.0,555.6 293.5,559.4 294.0,557.1 294.5,555.7 295.0,556.2 295.5,561.6 296.0,559.1 296.5,563.1 297.0,565.1 297.5,561.0 298.0,562.5 298.5,559.8 299.0,560.1 299.5,560.1 300.0,559.2 300.5,558.1 301.0,556.8 301.5,559.5 302.0,558.4 302.5,562.6 303.0,562.4 303.5,561.3 304.0,561.5 304.5,557.0 305.0,559.4 305.5,561.5 306.0,559.2 306.5,560.5 307.0,558.6 307.5,562.3 308.0,560.3 308.5,557.1 309.0,560.5 M323.0,549.6 323.5,549.4 324.0,550.1 324.5,549.8 325.0,551.3 325.5,550.6 326.0,550.8 326.5,549.7 327.0,550.6 327.5,551.7 328.0,551.3 328.5,552.8 329.0,552.2 329.5,549.0 330.0,550.5 330.5,552.7 331.0,552.0 331.5,548.3 332.0,551.8 332.5,550.4 333.0,547.6 333.5,549.2 334.0,546.5 334.5,545.1 335.0,542.9 335.5,546.0 336.0,545.5 336.5,544.9 337.0,546.6 337.5,547.3 338.0,545.0 338.5,545.2 339.0,547.0 339.5,546.3 340.0,544.0 340.5,543.8 341.0,546.8 341.5,547.5 342.0,546.0 342.5,545.4 343.0,545.4 343.5,544.2 344.0,541.2 344.5,538.9 345.0,538.4 345.5,540.0 346.0,539.4 346.5,537.9 347.0,538.4 347.5,540.0 348.0,538.8 348.5,540.6 349.0,539.7 349.5,538.4 350.0,539.5 350.5,537.8 351.0,538.1 351.5,536.3 352.0,536.9 352.5,537.8 353.0,539.5 353.5,540.7 354.0,541.6 354.5,540.6 355.0,541.1 355.5,540.8 356.0,539.1 356.5,537.9 357.0,538.6 357.5,540.9 358.0,541.8 358.5,540.2 359.0,538.9 359.5,538.9 360.0,540.6 360.5,542.7 361.0,541.4 361.5,541.1 362.0,540.0 362.5,539.3 363.0,540.8 363.5,540.9 364.0,540.0 364.5,539.2 365.0,537.9 365.5,538.5 366.0,539.6 366.5,538.6 367.0,539.3 367.5,540.1 368.0,538.0 368.5,539.1 369.0,536.9 369.5,538.5 370.0,539.7 370.5,539.3 371.0,538.7 M394.4,553.6 394.9,554.5 395.4,553.0 395.9,557.4 396.4,558.3 396.9,559.7 397.4,555.8 397.9,560.7 398.4,558.4 398.9,559.6 399.4,559.9 399.9,560.0 400.4,557.3 400.9,559.4 401.4,558.7 401.9,557.8 402.4,556.0 402.9,556.6 403.4,558.4 403.9,555.7 404.4,557.2 404.9,558.7 405.4,558.3 405.9,557.9 406.4,554.1 406.9,555.4 407.4,559.3 407.9,562.0 408.4,560.2 408.9,558.9 409.4,558.3 409.9,556.4 410.4,559.5 410.9,558.7 411.4,556.3 411.9,557.6 412.4,558.0 412.9,560.8 413.4,564.1 413.9,559.8 414.4,556.9 414.9,558.7 415.4,559.9 415.9,562.6 416.4,558.1 416.9,563.1 417.4,558.8 417.9,560.4 418.4,554.9 418.9,557.9 419.4,556.9 419.9,553.8 420.4,555.1 420.9,552.2 421.4,552.5 421.9,555.0 422.4,555.8 422.9,556.9 423.4,552.1 423.9,554.8 424.4,556.4 424.9,555.1 425.4,555.7 425.9,550.5 426.4,551.2 426.9,553.7 427.4,551.2 427.9,553.4 428.4,551.9 428.9,552.1 429.4,555.7 429.9,553.8 430.4,554.2 430.9,554.6 431.4,554.4 431.9,557.1 432.4,553.8 432.9,555.0 433.5,553.4 434.0,553.0 434.5,553.1 435.0,550.0 435.5,549.8 436.0,551.2 436.5,550.7 437.0,551.0 437.5,548.7 438.0,550.0 438.5,550.0 439.0,551.7 439.5,550.9 440.0,546.0 440.5,547.5 441.0,548.2 441.5,546.8 442.0,547.6 442.5,548.8 443.0,548.3 443.5,547.6 444.0,545.6 444.5,547.8 445.0,546.8 445.5,547.7 446.0,546.5 446.5,547.2 447.0,545.7 447.5,546.8 448.0,543.7 448.5,543.9 449.0,545.9 449.5,544.5 450.0,545.2 450.5,545.0 451.0,545.0 451.5,543.5 452.0,546.0 452.5,545.1 453.0,543.8 453.5,544.1 454.0,544.3 454.5,546.1 455.0,543.0 455.5,542.8 456.0,544.3 456.5,544.2 457.0,547.1 457.5,544.6 458.0,544.6 458.5,544.2 459.0,540.9 459.5,541.6 460.0,542.7 460.5,540.9 461.0,540.5 461.5,537.6 462.0,538.7 462.5,536.7 463.0,536.8 463.5,537.8 464.0,541.4 464.5,540.5 465.0,535.8 465.5,536.3 466.0,535.6 466.5,535.3 467.0,537.2 467.5,534.8 468.0,534.6 468.5,535.8 469.0,536.2 469.5,532.4 470.0,535.1 470.5,538.5 471.0,536.6 471.5,534.5 472.0,537.7" fill="none" stroke="#ff0000" stroke-width="1.5" stroke-linejoin="round" stroke-linecap="round"/>
<path d="M163.3,578.7 163.8,577.2 164.3,579.4 164.8,579.7 165.3,578.8 165.8,578.7 166.3,577.7 166.8,581.2 167.3,583.1 167.8,583.4 168.3,583.7 168.8,586.8 169.3,585.5 169.8,579.6 170.3,586.7 170.8,582.4 171.3,586.3 171.8,584.4 172.3,579.5 172.8,583.8 173.3,577.7 173.8,581.1 174.3,580.2 174.8,577.4 175.3,587.0 175.8,586.5 176.3,575.9 176.8,585.6 177.3,584.3 177.8,570.2 178.3,582.8 178.8,587.1 179.3,585.5 179.8,587.5 180.3,584.2 180.8,585.0 181.3,584.5 181.8,579.7 182.3,580.6 182.8,586.5 183.3,581.6 183.8,585.4 184.3,589.7 184.8,583.8 185.3,580.4 185.8,586.0 186.3,575.6 186.8,581.4 187.3,584.9 187.8,581.8 188.3,579.8 188.8,579.6 189.3,578.9 189.8,582.2 190.3,578.5 190.8,579.1 191.3,585.8 191.8,576.4 192.3,573.9 192.8,578.0 193.3,580.7 193.8,579.3 194.3,585.4 194.8,574.5 195.3,584.5 195.8,587.2 196.3,569.9 196.8,569.8 197.3,588.3 197.8,572.0 198.3,579.7 198.8,581.3 199.3,576.4 199.8,579.4 200.3,578.8 200.8,571.4 201.3,581.5 201.8,583.6 202.3,583.3 202.8,572.8 203.3,572.1 203.8,570.7 204.3,568.3 204.8,577.5 205.3,575.4 205.8,582.8 206.3,563.5 206.8,587.7 207.2,567.8 207.7,575.2 208.2,577.1 208.7,575.8 209.2,565.6 209.7,564.1 210.2,579.1 210.7,567.9 211.2,563.5 211.7,565.1 212.2,577.2 212.7,575.3 213.2,566.4 213.7,577.6 214.2,572.3 214.7,570.1 215.2,586.0 215.7,570.0 216.2,566.3 216.7,568.5 217.2,565.6 217.7,566.3 218.2,575.3 218.7,564.6 219.2,577.1 219.7,558.1 220.2,555.8 220.7,553.7 221.2,570.4 221.7,566.9 222.2,568.6 222.7,553.0 223.2,578.5 223.7,560.7 224.2,554.3 224.7,568.6 225.2,557.4 225.7,559.3 226.2,559.4 226.7,557.7 227.2,549.0 227.7,561.1 228.2,546.8 228.7,556.0 229.2,549.5 229.7,549.5 230.2,542.5 230.7,563.6 231.2,558.1 231.7,553.1 232.2,559.3 232.7,549.3 233.2,553.1 233.7,557.0 234.2,552.1 234.7,550.9 235.2,552.3 235.7,544.4 236.2,549.1 236.7,556.6 237.2,550.3 237.7,546.2 238.2,547.9 238.7,546.9 239.2,539.2 239.7,549.4 240.2,542.2 240.7,540.2 241.2,552.4 241.7,548.7 242.2,565.4 242.7,544.9 243.2,550.8 243.7,537.2 244.2,546.8 244.7,545.5 245.2,536.3 245.7,548.2 246.2,547.8 246.7,557.3 247.2,543.8 247.7,548.7 248.2,551.8 248.7,554.5 249.2,545.3 249.7,544.4 250.2,543.8 M284.0,578.6 284.5,572.0 285.0,580.7 285.5,578.5 286.0,578.9 286.5,578.6 287.0,581.9 287.5,590.1 288.0,575.5 288.5,581.6 289.0,582.7 289.5,581.3 290.0,580.1 290.5,583.4 291.0,582.1 291.5,576.3 292.0,575.9 292.5,579.3 293.0,577.2 293.5,577.1 294.0,583.1 294.5,579.7 295.0,574.7 295.5,586.9 296.0,582.1 296.5,585.5 297.0,584.1 297.5,579.4 298.0,577.1 298.5,580.4 299.0,578.0 299.5,576.8 300.0,579.3 300.5,585.4 301.0,577.7 301.5,580.0 302.0,577.6 302.5,589.1 303.0,570.0 303.5,584.4 304.0,568.9 304.5,583.9 305.0,577.2 305.5,570.9 306.0,582.3 306.5,574.3 307.0,585.7 307.5,573.7 308.0,581.9 308.5,582.1 309.0,580.1 M323.0,572.7 323.5,572.8 324.0,566.2 324.5,572.8 325.0,559.2 325.5,560.0 326.0,565.1 326.5,576.7 327.0,569.4 327.5,572.2 328.0,567.3 328.5,564.5 329.0,561.7 329.5,567.5 330.0,569.2 330.5,568.0 331.0,566.7 331.5,580.1 332.0,555.7 332.5,576.2 333.0,569.8 333.5,568.1 334.0,567.4 334.5,564.0 335.0,562.9 335.5,565.0 336.0,554.0 336.5,558.7 337.0,558.1 337.5,557.3 338.0,570.1 338.5,569.3 339.0,571.3 339.5,560.3 340.0,569.5 340.5,555.0 341.0,567.8 341.5,558.0 342.0,558.5 342.5,548.0 343.0,567.0 343.5,547.9 344.0,557.0 344.5,547.8 345.0,552.2 345.5,548.2 346.0,547.7 346.5,552.8 347.0,551.4 347.5,541.3 348.0,550.7 348.5,556.4 349.0,547.8 349.5,540.6 350.0,550.8 350.5,553.1 351.0,538.8 351.5,558.8 352.0,550.5 352.5,553.3 353.0,556.7 353.5,554.2 354.0,552.4 354.5,550.5 355.0,544.6 355.5,552.0 356.0,544.9 356.5,547.4 357.0,553.6 357.5,552.5 358.0,551.6 358.5,545.6 359.0,550.3 359.5,545.1 360.0,547.2 360.5,547.8 361.0,549.7 361.5,547.8 362.0,543.1 362.5,547.1 363.0,555.0 363.5,551.7 364.0,547.8 364.5,550.4 365.0,548.1 365.5,549.0 366.0,542.2 366.5,553.5 367.0,549.2 367.5,551.7 368.0,547.7 368.5,548.5 369.0,544.2 369.5,552.0 370.0,544.1 370.5,547.6 371.0,547.6 M394.4,575.6 394.9,572.8 395.4,572.9 395.9,573.7 396.4,583.6 396.9,573.4 397.4,585.2 397.9,583.4 398.4,566.2 398.9,576.5 399.4,576.5 399.9,571.2 400.4,578.7 400.9,569.4 401.4,580.6 401.9,574.2 402.4,585.7 402.9,572.8 403.4,579.7 403.9,571.0 404.4,578.4 404.9,573.1 405.4,575.4 405.9,574.7 406.4,573.2 406.9,575.5 407.4,577.5 407.9,579.9 408.4,577.8 408.9,575.3 409.4,571.8 409.9,582.9 410.4,573.6 410.9,581.1 411.4,571.5 411.9,579.2 412.4,579.1 412.9,580.5 413.4,574.7 413.9,582.0 414.4,573.6 414.9,570.7 415.4,573.5 415.9,574.2 416.4,574.7 416.9,589.8 417.4,562.8 417.9,570.1 418.4,582.0 418.9,571.9 419.4,570.9 419.9,578.4 420.4,570.5 420.9,572.3 421.4,573.2 421.9,569.9 422.4,572.7 422.9,570.8 423.4,567.0 423.9,571.0 424.4,569.3 424.9,571.4 425.4,571.2 425.9,565.7 426.4,570.3 426.9,564.4 427.4,560.7 427.9,569.6 428.4,559.5 428.9,567.6 429.4,562.9 429.9,571.9 430.4,568.5 430.9,564.6 431.4,565.5 431.9,569.7 432.4,566.2 432.9,563.4 433.5,564.3 434.0,564.0 434.5,561.5 435.0,559.5 435.5,559.3 436.0,560.7 436.5,566.4 437.0,562.8 437.5,565.8 438.0,558.6 438.5,559.8 439.0,575.4 439.5,553.1 440.0,564.4 440.5,563.2 441.0,561.7 441.5,567.7 442.0,561.1 442.5,565.7 443.0,554.2 443.5,557.8 444.0,565.6 444.5,559.8 445.0,559.8 445.5,557.4 446.0,571.3 446.5,548.4 447.0,562.8 447.5,547.2 448.0,563.0 448.5,555.9 449.0,552.6 449.5,556.9 450.0,549.6 450.5,553.8 451.0,556.5 451.5,552.6 452.0,554.9 452.5,549.1 453.0,561.1 453.5,548.7 454.0,557.4 454.5,542.1 455.0,552.5 455.5,551.3 456.0,553.8 456.5,548.7 457.0,544.2 457.5,547.3 458.0,543.8 458.5,544.5 459.0,559.6 459.5,525.3 460.0,551.5 460.5,539.7 461.0,553.7 461.5,543.9 462.0,547.1 462.5,547.6 463.0,545.7 463.5,540.0 464.0,552.9 464.5,540.8 465.0,552.9 465.5,538.3 466.0,539.9 466.5,546.2 467.0,539.4 467.5,540.3 468.0,545.6 468.5,540.0 469.0,544.6 469.5,543.4 470.0,524.4 470.5,536.2 471.0,538.2 471.5,537.6 472.0,538.6" fill="none" stroke="#ff8c00" stroke-width="1.5" stroke-linejoin="round" stroke-linecap="round"/>
<path d="M163.3,650.0 163.8,644.8 164.3,645.2 164.8,648.2 165.3,648.2 165.8,645.2 166.3,641.9 166.8,645.5 167.3,644.1 167.8,646.2 168.3,644.2 168.8,649.8 169.3,644.6 169.8,642.0 170.3,648.2 170.8,646.5 171.3,642.3 171.8,645.0 172.3,644.6 172.8,647.3 173.3,647.5 173.8,643.9 174.3,647.2 174.8,643.8 175.3,645.5 175.8,644.5 176.3,643.5 176.8,638.9 177.3,640.3 177.8,636.7 178.3,635.0 178.8,627.0 179.3,625.6 179.8,623.5 180.3,635.0 180.8,613.1 181.3,631.3 181.8,649.3 182.3,632.5 182.8,637.3 183.3,606.2 183.8,630.5 184.3,626.5 184.8,610.1 185.4,640.0 185.9,618.9 186.4,638.5 186.9,630.2 187.4,625.9 187.9,626.7 188.4,621.9 188.9,635.8 189.4,649.0 189.9,619.4 190.4,614.6 190.9,616.0 191.4,612.3 191.9,648.9 192.4,631.4 192.9,641.8 193.4,629.9 193.9,637.6 194.4,602.5 194.9,630.4 195.4,629.7 195.9,604.9 196.4,637.6 196.9,627.5 197.4,624.2 197.9,640.0 198.4,631.6 198.9,611.7 199.4,640.2 199.9,626.4 200.4,620.9 200.9,621.7 201.4,614.9 201.9,624.4 202.4,601.1 202.9,643.1 203.4,611.4 203.9,620.6 204.4,623.8 204.9,625.4 205.4,628.0 205.9,627.9 206.4,623.1 206.9,612.7 207.4,634.2 207.9,637.8 208.4,609.2 208.9,627.2 209.4,624.9 209.9,608.2 210.4,634.1 210.9,642.0 211.4,636.7 211.9,627.7 212.4,637.2 212.9,626.4 213.4,629.2 213.9,613.3 214.4,615.1 214.9,639.4 215.4,611.1 215.9,611.7 216.4,615.9 216.9,618.5 217.4,632.3 217.9,642.1 218.4,615.8 218.9,629.4 219.4,603.4 219.9,615.2 220.4,613.9 220.9,622.6 221.4,622.6 221.9,597.7 222.4,640.2 222.9,624.6 223.4,622.6 223.9,614.1 224.4,597.3 224.9,606.0 225.4,604.7 225.9,614.0 226.4,611.5 226.9,608.2 227.4,614.0 227.9,606.2 228.4,603.9 228.9,608.0 229.5,603.3 230.0,605.5 230.5,598.2 231.0,602.0 231.5,602.1 232.0,596.6 232.5,599.4 233.0,599.2 233.5,599.9 234.0,599.3 234.5,598.2 235.0,598.5 235.5,599.6 236.0,599.0 236.5,598.0 237.0,598.5 237.5,600.8 238.0,598.1 238.5,599.3 239.0,597.0 239.5,600.5 240.0,597.3 240.5,599.3 241.0,600.2 241.5,600.2 242.0,601.2 242.5,596.6 243.0,598.7 243.5,598.5 244.0,597.0 244.5,601.3 245.0,597.1 245.5,600.4 246.0,596.0 246.5,599.3 247.0,599.7 247.5,596.8 248.0,602.2 248.5,600.5 249.0,608.7 249.5,610.4 250.0,596.0 250.5,613.7 251.0,598.4 M284.0,636.9 284.5,623.0 285.0,606.6 285.5,607.0 286.0,643.0 286.5,598.0 287.0,603.5 287.5,644.3 288.0,647.5 288.5,610.1 289.0,641.4 289.5,617.1 290.0,652.0 290.5,623.9 291.0,616.0 291.5,617.1 292.0,627.0 292.5,598.3 293.0,598.5 293.5,636.4 294.0,617.5 294.5,614.9 295.0,626.5 295.5,636.8 296.0,621.2 296.5,632.4 297.0,644.7 297.5,636.4 298.0,623.9 298.5,645.9 299.0,624.7 299.5,626.8 300.0,639.8 300.5,639.5 301.0,631.1 301.5,645.5 302.0,610.0 302.5,631.1 303.0,610.4 303.5,630.6 304.0,623.6 304.5,627.5 305.0,608.4 305.5,627.7 306.0,641.1 306.5,621.7 307.0,631.5 307.5,607.8 308.0,637.9 308.5,644.5 309.0,632.5 309.5,612.3 310.0,600.5 310.5,602.8 311.0,598.0 311.5,600.7 312.0,603.5 312.5,606.0 313.0,603.0 313.5,608.2 314.0,602.3 314.5,613.2 315.0,601.2 315.5,611.4 316.0,599.7 316.5,598.5 317.0,598.6 317.5,600.9 318.0,601.0 318.5,598.8 319.0,611.8 319.5,599.4 320.0,598.3 320.5,601.8 321.0,598.0 321.5,602.8 322.0,597.9 322.5,612.2 323.0,607.6 323.5,621.9 324.0,616.1 324.5,618.3 325.0,620.7 325.5,607.9 326.0,625.9 326.5,601.7 327.0,628.1 327.5,610.6 328.0,626.9 328.5,636.4 329.0,620.7 329.5,629.9 330.0,623.9 330.5,626.4 331.0,625.9 331.5,636.7 332.0,632.7 332.5,618.2 333.0,632.7 333.5,629.4 334.0,628.7 334.5,630.7 335.0,622.0 335.5,640.7 336.0,619.2 336.5,635.7 337.0,640.4 337.5,634.8 338.0,638.7 338.5,613.7 339.0,633.5 339.5,628.1 340.0,628.1 340.5,642.5 341.0,625.4 341.5,620.8 342.0,622.2 342.5,615.0 343.0,610.5 343.5,606.4 344.0,604.8 344.5,606.1 345.0,616.5 345.5,603.1 346.0,604.4 346.5,601.8 347.0,606.3 347.5,604.3 348.0,612.3 348.5,604.0 349.0,605.7 349.5,603.9 350.0,604.8 350.5,600.1 351.0,603.0 351.5,614.8 352.0,609.5 352.5,618.8 353.0,613.5 353.5,602.4 354.0,604.8 354.5,605.8 355.0,598.9 355.5,611.7 356.0,604.7 356.5,603.6 357.0,607.2 357.5,608.0 358.0,607.8 358.5,612.2 359.0,607.7 359.5,609.9 360.0,613.5 360.5,604.6 361.0,602.0 361.5,603.1 362.0,603.5 362.5,602.3 363.0,604.7 363.5,606.7 364.0,603.8 364.5,605.9 365.0,606.4 365.5,612.3 366.0,606.0 366.5,612.7 367.0,605.1 367.5,606.6 368.0,610.9 368.5,608.0 369.0,605.2 369.5,602.9 370.0,599.2 370.5,602.8 371.0,613.0 371.5,603.9 372.0,619.6 372.5,602.4 373.0,606.3 373.5,603.3 374.0,601.5 374.5,602.3 375.0,607.2 375.5,607.5 376.0,618.3 376.5,595.9 377.0,616.9 377.5,602.7 378.0,613.1 378.5,606.2 379.0,595.7 379.5,614.8 380.0,616.8 380.5,632.9 381.0,601.8 381.5,620.4 382.0,595.5 382.5,619.3 383.0,626.6 383.5,611.6 384.0,603.3 384.5,602.4 385.0,626.7 385.5,613.6 386.0,616.0 386.5,616.3 387.0,607.8 387.5,644.2 388.0,606.0 388.5,595.1 389.0,632.2 389.5,595.1 390.0,611.5 390.5,622.9 391.0,607.8 391.5,622.9 392.0,631.7 392.5,606.6 393.0,645.7 393.5,621.0 394.0,629.4 394.5,643.8 395.0,642.5 395.5,639.0 396.0,625.7 396.5,647.6 397.0,651.9 397.5,613.0 398.0,640.4 398.5,645.3 399.0,642.7 399.5,625.2 400.0,647.5 400.5,627.7 401.0,629.7 401.5,646.7 402.0,613.2 402.5,634.6 403.0,635.1 403.5,631.4 404.0,639.7 404.5,614.4 405.0,624.4 405.5,631.7 406.0,625.9 406.5,646.3 407.0,633.6 407.5,645.7 408.0,612.2 408.5,623.4 409.0,640.4 409.5,648.2 410.0,634.4 410.5,651.4 411.0,627.0 411.5,651.4 412.0,634.3 412.5,639.1 413.0,651.3 413.5,633.1 414.0,630.9 414.5,641.2 415.0,651.2 415.5,649.8 416.0,632.1 416.5,632.5 417.0,647.7 417.5,639.5 418.0,632.1 418.5,640.8 419.0,632.0 419.5,651.0 420.0,639.6 420.5,649.7 421.0,636.3 421.5,628.4 422.0,644.7 422.5,650.9 423.0,622.3 423.5,649.7 424.0,645.9 424.5,619.1 425.0,635.2 425.5,625.5 426.0,631.4 426.5,629.3 427.0,641.6 427.5,623.3 428.0,641.3 428.5,608.4 429.0,623.9 429.5,605.0 430.0,606.6 430.5,637.0 431.0,611.9 431.5,639.8 432.0,628.9 432.5,636.1 433.0,627.6 433.5,624.7 434.0,632.2 434.5,627.0 435.0,620.0 435.5,634.8 436.0,605.0 436.5,628.8 437.0,618.8 437.5,625.8 438.0,621.3 438.5,605.0 439.0,625.2 439.5,628.3 440.0,611.2 440.5,623.2 441.0,626.9 441.5,606.7 442.0,633.8 442.5,631.9 443.0,607.3 443.5,628.7 444.0,629.4 444.5,623.9 445.0,616.5 445.5,623.6 446.0,642.7 446.5,625.8 447.0,622.0 447.5,616.3 448.0,631.2 448.5,628.7 449.0,606.5 449.5,625.1 450.0,618.9 450.5,623.4 451.0,632.8 451.5,617.3 452.0,621.2 452.5,620.1 453.0,616.0 453.5,616.0 454.0,617.2 454.5,617.6 455.0,614.5 455.5,620.1 456.0,614.8 456.5,619.5 457.0,613.4 457.5,613.1 458.0,614.7 458.5,613.0 459.0,604.3 459.5,613.8 460.0,602.6 460.5,618.9 461.0,611.8 461.5,602.4 462.0,611.3 462.5,611.4 463.0,608.9 463.5,599.5 464.0,605.4 464.5,609.0 465.0,605.5 465.5,610.3 466.0,606.2 466.5,611.1 467.0,602.4 467.5,600.5 468.0,604.8 468.5,600.7 469.0,595.3 469.5,603.5 470.0,596.1 470.5,601.8 471.0,595.9 471.5,594.8 472.0,594.0" fill="none" stroke="#00008b" stroke-width="1.5" stroke-linejoin="round" stroke-linecap="round"/>
<path d="M163.3,644.1 163.8,646.7 164.3,644.5 164.8,646.6 165.3,646.6 165.8,650.3 166.3,642.9 166.8,636.8 167.3,641.8 167.8,650.0 168.3,649.3 168.8,655.1 169.3,655.4 169.8,653.7 170.3,656.5 170.8,656.1 171.3,655.4 171.8,654.5 172.3,651.0 172.8,651.5 173.3,652.9 173.8,650.6 174.3,645.6 174.8,652.0 175.3,654.5 175.8,648.3 176.3,647.8 176.8,651.1 177.3,651.7 177.8,657.0 178.3,653.7 178.8,644.7 179.3,644.3 179.8,654.0 180.3,653.7 180.8,648.2 181.3,653.0 181.8,653.2 182.3,645.5 182.8,647.9 183.3,647.7 183.8,650.2 184.3,651.4 184.8,648.9 185.4,652.2 185.9,657.9 186.4,649.4 186.9,647.9 187.4,651.6 187.9,653.8 188.4,650.4 188.9,649.2 189.4,647.8 189.9,653.2 190.4,650.1 190.9,649.5 191.4,654.0 191.9,653.2 192.4,650.8 192.9,650.8 193.4,650.3 193.9,655.9 194.4,653.3 194.9,654.2 195.4,653.8 195.9,652.2 196.4,650.9 196.9,649.8 197.4,652.2 197.9,649.5 198.4,648.2 198.9,648.9 199.4,652.9 199.9,654.8 200.4,648.4 200.9,646.5 201.4,648.4 201.9,644.0 202.4,647.1 202.9,649.8 203.4,653.1 203.9,648.5 204.4,648.4 204.9,652.6 205.4,650.6 205.9,647.1 206.4,645.4 206.9,643.4 207.4,643.3 207.9,644.6 208.4,641.7 208.9,640.9 209.4,643.5 209.9,643.2 210.4,643.1 210.9,642.3 211.4,639.7 211.9,641.9 212.4,641.0 212.9,645.4 213.4,643.3 213.9,645.3 214.4,638.6 214.9,640.1 215.4,640.5 215.9,640.7 216.4,638.2 216.9,640.1 217.4,639.1 217.9,638.3 218.4,637.8 218.9,641.1 219.4,641.1 219.9,642.0 220.4,636.6 220.9,636.7 221.4,634.2 221.9,636.9 222.4,638.0 222.9,635.7 223.4,637.7 223.9,636.0 224.4,632.7 224.9,635.5 225.4,634.5 225.9,636.7 226.4,635.1 226.9,637.4 227.4,639.2 227.9,638.5 228.4,637.2 228.9,633.8 229.5,635.4 230.0,634.4 230.5,635.3 231.0,632.0 231.5,636.7 232.0,631.3 232.5,631.7 233.0,635.5 233.5,633.8 234.0,632.6 234.5,632.9 235.0,632.6 235.5,628.6 236.0,632.1 236.5,631.3 237.0,632.2 237.5,630.3 238.0,634.8 238.5,631.9 239.0,629.9 239.5,632.2 240.0,630.7 240.5,630.8 241.0,632.9 241.5,633.2 242.0,629.4 242.5,629.1 243.0,633.3 243.5,635.8 244.0,628.5 244.5,629.5 245.0,624.8 245.5,628.0 246.0,629.9 246.5,631.6 247.0,631.2 247.5,631.9 248.0,632.7 248.5,630.5 249.0,628.6 249.5,628.4 250.0,626.2 250.5,632.3 251.0,631.7 M284.0,654.9 284.5,658.5 285.0,652.6 285.5,652.5 286.0,651.5 286.5,652.1 287.0,654.9 287.5,648.3 288.0,651.4 288.5,650.0 289.0,652.8 289.5,651.3 290.0,654.4 290.5,654.7 291.0,654.5 291.5,652.3 292.0,653.5 292.5,647.2 293.0,642.4 293.5,647.1 294.0,648.3 294.5,657.0 295.0,656.0 295.5,653.2 296.0,659.9 296.5,649.5 297.0,649.0 297.5,649.1 298.0,652.5 298.5,652.0 299.0,653.1 299.5,658.7 300.0,655.0 300.5,653.0 301.0,651.1 301.5,649.4 302.0,649.5 302.5,649.4 303.0,651.4 303.5,647.5 304.0,651.4 304.5,657.7 305.0,660.6 305.5,659.8 306.0,659.2 306.5,657.9 307.0,657.0 307.5,659.2 308.0,657.7 308.5,661.7 309.0,657.3 309.5,654.9 310.0,649.7 310.5,653.0 311.0,651.0 311.5,653.4 312.0,647.8 312.5,653.5 313.0,651.1 313.5,648.0 314.0,649.9 314.5,653.9 315.0,653.2 315.5,654.3 316.0,651.3 316.5,648.5 317.0,647.1 317.5,646.6 318.0,649.5 318.5,649.6 319.0,648.0 319.5,645.2 320.0,648.0 320.5,646.7 321.0,643.3 321.5,647.7 322.0,643.1 322.5,640.1 323.0,644.3 323.5,641.6 324.0,640.5 324.5,642.0 325.0,640.9 325.5,641.9 326.0,640.5 326.5,639.4 327.0,639.0 327.5,639.8 328.0,638.9 328.5,639.1 329.0,637.6 329.5,637.0 330.0,638.4 330.5,638.9 331.0,637.4 331.6,635.3 332.1,634.6 332.6,634.6 333.1,634.8 333.6,634.0 334.1,634.9 334.6,635.7 335.1,634.8 335.6,634.4 336.1,632.3 336.6,631.1 337.1,631.5 337.6,632.2 338.1,633.6 338.6,633.7 339.1,631.1 339.6,633.7 340.1,633.2 340.6,636.1 341.1,634.3 341.6,632.7 342.1,631.9 342.6,631.7 343.1,631.8 343.6,629.5 344.1,628.9 344.6,629.3 345.1,631.7 345.6,630.9 346.1,629.0 346.6,629.3 347.1,629.2 347.6,629.1 348.1,628.5 348.6,627.2 349.1,627.7 349.6,626.7 350.1,627.0 350.6,627.3 351.1,627.7 351.6,629.1 352.1,628.1 352.6,626.3 353.1,626.9 353.6,623.8 354.1,627.2 354.6,627.5 355.1,627.5 355.6,626.3 356.1,626.1 356.6,625.8 357.1,626.3 357.6,627.0 358.1,626.0 358.6,627.1 359.1,625.8 359.6,625.5 360.1,626.1 360.6,626.1 361.1,625.0 361.6,627.9 362.1,627.0 362.6,627.5 363.1,627.4 363.6,627.1 364.1,627.9 364.6,628.6 365.1,628.3 365.6,628.3 366.1,626.4 366.6,629.3 367.1,628.9 367.6,627.1 368.1,628.1 368.6,629.7 369.1,628.5 369.6,627.8 370.1,628.4 370.6,628.7 371.1,628.5 371.6,629.4 372.1,628.0 372.6,627.6 373.1,628.3 373.6,628.8 374.1,629.3 374.6,627.9 375.1,631.8 375.6,630.7 376.1,634.0 376.6,632.6 377.1,634.7 377.6,632.6 378.1,634.0 378.6,633.5 379.1,630.5 379.6,638.1 380.1,639.2 380.6,646.0 381.1,638.9 381.6,640.4 382.1,640.5 382.6,640.4 383.1,638.9 383.6,638.5 384.1,643.1 384.6,640.1 385.1,639.4 385.6,641.6 386.1,643.1 386.6,640.8 387.1,640.1 387.6,646.3 388.1,646.9 388.6,650.6 389.1,646.4 389.6,648.4 390.1,646.7 390.6,648.5 391.1,654.4 391.6,651.5 392.1,651.5 392.6,649.3 393.1,650.2 393.6,642.3 394.1,647.7 394.6,655.2 395.1,651.8 395.6,652.0 396.1,651.7 396.6,653.3 397.1,648.5 397.6,646.1 398.1,643.9 398.6,647.6 399.1,648.2 399.6,653.9 400.1,654.8 400.6,652.8 401.1,650.5 401.6,659.3 402.1,653.0 402.6,646.5 403.1,648.1 403.6,648.1 404.1,653.0 404.6,652.2 405.1,652.9 405.6,649.5 406.1,657.8 406.6,652.5 407.1,652.2 407.6,651.6 408.1,652.7 408.6,651.8 409.1,649.2 409.6,650.2 410.1,645.7 410.6,647.3 411.1,644.5 411.6,649.9 412.1,650.9 412.6,649.4 413.1,652.0 413.6,658.7 414.1,655.8 414.6,657.2 415.1,656.1 415.6,652.1 416.1,654.9 416.6,653.9 417.1,657.8 417.6,650.9 418.1,652.4 418.6,653.0 419.1,652.7 419.6,651.0 420.1,645.6 420.6,657.4 421.1,651.6 421.6,651.2 422.1,651.0 422.6,653.4 423.1,652.4 423.6,648.7 424.1,645.7 424.6,646.5 425.1,647.1 425.7,644.2 426.2,643.9 426.7,646.9 427.2,643.8 427.7,643.9 428.2,646.5 428.7,641.2 429.2,646.2 429.7,648.6 430.2,642.7 430.7,645.7 431.2,645.3 431.7,645.2 432.2,640.6 432.7,642.0 433.2,644.8 433.7,647.5 434.2,646.1 434.7,643.8 435.2,645.9 435.7,647.0 436.2,645.7 436.7,649.8 437.2,645.9 437.7,645.9 438.2,642.9 438.7,645.4 439.2,642.6 439.7,644.5 440.2,646.3 440.7,643.0 441.2,644.8 441.7,643.0 442.2,639.4 442.7,641.6 443.2,641.3 443.7,642.5 444.2,639.7 444.7,638.9 445.2,642.2 445.7,643.9 446.2,641.9 446.7,638.6 447.2,636.3 447.7,642.1 448.2,637.6 448.7,637.0 449.2,637.8 449.7,635.2 450.2,636.3 450.7,638.2 451.2,636.1 451.7,634.6 452.2,629.9 452.7,628.9 453.2,631.7 453.7,631.3 454.2,629.5 454.7,629.2 455.2,631.5 455.7,629.0 456.2,627.3 456.7,629.1 457.2,630.5 457.7,630.3 458.2,628.2 458.7,627.2 459.2,628.0 459.7,626.7 460.2,627.8 460.7,627.5 461.2,628.4 461.7,629.4 462.2,631.8 462.7,630.3 463.2,629.2 463.7,627.2 464.2,626.8 464.7,627.3 465.2,627.4 465.7,628.8 466.2,629.5 466.7,630.5 467.2,631.5 467.7,627.3 468.2,628.7 468.7,628.8 469.2,627.5 469.7,627.3 470.2,625.5 470.7,624.8 471.2,627.0 471.7,626.3 472.2,625.6 472.7,621.8" fill="none" stroke="#ff0000" stroke-width="1.5" stroke-linejoin="round" stroke-linecap="round"/>
<line x1="72.4" y1="8.30" x2="72.4" y2="62.60" stroke="#a020f0" stroke-width="1"/>
<line x1="62.400000000000006" y1="62.60" x2="72.4" y2="62.60" stroke="#a020f0" stroke-width="1"/>
<line x1="62.400000000000006" y1="51.74" x2="72.4" y2="51.74" stroke="#a020f0" stroke-width="1"/>
<line x1="62.400000000000006" y1="40.88" x2="72.4" y2="40.88" stroke="#a020f0" stroke-width="1"/>
<line x1="62.400000000000006" y1="30.02" x2="72.4" y2="30.02" stroke="#a020f0" stroke-width="1"/>
<line x1="62.400000000000006" y1="19.16" x2="72.4" y2="19.16" stroke="#a020f0" stroke-width="1"/>
<line x1="62.400000000000006" y1="8.30" x2="72.4" y2="8.30" stroke="#a020f0" stroke-width="1"/>
<text transform="translate(50.00,62.60) rotate(-90)" text-anchor="middle" fill="#a020f0" font-size="15" font-family="'Liberation Sans', sans-serif"  stroke="#a020f0">0</text>
<text transform="translate(50.00,30.02) rotate(-90)" text-anchor="middle" fill="#a020f0" font-size="15" font-family="'Liberation Sans', sans-serif"  stroke="#a020f0">15</text>
<line x1="72.4" y1="89.90" x2="72.4" y2="130.40" stroke="#222" stroke-width="1"/>
<line x1="62.400000000000006" y1="89.90" x2="72.4" y2="89.90" stroke="#222" stroke-width="1"/>
<line x1="62.400000000000006" y1="103.40" x2="72.4" y2="103.40" stroke="#222" stroke-width="1"/>
<line x1="62.400000000000006" y1="116.90" x2="72.4" y2="116.90" stroke="#222" stroke-width="1"/>
<line x1="62.400000000000006" y1="130.40" x2="72.4" y2="130.40" stroke="#222" stroke-width="1"/>
<text transform="translate(50.00,89.90) rotate(-90)" text-anchor="middle" fill="#000" font-size="15" font-family="'Liberation Sans', sans-serif"  stroke="#000">350</text>
<text transform="translate(50.00,130.40) rotate(-90)" text-anchor="middle" fill="#000" font-size="15" font-family="'Liberation Sans', sans-serif"  stroke="#000">200</text>
<line x1="72.4" y1="157.40" x2="72.4" y2="211.30" stroke="#1a1aa0" stroke-width="1"/>
<line x1="62.400000000000006" y1="157.40" x2="72.4" y2="157.40" stroke="#1a1aa0" stroke-width="1"/>
<line x1="62.400000000000006" y1="164.14" x2="72.4" y2="164.14" stroke="#1a1aa0" stroke-width="1"/>
<line x1="62.400000000000006" y1="170.88" x2="72.4" y2="170.88" stroke="#1a1aa0" stroke-width="1"/>
<line x1="62.400000000000006" y1="177.61" x2="72.4" y2="177.61" stroke="#1a1aa0" stroke-width="1"/>
<line x1="62.400000000000006" y1="184.35" x2="72.4" y2="184.35" stroke="#1a1aa0" stroke-width="1"/>
<line x1="62.400000000000006" y1="191.09" x2="72.4" y2="191.09" stroke="#1a1aa0" stroke-width="1"/>
<line x1="62.400000000000006" y1="197.83" x2="72.4" y2="197.83" stroke="#1a1aa0" stroke-width="1"/>
<line x1="62.400000000000006" y1="204.56" x2="72.4" y2="204.56" stroke="#1a1aa0" stroke-width="1"/>
<line x1="62.400000000000006" y1="211.30" x2="72.4" y2="211.30" stroke="#1a1aa0" stroke-width="1"/>
<text transform="translate(50.00,177.61) rotate(-90)" text-anchor="middle" fill="#0000ff" font-size="15" font-family="'Liberation Sans', sans-serif"  stroke="#0000ff">70</text>
<text transform="translate(50.00,211.30) rotate(-90)" text-anchor="middle" fill="#0000ff" font-size="15" font-family="'Liberation Sans', sans-serif"  stroke="#0000ff">20</text>
<line x1="581.4" y1="89.50" x2="581.4" y2="143.70" stroke="#ff8c00" stroke-width="1"/>
<line x1="581.4" y1="89.50" x2="591.4" y2="89.50" stroke="#ff8c00" stroke-width="1"/>
<line x1="581.4" y1="103.05" x2="591.4" y2="103.05" stroke="#ff8c00" stroke-width="1"/>
<line x1="581.4" y1="116.60" x2="591.4" y2="116.60" stroke="#ff8c00" stroke-width="1"/>
<line x1="581.4" y1="130.15" x2="591.4" y2="130.15" stroke="#ff8c00" stroke-width="1"/>
<line x1="581.4" y1="143.70" x2="591.4" y2="143.70" stroke="#ff8c00" stroke-width="1"/>
<text transform="translate(615.00,103.05) rotate(-90)" text-anchor="middle" fill="#ff8c00" font-size="15" font-family="'Liberation Sans', sans-serif"  stroke="#ff8c00">300</text>
<text transform="translate(615.00,143.70) rotate(-90)" text-anchor="middle" fill="#ff8c00" font-size="15" font-family="'Liberation Sans', sans-serif"  stroke="#ff8c00">150</text>
<line x1="581.4" y1="171.00" x2="581.4" y2="224.60" stroke="#ff0000" stroke-width="1"/>
<line x1="581.4" y1="171.00" x2="591.4" y2="171.00" stroke="#ff0000" stroke-width="1"/>
<line x1="581.4" y1="177.70" x2="591.4" y2="177.70" stroke="#ff0000" stroke-width="1"/>
<line x1="581.4" y1="184.40" x2="591.4" y2="184.40" stroke="#ff0000" stroke-width="1"/>
<line x1="581.4" y1="191.10" x2="591.4" y2="191.10" stroke="#ff0000" stroke-width="1"/>
<line x1="581.4" y1="197.80" x2="591.4" y2="197.80" stroke="#ff0000" stroke-width="1"/>
<line x1="581.4" y1="204.50" x2="591.4" y2="204.50" stroke="#ff0000" stroke-width="1"/>
<line x1="581.4" y1="211.20" x2="591.4" y2="211.20" stroke="#ff0000" stroke-width="1"/>
<line x1="581.4" y1="217.90" x2="591.4" y2="217.90" stroke="#ff0000" stroke-width="1"/>
<line x1="581.4" y1="224.60" x2="591.4" y2="224.60" stroke="#ff0000" stroke-width="1"/>
<text transform="translate(615.00,191.10) rotate(-90)" text-anchor="middle" fill="#ff0000" font-size="15" font-family="'Liberation Sans', sans-serif"  stroke="#ff0000">0</text>
<text transform="translate(615.00,224.60) rotate(-90)" text-anchor="middle" fill="#ff0000" font-size="15" font-family="'Liberation Sans', sans-serif"  stroke="#ff0000">−25</text>
<line x1="72.4" y1="225.86" x2="72.4" y2="280.16" stroke="#a020f0" stroke-width="1"/>
<line x1="62.400000000000006" y1="280.16" x2="72.4" y2="280.16" stroke="#a020f0" stroke-width="1"/>
<line x1="62.400000000000006" y1="269.30" x2="72.4" y2="269.30" stroke="#a020f0" stroke-width="1"/>
<line x1="62.400000000000006" y1="258.44" x2="72.4" y2="258.44" stroke="#a020f0" stroke-width="1"/>
<line x1="62.400000000000006" y1="247.58" x2="72.4" y2="247.58" stroke="#a020f0" stroke-width="1"/>
<line x1="62.400000000000006" y1="236.72" x2="72.4" y2="236.72" stroke="#a020f0" stroke-width="1"/>
<line x1="62.400000000000006" y1="225.86" x2="72.4" y2="225.86" stroke="#a020f0" stroke-width="1"/>
<text transform="translate(50.00,280.16) rotate(-90)" text-anchor="middle" fill="#a020f0" font-size="15" font-family="'Liberation Sans', sans-serif"  stroke="#a020f0">0</text>
<text transform="translate(50.00,247.58) rotate(-90)" text-anchor="middle" fill="#a020f0" font-size="15" font-family="'Liberation Sans', sans-serif"  stroke="#a020f0">15</text>
<line x1="72.4" y1="307.46" x2="72.4" y2="347.96" stroke="#222" stroke-width="1"/>
<line x1="62.400000000000006" y1="307.46" x2="72.4" y2="307.46" stroke="#222" stroke-width="1"/>
<line x1="62.400000000000006" y1="320.96" x2="72.4" y2="320.96" stroke="#222" stroke-width="1"/>
<line x1="62.400000000000006" y1="334.46" x2="72.4" y2="334.46" stroke="#222" stroke-width="1"/>
<line x1="62.400000000000006" y1="347.96" x2="72.4" y2="347.96" stroke="#222" stroke-width="1"/>
<text transform="translate(50.00,307.46) rotate(-90)" text-anchor="middle" fill="#000" font-size="15" font-family="'Liberation Sans', sans-serif"  stroke="#000">350</text>
<text transform="translate(50.00,347.96) rotate(-90)" text-anchor="middle" fill="#000" font-size="15" font-family="'Liberation Sans', sans-serif"  stroke="#000">200</text>
<line x1="72.4" y1="374.96" x2="72.4" y2="428.86" stroke="#1a1aa0" stroke-width="1"/>
<line x1="62.400000000000006" y1="374.96" x2="72.4" y2="374.96" stroke="#1a1aa0" stroke-width="1"/>
<line x1="62.400000000000006" y1="381.70" x2="72.4" y2="381.70" stroke="#1a1aa0" stroke-width="1"/>
<line x1="62.400000000000006" y1="388.44" x2="72.4" y2="388.44" stroke="#1a1aa0" stroke-width="1"/>
<line x1="62.400000000000006" y1="395.17" x2="72.4" y2="395.17" stroke="#1a1aa0" stroke-width="1"/>
<line x1="62.400000000000006" y1="401.91" x2="72.4" y2="401.91" stroke="#1a1aa0" stroke-width="1"/>
<line x1="62.400000000000006" y1="408.65" x2="72.4" y2="408.65" stroke="#1a1aa0" stroke-width="1"/>
<line x1="62.400000000000006" y1="415.38" x2="72.4" y2="415.38" stroke="#1a1aa0" stroke-width="1"/>
<line x1="62.400000000000006" y1="422.12" x2="72.4" y2="422.12" stroke="#1a1aa0" stroke-width="1"/>
<line x1="62.400000000000006" y1="428.86" x2="72.4" y2="428.86" stroke="#1a1aa0" stroke-width="1"/>
<text transform="translate(50.00,395.17) rotate(-90)" text-anchor="middle" fill="#0000ff" font-size="15" font-family="'Liberation Sans', sans-serif"  stroke="#0000ff">70</text>
<text transform="translate(50.00,428.86) rotate(-90)" text-anchor="middle" fill="#0000ff" font-size="15" font-family="'Liberation Sans', sans-serif"  stroke="#0000ff">20</text>
<line x1="581.4" y1="307.06" x2="581.4" y2="361.26" stroke="#ff8c00" stroke-width="1"/>
<line x1="581.4" y1="307.06" x2="591.4" y2="307.06" stroke="#ff8c00" stroke-width="1"/>
<line x1="581.4" y1="320.61" x2="591.4" y2="320.61" stroke="#ff8c00" stroke-width="1"/>
<line x1="581.4" y1="334.16" x2="591.4" y2="334.16" stroke="#ff8c00" stroke-width="1"/>
<line x1="581.4" y1="347.71" x2="591.4" y2="347.71" stroke="#ff8c00" stroke-width="1"/>
<line x1="581.4" y1="361.26" x2="591.4" y2="361.26" stroke="#ff8c00" stroke-width="1"/>
<text transform="translate(615.00,320.61) rotate(-90)" text-anchor="middle" fill="#ff8c00" font-size="15" font-family="'Liberation Sans', sans-serif"  stroke="#ff8c00">300</text>
<text transform="translate(615.00,361.26) rotate(-90)" text-anchor="middle" fill="#ff8c00" font-size="15" font-family="'Liberation Sans', sans-serif"  stroke="#ff8c00">150</text>
<line x1="581.4" y1="388.56" x2="581.4" y2="442.16" stroke="#ff0000" stroke-width="1"/>
<line x1="581.4" y1="388.56" x2="591.4" y2="388.56" stroke="#ff0000" stroke-width="1"/>
<line x1="581.4" y1="395.26" x2="591.4" y2="395.26" stroke="#ff0000" stroke-width="1"/>
<line x1="581.4" y1="401.96" x2="591.4" y2="401.96" stroke="#ff0000" stroke-width="1"/>
<line x1="581.4" y1="408.66" x2="591.4" y2="408.66" stroke="#ff0000" stroke-width="1"/>
<line x1="581.4" y1="415.36" x2="591.4" y2="415.36" stroke="#ff0000" stroke-width="1"/>
<line x1="581.4" y1="422.06" x2="591.4" y2="422.06" stroke="#ff0000" stroke-width="1"/>
<line x1="581.4" y1="428.76" x2="591.4" y2="428.76" stroke="#ff0000" stroke-width="1"/>
<line x1="581.4" y1="435.46" x2="591.4" y2="435.46" stroke="#ff0000" stroke-width="1"/>
<line x1="581.4" y1="442.16" x2="591.4" y2="442.16" stroke="#ff0000" stroke-width="1"/>
<text transform="translate(615.00,408.66) rotate(-90)" text-anchor="middle" fill="#ff0000" font-size="15" font-family="'Liberation Sans', sans-serif"  stroke="#ff0000">0</text>
<text transform="translate(615.00,442.16) rotate(-90)" text-anchor="middle" fill="#ff0000" font-size="15" font-family="'Liberation Sans', sans-serif"  stroke="#ff0000">−25</text>
<line x1="72.4" y1="443.42" x2="72.4" y2="497.72" stroke="#a020f0" stroke-width="1"/>
<line x1="62.400000000000006" y1="497.72" x2="72.4" y2="497.72" stroke="#a020f0" stroke-width="1"/>
<line x1="62.400000000000006" y1="486.86" x2="72.4" y2="486.86" stroke="#a020f0" stroke-width="1"/>
<line x1="62.400000000000006" y1="476.00" x2="72.4" y2="476.00" stroke="#a020f0" stroke-width="1"/>
<line x1="62.400000000000006" y1="465.14" x2="72.4" y2="465.14" stroke="#a020f0" stroke-width="1"/>
<line x1="62.400000000000006" y1="454.28" x2="72.4" y2="454.28" stroke="#a020f0" stroke-width="1"/>
<line x1="62.400000000000006" y1="443.42" x2="72.4" y2="443.42" stroke="#a020f0" stroke-width="1"/>
<text transform="translate(50.00,497.72) rotate(-90)" text-anchor="middle" fill="#a020f0" font-size="15" font-family="'Liberation Sans', sans-serif"  stroke="#a020f0">0</text>
<text transform="translate(50.00,465.14) rotate(-90)" text-anchor="middle" fill="#a020f0" font-size="15" font-family="'Liberation Sans', sans-serif"  stroke="#a020f0">15</text>
<line x1="72.4" y1="525.02" x2="72.4" y2="565.52" stroke="#222" stroke-width="1"/>
<line x1="62.400000000000006" y1="525.02" x2="72.4" y2="525.02" stroke="#222" stroke-width="1"/>
<line x1="62.400000000000006" y1="538.52" x2="72.4" y2="538.52" stroke="#222" stroke-width="1"/>
<line x1="62.400000000000006" y1="552.02" x2="72.4" y2="552.02" stroke="#222" stroke-width="1"/>
<line x1="62.400000000000006" y1="565.52" x2="72.4" y2="565.52" stroke="#222" stroke-width="1"/>
<text transform="translate(50.00,525.02) rotate(-90)" text-anchor="middle" fill="#000" font-size="15" font-family="'Liberation Sans', sans-serif"  stroke="#000">350</text>
<text transform="translate(50.00,565.52) rotate(-90)" text-anchor="middle" fill="#000" font-size="15" font-family="'Liberation Sans', sans-serif"  stroke="#000">200</text>
<line x1="72.4" y1="592.52" x2="72.4" y2="646.42" stroke="#1a1aa0" stroke-width="1"/>
<line x1="62.400000000000006" y1="592.52" x2="72.4" y2="592.52" stroke="#1a1aa0" stroke-width="1"/>
<line x1="62.400000000000006" y1="599.26" x2="72.4" y2="599.26" stroke="#1a1aa0" stroke-width="1"/>
<line x1="62.400000000000006" y1="606.00" x2="72.4" y2="606.00" stroke="#1a1aa0" stroke-width="1"/>
<line x1="62.400000000000006" y1="612.73" x2="72.4" y2="612.73" stroke="#1a1aa0" stroke-width="1"/>
<line x1="62.400000000000006" y1="619.47" x2="72.4" y2="619.47" stroke="#1a1aa0" stroke-width="1"/>
<line x1="62.400000000000006" y1="626.21" x2="72.4" y2="626.21" stroke="#1a1aa0" stroke-width="1"/>
<line x1="62.400000000000006" y1="632.95" x2="72.4" y2="632.95" stroke="#1a1aa0" stroke-width="1"/>
<line x1="62.400000000000006" y1="639.68" x2="72.4" y2="639.68" stroke="#1a1aa0" stroke-width="1"/>
<line x1="62.400000000000006" y1="646.42" x2="72.4" y2="646.42" stroke="#1a1aa0" stroke-width="1"/>
<text transform="translate(50.00,612.73) rotate(-90)" text-anchor="middle" fill="#0000ff" font-size="15" font-family="'Liberation Sans', sans-serif"  stroke="#0000ff">70</text>
<text transform="translate(50.00,646.42) rotate(-90)" text-anchor="middle" fill="#0000ff" font-size="15" font-family="'Liberation Sans', sans-serif"  stroke="#0000ff">20</text>
<line x1="581.4" y1="524.62" x2="581.4" y2="578.82" stroke="#ff8c00" stroke-width="1"/>
<line x1="581.4" y1="524.62" x2="591.4" y2="524.62" stroke="#ff8c00" stroke-width="1"/>
<line x1="581.4" y1="538.17" x2="591.4" y2="538.17" stroke="#ff8c00" stroke-width="1"/>
<line x1="581.4" y1="551.72" x2="591.4" y2="551.72" stroke="#ff8c00" stroke-width="1"/>
<line x1="581.4" y1="565.27" x2="591.4" y2="565.27" stroke="#ff8c00" stroke-width="1"/>
<line x1="581.4" y1="578.82" x2="591.4" y2="578.82" stroke="#ff8c00" stroke-width="1"/>
<text transform="translate(615.00,538.17) rotate(-90)" text-anchor="middle" fill="#ff8c00" font-size="15" font-family="'Liberation Sans', sans-serif"  stroke="#ff8c00">300</text>
<text transform="translate(615.00,578.82) rotate(-90)" text-anchor="middle" fill="#ff8c00" font-size="15" font-family="'Liberation Sans', sans-serif"  stroke="#ff8c00">150</text>
<line x1="581.4" y1="606.12" x2="581.4" y2="659.72" stroke="#ff0000" stroke-width="1"/>
<line x1="581.4" y1="606.12" x2="591.4" y2="606.12" stroke="#ff0000" stroke-width="1"/>
<line x1="581.4" y1="612.82" x2="591.4" y2="612.82" stroke="#ff0000" stroke-width="1"/>
<line x1="581.4" y1="619.52" x2="591.4" y2="619.52" stroke="#ff0000" stroke-width="1"/>
<line x1="581.4" y1="626.22" x2="591.4" y2="626.22" stroke="#ff0000" stroke-width="1"/>
<line x1="581.4" y1="632.92" x2="591.4" y2="632.92" stroke="#ff0000" stroke-width="1"/>
<line x1="581.4" y1="639.62" x2="591.4" y2="639.62" stroke="#ff0000" stroke-width="1"/>
<line x1="581.4" y1="646.32" x2="591.4" y2="646.32" stroke="#ff0000" stroke-width="1"/>
<line x1="581.4" y1="653.02" x2="591.4" y2="653.02" stroke="#ff0000" stroke-width="1"/>
<line x1="581.4" y1="659.72" x2="591.4" y2="659.72" stroke="#ff0000" stroke-width="1"/>
<text transform="translate(615.00,626.22) rotate(-90)" text-anchor="middle" fill="#ff0000" font-size="15" font-family="'Liberation Sans', sans-serif"  stroke="#ff0000">0</text>
<text transform="translate(615.00,659.72) rotate(-90)" text-anchor="middle" fill="#ff0000" font-size="15" font-family="'Liberation Sans', sans-serif"  stroke="#ff0000">−25</text>
<line x1="176" y1="669.3" x2="520.7" y2="669.3" stroke="#222" stroke-width="1"/>
<line x1="176" y1="669.3" x2="176" y2="679" stroke="#222" stroke-width="1"/>
<text x="176" y="702" text-anchor="middle" font-size="15.4" font-family="'Liberation Sans', sans-serif" fill="#000" stroke="#000">2014</text>
<line x1="290.9" y1="669.3" x2="290.9" y2="679" stroke="#222" stroke-width="1"/>
<text x="290.9" y="702" text-anchor="middle" font-size="15.4" font-family="'Liberation Sans', sans-serif" fill="#000" stroke="#000">2015</text>
<line x1="405.7" y1="669.3" x2="405.7" y2="679" stroke="#222" stroke-width="1"/>
<text x="405.7" y="702" text-anchor="middle" font-size="15.4" font-family="'Liberation Sans', sans-serif" fill="#000" stroke="#000">2016</text>
<line x1="520.7" y1="669.3" x2="520.7" y2="679" stroke="#222" stroke-width="1"/>
<text x="520.7" y="702" text-anchor="middle" font-size="15.4" font-family="'Liberation Sans', sans-serif" fill="#000" stroke="#000">2017</text>
<text x="79.5" y="28.2" font-size="15.4" font-weight="bold" font-family="'Liberation Sans', sans-serif" stroke="#000">Yala, 5350 m a.s.l.</text>
<text x="82.4" y="243" font-size="15.4" font-weight="bold" font-family="'Liberation Sans', sans-serif" stroke="#000">Mera 5380 m a.s.l.</text>
<text x="80.8" y="455.3" font-size="15.4" font-weight="bold" font-family="'Liberation Sans', sans-serif" stroke="#000">Mera 6352 m a.s.l.</text>
<rect x="78.4" y="43.30" width="11" height="9" fill="#add8e6" stroke="#222" stroke-width="1"/>
<text x="103.6" y="53.30" font-size="15.5" font-family="'Liberation Sans', sans-serif" stroke="#000">monsoon</text>
<rect x="78.4" y="61.90" width="11" height="9" fill="#00ff7f" stroke="#222" stroke-width="1"/>
<text x="103.6" y="71.90" font-size="15.5" font-family="'Liberation Sans', sans-serif" stroke="#000">pre−monsoon</text>
<rect x="78.4" y="80.50" width="11" height="9" fill="#f2f2f2" stroke="#222" stroke-width="1"/>
<text x="103.6" y="90.50" font-size="15.5" font-family="'Liberation Sans', sans-serif" stroke="#000">post−monsoon</text>
<line x1="106.6" y1="124.80" x2="135.9" y2="124.80" stroke="#a020f0" stroke-width="1.2"/>
<text x="150" y="129.00" font-size="15" font-family="'Liberation Sans', sans-serif" stroke="#000"><tspan font-style="italic">w</tspan></text>
<line x1="106.6" y1="143.40" x2="135.9" y2="143.40" stroke="#000" stroke-width="2"/>
<text x="150" y="147.90" font-size="15" font-family="'Liberation Sans', sans-serif" stroke="#000"><tspan font-style="italic">SW</tspan><tspan font-size="11" dy="2.4">inc</tspan></text>
<line x1="106.6" y1="162.00" x2="135.9" y2="162.00" stroke="#ff8c00" stroke-width="2"/>
<text x="150" y="166.60" font-size="15" font-family="'Liberation Sans', sans-serif" stroke="#000"><tspan font-style="italic">LW</tspan><tspan font-size="11" dy="2.4">inc</tspan></text>
<line x1="106.6" y1="180.60" x2="135.9" y2="180.60" stroke="#00008b" stroke-width="2"/>
<text x="150" y="185.40" font-size="15" font-family="'Liberation Sans', sans-serif" stroke="#000"><tspan font-style="italic">T</tspan><tspan font-size="11" dy="1.6" dx="2">a</tspan></text>
<line x1="106.6" y1="199.20" x2="135.9" y2="199.20" stroke="#ff0000" stroke-width="2"/>
<text x="150" y="204.60" font-size="15" font-family="'Liberation Sans', sans-serif" stroke="#000">RH</text>
<text x="242.6" y="93.5" font-size="13" fill="#ff0000" font-family="'Liberation Sans', sans-serif" stroke="#ff0000"><tspan font-style="italic">LW</tspan><tspan font-size="9.5" dy="1">out</tspan></text>
<text x="466.1" y="90.7" font-size="13" fill="#ff0000" font-family="'Liberation Sans', sans-serif" stroke="#ff0000"><tspan font-style="italic">LW</tspan><tspan font-size="9.5" dy="1">out</tspan></text>
<text x="235.2" y="310.4" font-size="13" fill="#ff0000" font-family="'Liberation Sans', sans-serif" stroke="#ff0000"><tspan font-style="italic">LW</tspan><tspan font-size="9.5" dy="1">out</tspan></text>
<text x="252.8" y="541.6" font-size="13" fill="#ff0000" font-family="'Liberation Sans', sans-serif" stroke="#ff0000"><tspan font-style="italic">LW</tspan><tspan font-size="9.5" dy="1">out</tspan></text>
<text transform="translate(13.2,366.3) rotate(-90)" font-size="12.6" font-family="'Liberation Sans', sans-serif" fill="#000" stroke="#000"><tspan font-style="italic">SW</tspan><tspan font-size="8.8" dy="2" dx="0.8">inc</tspan><tspan dy="-2"> [Wm</tspan><tspan font-size="9.6" dy="-6">-2</tspan><tspan dy="6" dx="0.6">] </tspan><tspan fill="#a020f0" stroke="#a020f0">w [ms</tspan><tspan fill="#a020f0" font-size="9.6" dy="-6" stroke="#a020f0">−1</tspan><tspan fill="#a020f0" dy="6" dx="0.6" stroke="#a020f0"> ]</tspan></text>
<text transform="translate(13.2,650.8) rotate(-90)" font-size="12.6" font-family="'Liberation Sans', sans-serif" fill="#0000ff" stroke="#0000ff">RH [%]</text>
<text transform="translate(653,378) rotate(-90)" font-size="12.6" font-family="'Liberation Sans', sans-serif" fill="#ffa500" stroke="#ffa500"><tspan font-style="italic">LW</tspan><tspan font-size="8.8" dy="2" dx="0.6">inc</tspan><tspan dy="-2"> [Wm</tspan><tspan font-size="8.8" dy="-5">-2</tspan><tspan dy="5">]</tspan></text>
<text transform="translate(682.4,378.3) rotate(-90)" font-size="12.6" font-family="'Liberation Sans', sans-serif" fill="#ff0000" stroke="#ff0000"><tspan font-style="italic">LW</tspan><tspan font-size="8.8" dy="2" dx="0.6">out</tspan><tspan dy="-2"> [Wm</tspan><tspan font-size="8.8" dy="-5">-2</tspan><tspan dy="5">]</tspan></text>
<text transform="translate(647.6,651.3) rotate(-90)" font-size="12.6" font-family="'Liberation Sans', sans-serif" fill="#ff0000" stroke="#ff0000"><tspan font-style="italic">T</tspan><tspan font-size="8.8" dy="2" dx="0.3">a</tspan><tspan dy="-2"> [</tspan><tspan font-size="8.8" dy="-5.5" dx="0.5">o</tspan><tspan dy="5.5"> C]</tspan></text>
</svg></body></html>
